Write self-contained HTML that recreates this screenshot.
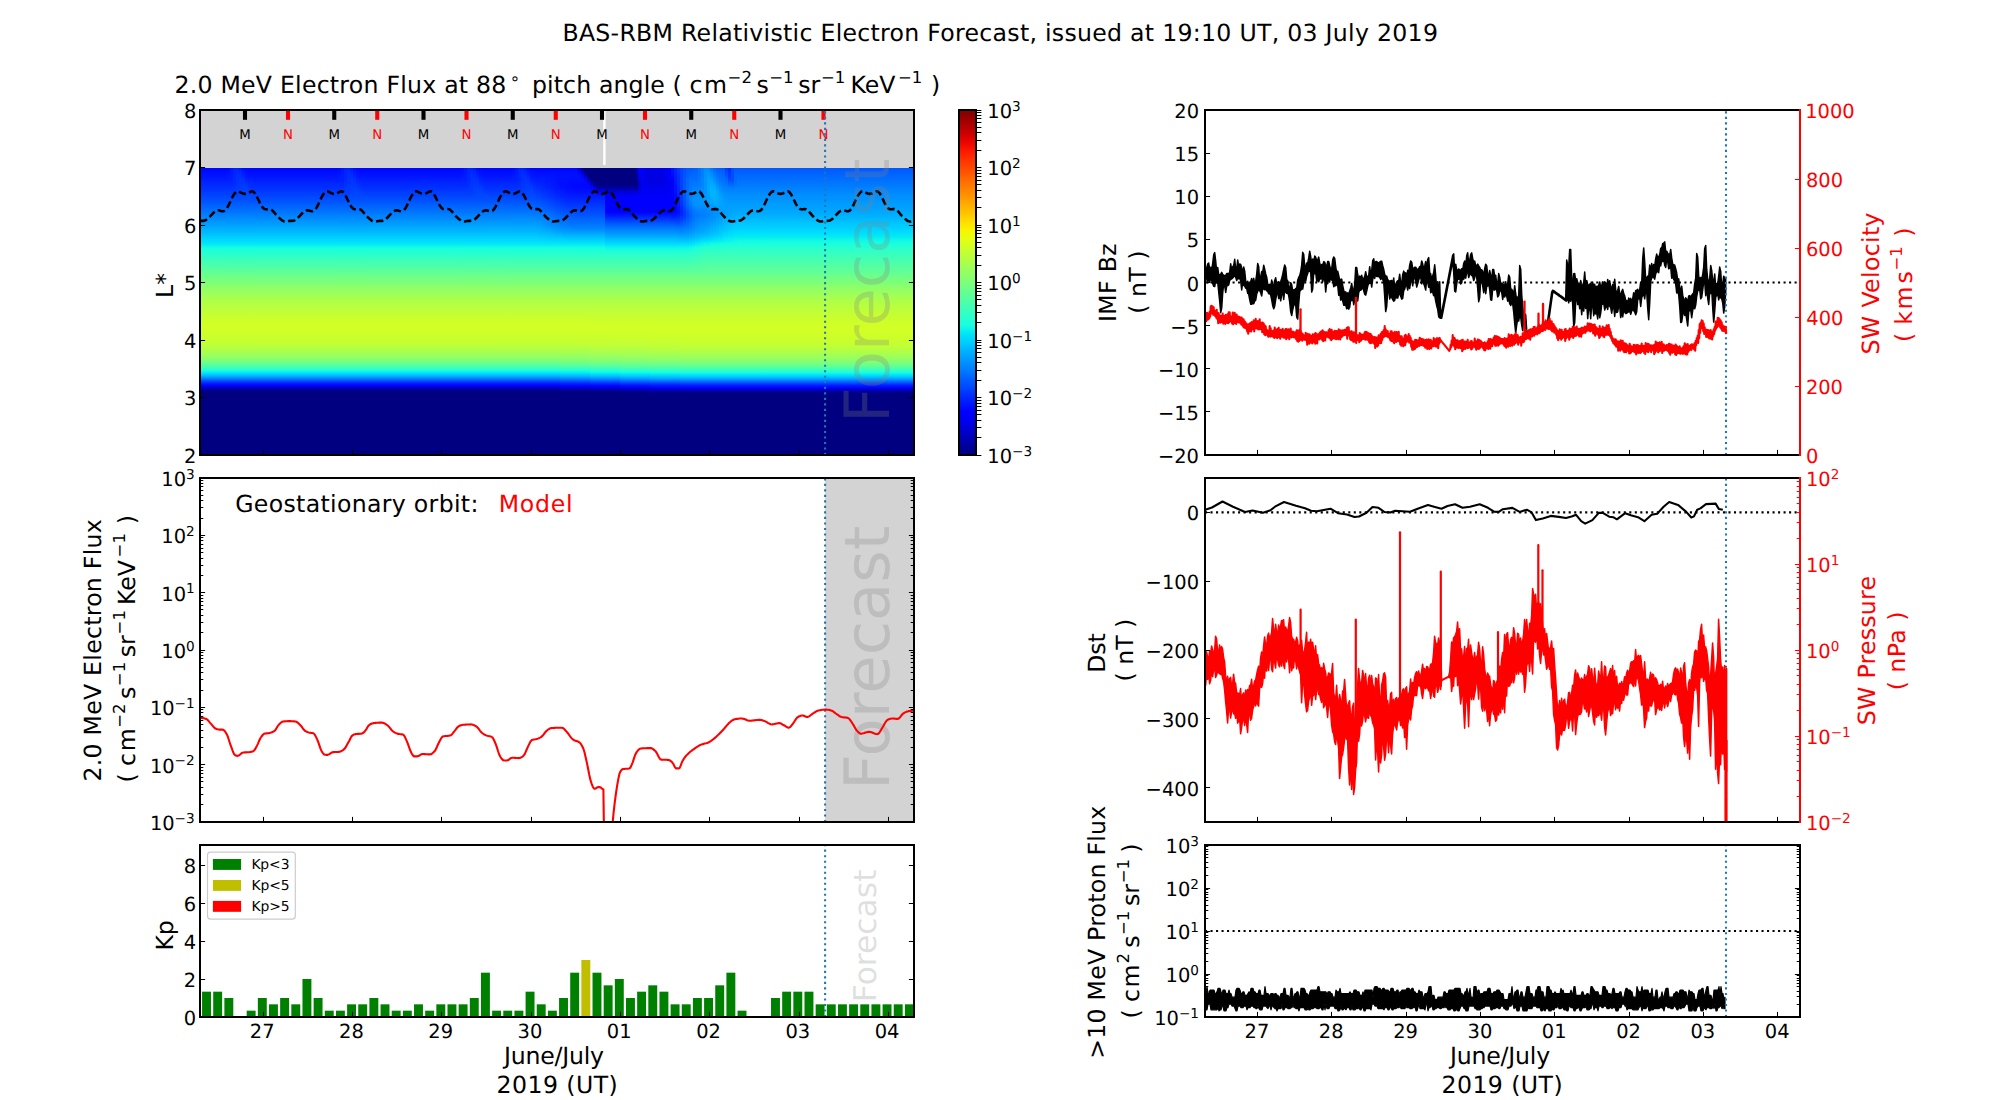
<!DOCTYPE html>
<html lang="en"><head><meta charset="utf-8"><title>BAS-RBM Relativistic Electron Forecast</title><style>html,body{margin:0;padding:0;background:#fff}svg{display:block}</style></head><body>
<svg width="2000" height="1100" viewBox="0 0 2000 1100" font-family="'DejaVu Sans','Liberation Sans',sans-serif" text-rendering="geometricPrecision">
<defs><clipPath id="c1"><rect x="200" y="110" width="714" height="345"/></clipPath><clipPath id="c2"><rect x="200" y="478" width="714" height="344"/></clipPath><clipPath id="c3"><rect x="200" y="845" width="714" height="172"/></clipPath><clipPath id="c4"><rect x="1205" y="110" width="595" height="345"/></clipPath><clipPath id="c5"><rect x="1205" y="478" width="595" height="344"/></clipPath><clipPath id="c6"><rect x="1205" y="845" width="595" height="172"/></clipPath><linearGradient id="hg0" x1="0" y1="0" x2="0" y2="1"><stop offset="0.0000" stop-color="#0004ff"/><stop offset="0.0070" stop-color="#0008ff"/><stop offset="0.0139" stop-color="#000cff"/><stop offset="0.0209" stop-color="#0010ff"/><stop offset="0.0279" stop-color="#0014ff"/><stop offset="0.0348" stop-color="#0018ff"/><stop offset="0.0418" stop-color="#001cff"/><stop offset="0.0488" stop-color="#0024ff"/><stop offset="0.0557" stop-color="#0028ff"/><stop offset="0.0627" stop-color="#002cff"/><stop offset="0.0697" stop-color="#0030ff"/><stop offset="0.0767" stop-color="#0034ff"/><stop offset="0.0836" stop-color="#003cff"/><stop offset="0.0906" stop-color="#0040ff"/><stop offset="0.0976" stop-color="#0044ff"/><stop offset="0.1045" stop-color="#004cff"/><stop offset="0.1115" stop-color="#0050ff"/><stop offset="0.1185" stop-color="#0054ff"/><stop offset="0.1254" stop-color="#005cff"/><stop offset="0.1324" stop-color="#0064ff"/><stop offset="0.1394" stop-color="#0068ff"/><stop offset="0.1463" stop-color="#0070ff"/><stop offset="0.1533" stop-color="#0074ff"/><stop offset="0.1603" stop-color="#007cff"/><stop offset="0.1672" stop-color="#0084ff"/><stop offset="0.1742" stop-color="#0088ff"/><stop offset="0.1812" stop-color="#0090ff"/><stop offset="0.1882" stop-color="#0098ff"/><stop offset="0.1951" stop-color="#009cff"/><stop offset="0.2021" stop-color="#00a4ff"/><stop offset="0.2091" stop-color="#00acff"/><stop offset="0.2160" stop-color="#00b4ff"/><stop offset="0.2230" stop-color="#00b8ff"/><stop offset="0.2300" stop-color="#00c0ff"/><stop offset="0.2369" stop-color="#00c8ff"/><stop offset="0.2439" stop-color="#00d0ff"/><stop offset="0.2509" stop-color="#00d8ff"/><stop offset="0.2578" stop-color="#00e0fb"/><stop offset="0.2648" stop-color="#02e8f4"/><stop offset="0.2718" stop-color="#0cf4eb"/><stop offset="0.2787" stop-color="#16ffe1"/><stop offset="0.2857" stop-color="#1cffdb"/><stop offset="0.2927" stop-color="#23ffd4"/><stop offset="0.2997" stop-color="#29ffce"/><stop offset="0.3066" stop-color="#30ffc7"/><stop offset="0.3136" stop-color="#36ffc1"/><stop offset="0.3206" stop-color="#3cffba"/><stop offset="0.3275" stop-color="#43ffb4"/><stop offset="0.3345" stop-color="#49ffad"/><stop offset="0.3415" stop-color="#50ffa7"/><stop offset="0.3484" stop-color="#53ffa4"/><stop offset="0.3554" stop-color="#5aff9d"/><stop offset="0.3624" stop-color="#60ff97"/><stop offset="0.3693" stop-color="#66ff90"/><stop offset="0.3763" stop-color="#6dff8a"/><stop offset="0.3833" stop-color="#73ff83"/><stop offset="0.3902" stop-color="#77ff80"/><stop offset="0.3972" stop-color="#7dff7a"/><stop offset="0.4042" stop-color="#83ff73"/><stop offset="0.4111" stop-color="#8aff6d"/><stop offset="0.4181" stop-color="#90ff66"/><stop offset="0.4251" stop-color="#94ff63"/><stop offset="0.4321" stop-color="#9aff5d"/><stop offset="0.4390" stop-color="#9dff5a"/><stop offset="0.4460" stop-color="#a4ff53"/><stop offset="0.4530" stop-color="#a7ff50"/><stop offset="0.4599" stop-color="#adff49"/><stop offset="0.4669" stop-color="#b1ff46"/><stop offset="0.4739" stop-color="#b4ff43"/><stop offset="0.4808" stop-color="#b7ff40"/><stop offset="0.4878" stop-color="#baff3c"/><stop offset="0.4948" stop-color="#beff39"/><stop offset="0.5017" stop-color="#c1ff36"/><stop offset="0.5087" stop-color="#c4ff33"/><stop offset="0.5157" stop-color="#c7ff30"/><stop offset="0.5226" stop-color="#caff2c"/><stop offset="0.5296" stop-color="#ceff29"/><stop offset="0.5366" stop-color="#ceff29"/><stop offset="0.5436" stop-color="#d1ff26"/><stop offset="0.5505" stop-color="#d1ff26"/><stop offset="0.5575" stop-color="#d1ff26"/><stop offset="0.5645" stop-color="#d1ff26"/><stop offset="0.5714" stop-color="#ceff29"/><stop offset="0.5784" stop-color="#ceff29"/><stop offset="0.5854" stop-color="#caff2c"/><stop offset="0.5923" stop-color="#caff2c"/><stop offset="0.5993" stop-color="#c7ff30"/><stop offset="0.6063" stop-color="#c4ff33"/><stop offset="0.6132" stop-color="#c1ff36"/><stop offset="0.6202" stop-color="#baff3c"/><stop offset="0.6272" stop-color="#b4ff43"/><stop offset="0.6341" stop-color="#adff49"/><stop offset="0.6411" stop-color="#a7ff50"/><stop offset="0.6481" stop-color="#a0ff56"/><stop offset="0.6551" stop-color="#97ff60"/><stop offset="0.6620" stop-color="#8dff6a"/><stop offset="0.6690" stop-color="#80ff77"/><stop offset="0.6760" stop-color="#73ff83"/><stop offset="0.6829" stop-color="#63ff94"/><stop offset="0.6899" stop-color="#4dffaa"/><stop offset="0.6969" stop-color="#36ffc1"/><stop offset="0.7038" stop-color="#1fffd7"/><stop offset="0.7108" stop-color="#09f0ee"/><stop offset="0.7178" stop-color="#00d4ff"/><stop offset="0.7247" stop-color="#00b4ff"/><stop offset="0.7317" stop-color="#008cff"/><stop offset="0.7387" stop-color="#0060ff"/><stop offset="0.7456" stop-color="#0038ff"/><stop offset="0.7526" stop-color="#0014ff"/><stop offset="0.7596" stop-color="#0000fa"/><stop offset="0.7666" stop-color="#0000bf"/><stop offset="0.7735" stop-color="#000092"/><stop offset="0.7805" stop-color="#000080"/><stop offset="0.7875" stop-color="#000080"/><stop offset="0.7944" stop-color="#000080"/><stop offset="1.0000" stop-color="#000080"/></linearGradient><linearGradient id="hg1" x1="0" y1="0" x2="0" y2="1"><stop offset="0.0000" stop-color="#0004ff"/><stop offset="0.0070" stop-color="#0008ff"/><stop offset="0.0139" stop-color="#000cff"/><stop offset="0.0209" stop-color="#0010ff"/><stop offset="0.0279" stop-color="#0014ff"/><stop offset="0.0348" stop-color="#0018ff"/><stop offset="0.0418" stop-color="#001cff"/><stop offset="0.0488" stop-color="#0024ff"/><stop offset="0.0557" stop-color="#0028ff"/><stop offset="0.0627" stop-color="#002cff"/><stop offset="0.0697" stop-color="#0030ff"/><stop offset="0.0767" stop-color="#0034ff"/><stop offset="0.0836" stop-color="#003cff"/><stop offset="0.0906" stop-color="#0040ff"/><stop offset="0.0976" stop-color="#0044ff"/><stop offset="0.1045" stop-color="#004cff"/><stop offset="0.1115" stop-color="#0050ff"/><stop offset="0.1185" stop-color="#0054ff"/><stop offset="0.1254" stop-color="#005cff"/><stop offset="0.1324" stop-color="#0064ff"/><stop offset="0.1394" stop-color="#0068ff"/><stop offset="0.1463" stop-color="#0070ff"/><stop offset="0.1533" stop-color="#0074ff"/><stop offset="0.1603" stop-color="#007cff"/><stop offset="0.1672" stop-color="#0084ff"/><stop offset="0.1742" stop-color="#0088ff"/><stop offset="0.1812" stop-color="#0090ff"/><stop offset="0.1882" stop-color="#0098ff"/><stop offset="0.1951" stop-color="#009cff"/><stop offset="0.2021" stop-color="#00a4ff"/><stop offset="0.2091" stop-color="#00acff"/><stop offset="0.2160" stop-color="#00b4ff"/><stop offset="0.2230" stop-color="#00b8ff"/><stop offset="0.2300" stop-color="#00c0ff"/><stop offset="0.2369" stop-color="#00c8ff"/><stop offset="0.2439" stop-color="#00d0ff"/><stop offset="0.2509" stop-color="#00d8ff"/><stop offset="0.2578" stop-color="#00e0fb"/><stop offset="0.2648" stop-color="#02e8f4"/><stop offset="0.2718" stop-color="#0cf4eb"/><stop offset="0.2787" stop-color="#16ffe1"/><stop offset="0.2857" stop-color="#1cffdb"/><stop offset="0.2927" stop-color="#23ffd4"/><stop offset="0.2997" stop-color="#29ffce"/><stop offset="0.3066" stop-color="#30ffc7"/><stop offset="0.3136" stop-color="#36ffc1"/><stop offset="0.3206" stop-color="#3cffba"/><stop offset="0.3275" stop-color="#43ffb4"/><stop offset="0.3345" stop-color="#49ffad"/><stop offset="0.3415" stop-color="#50ffa7"/><stop offset="0.3484" stop-color="#53ffa4"/><stop offset="0.3554" stop-color="#5aff9d"/><stop offset="0.3624" stop-color="#60ff97"/><stop offset="0.3693" stop-color="#66ff90"/><stop offset="0.3763" stop-color="#6dff8a"/><stop offset="0.3833" stop-color="#73ff83"/><stop offset="0.3902" stop-color="#77ff80"/><stop offset="0.3972" stop-color="#7dff7a"/><stop offset="0.4042" stop-color="#83ff73"/><stop offset="0.4111" stop-color="#8aff6d"/><stop offset="0.4181" stop-color="#90ff66"/><stop offset="0.4251" stop-color="#94ff63"/><stop offset="0.4321" stop-color="#9aff5d"/><stop offset="0.4390" stop-color="#9dff5a"/><stop offset="0.4460" stop-color="#a4ff53"/><stop offset="0.4530" stop-color="#a7ff50"/><stop offset="0.4599" stop-color="#adff49"/><stop offset="0.4669" stop-color="#b1ff46"/><stop offset="0.4739" stop-color="#b4ff43"/><stop offset="0.4808" stop-color="#b7ff40"/><stop offset="0.4878" stop-color="#baff3c"/><stop offset="0.4948" stop-color="#beff39"/><stop offset="0.5017" stop-color="#c1ff36"/><stop offset="0.5087" stop-color="#c4ff33"/><stop offset="0.5157" stop-color="#c7ff30"/><stop offset="0.5226" stop-color="#caff2c"/><stop offset="0.5296" stop-color="#ceff29"/><stop offset="0.5366" stop-color="#ceff29"/><stop offset="0.5436" stop-color="#d1ff26"/><stop offset="0.5505" stop-color="#d1ff26"/><stop offset="0.5575" stop-color="#d1ff26"/><stop offset="0.5645" stop-color="#d1ff26"/><stop offset="0.5714" stop-color="#ceff29"/><stop offset="0.5784" stop-color="#ceff29"/><stop offset="0.5854" stop-color="#caff2c"/><stop offset="0.5923" stop-color="#caff2c"/><stop offset="0.5993" stop-color="#c7ff30"/><stop offset="0.6063" stop-color="#c4ff33"/><stop offset="0.6132" stop-color="#c1ff36"/><stop offset="0.6202" stop-color="#baff3c"/><stop offset="0.6272" stop-color="#b4ff43"/><stop offset="0.6341" stop-color="#adff49"/><stop offset="0.6411" stop-color="#a7ff50"/><stop offset="0.6481" stop-color="#a0ff56"/><stop offset="0.6551" stop-color="#97ff60"/><stop offset="0.6620" stop-color="#8dff6a"/><stop offset="0.6690" stop-color="#83ff73"/><stop offset="0.6760" stop-color="#77ff80"/><stop offset="0.6829" stop-color="#66ff90"/><stop offset="0.6899" stop-color="#53ffa4"/><stop offset="0.6969" stop-color="#39ffbe"/><stop offset="0.7038" stop-color="#23ffd4"/><stop offset="0.7108" stop-color="#0cf4eb"/><stop offset="0.7178" stop-color="#00d8ff"/><stop offset="0.7247" stop-color="#00bcff"/><stop offset="0.7317" stop-color="#0094ff"/><stop offset="0.7387" stop-color="#0068ff"/><stop offset="0.7456" stop-color="#0040ff"/><stop offset="0.7526" stop-color="#001cff"/><stop offset="0.7596" stop-color="#0000ff"/><stop offset="0.7666" stop-color="#0000cd"/><stop offset="0.7735" stop-color="#00009b"/><stop offset="0.7805" stop-color="#000080"/><stop offset="0.7875" stop-color="#000080"/><stop offset="0.7944" stop-color="#000080"/><stop offset="1.0000" stop-color="#000080"/></linearGradient><linearGradient id="hg2" x1="0" y1="0" x2="0" y2="1"><stop offset="0.0000" stop-color="#0004ff"/><stop offset="0.0070" stop-color="#0008ff"/><stop offset="0.0139" stop-color="#000cff"/><stop offset="0.0209" stop-color="#0010ff"/><stop offset="0.0279" stop-color="#0014ff"/><stop offset="0.0348" stop-color="#0018ff"/><stop offset="0.0418" stop-color="#001cff"/><stop offset="0.0488" stop-color="#0024ff"/><stop offset="0.0557" stop-color="#0028ff"/><stop offset="0.0627" stop-color="#002cff"/><stop offset="0.0697" stop-color="#0030ff"/><stop offset="0.0767" stop-color="#0034ff"/><stop offset="0.0836" stop-color="#003cff"/><stop offset="0.0906" stop-color="#0040ff"/><stop offset="0.0976" stop-color="#0044ff"/><stop offset="0.1045" stop-color="#004cff"/><stop offset="0.1115" stop-color="#0050ff"/><stop offset="0.1185" stop-color="#0054ff"/><stop offset="0.1254" stop-color="#005cff"/><stop offset="0.1324" stop-color="#0064ff"/><stop offset="0.1394" stop-color="#0068ff"/><stop offset="0.1463" stop-color="#0070ff"/><stop offset="0.1533" stop-color="#0074ff"/><stop offset="0.1603" stop-color="#007cff"/><stop offset="0.1672" stop-color="#0084ff"/><stop offset="0.1742" stop-color="#0088ff"/><stop offset="0.1812" stop-color="#0090ff"/><stop offset="0.1882" stop-color="#0098ff"/><stop offset="0.1951" stop-color="#009cff"/><stop offset="0.2021" stop-color="#00a4ff"/><stop offset="0.2091" stop-color="#00acff"/><stop offset="0.2160" stop-color="#00b4ff"/><stop offset="0.2230" stop-color="#00b8ff"/><stop offset="0.2300" stop-color="#00c0ff"/><stop offset="0.2369" stop-color="#00c8ff"/><stop offset="0.2439" stop-color="#00d0ff"/><stop offset="0.2509" stop-color="#00d8ff"/><stop offset="0.2578" stop-color="#00e0fb"/><stop offset="0.2648" stop-color="#02e8f4"/><stop offset="0.2718" stop-color="#0cf4eb"/><stop offset="0.2787" stop-color="#16ffe1"/><stop offset="0.2857" stop-color="#1cffdb"/><stop offset="0.2927" stop-color="#23ffd4"/><stop offset="0.2997" stop-color="#29ffce"/><stop offset="0.3066" stop-color="#30ffc7"/><stop offset="0.3136" stop-color="#36ffc1"/><stop offset="0.3206" stop-color="#3cffba"/><stop offset="0.3275" stop-color="#43ffb4"/><stop offset="0.3345" stop-color="#49ffad"/><stop offset="0.3415" stop-color="#50ffa7"/><stop offset="0.3484" stop-color="#53ffa4"/><stop offset="0.3554" stop-color="#5aff9d"/><stop offset="0.3624" stop-color="#60ff97"/><stop offset="0.3693" stop-color="#66ff90"/><stop offset="0.3763" stop-color="#6dff8a"/><stop offset="0.3833" stop-color="#73ff83"/><stop offset="0.3902" stop-color="#77ff80"/><stop offset="0.3972" stop-color="#7dff7a"/><stop offset="0.4042" stop-color="#83ff73"/><stop offset="0.4111" stop-color="#8aff6d"/><stop offset="0.4181" stop-color="#90ff66"/><stop offset="0.4251" stop-color="#94ff63"/><stop offset="0.4321" stop-color="#9aff5d"/><stop offset="0.4390" stop-color="#9dff5a"/><stop offset="0.4460" stop-color="#a4ff53"/><stop offset="0.4530" stop-color="#a7ff50"/><stop offset="0.4599" stop-color="#adff49"/><stop offset="0.4669" stop-color="#b1ff46"/><stop offset="0.4739" stop-color="#b4ff43"/><stop offset="0.4808" stop-color="#b7ff40"/><stop offset="0.4878" stop-color="#baff3c"/><stop offset="0.4948" stop-color="#beff39"/><stop offset="0.5017" stop-color="#c1ff36"/><stop offset="0.5087" stop-color="#c4ff33"/><stop offset="0.5157" stop-color="#c7ff30"/><stop offset="0.5226" stop-color="#caff2c"/><stop offset="0.5296" stop-color="#caff2c"/><stop offset="0.5366" stop-color="#ceff29"/><stop offset="0.5436" stop-color="#d1ff26"/><stop offset="0.5505" stop-color="#d1ff26"/><stop offset="0.5575" stop-color="#d1ff26"/><stop offset="0.5645" stop-color="#d1ff26"/><stop offset="0.5714" stop-color="#ceff29"/><stop offset="0.5784" stop-color="#ceff29"/><stop offset="0.5854" stop-color="#caff2c"/><stop offset="0.5923" stop-color="#caff2c"/><stop offset="0.5993" stop-color="#c7ff30"/><stop offset="0.6063" stop-color="#c4ff33"/><stop offset="0.6132" stop-color="#c1ff36"/><stop offset="0.6202" stop-color="#beff39"/><stop offset="0.6272" stop-color="#b7ff40"/><stop offset="0.6341" stop-color="#b1ff46"/><stop offset="0.6411" stop-color="#aaff4d"/><stop offset="0.6481" stop-color="#a4ff53"/><stop offset="0.6551" stop-color="#9aff5d"/><stop offset="0.6620" stop-color="#90ff66"/><stop offset="0.6690" stop-color="#87ff70"/><stop offset="0.6760" stop-color="#7aff7d"/><stop offset="0.6829" stop-color="#6aff8d"/><stop offset="0.6899" stop-color="#56ffa0"/><stop offset="0.6969" stop-color="#40ffb7"/><stop offset="0.7038" stop-color="#29ffce"/><stop offset="0.7108" stop-color="#13fce4"/><stop offset="0.7178" stop-color="#00e0fb"/><stop offset="0.7247" stop-color="#00c4ff"/><stop offset="0.7317" stop-color="#009cff"/><stop offset="0.7387" stop-color="#0074ff"/><stop offset="0.7456" stop-color="#0048ff"/><stop offset="0.7526" stop-color="#0024ff"/><stop offset="0.7596" stop-color="#0000ff"/><stop offset="0.7666" stop-color="#0000da"/><stop offset="0.7735" stop-color="#0000a4"/><stop offset="0.7805" stop-color="#000080"/><stop offset="0.7875" stop-color="#000080"/><stop offset="0.7944" stop-color="#000080"/><stop offset="1.0000" stop-color="#000080"/></linearGradient><linearGradient id="hg3" x1="0" y1="0" x2="0" y2="1"><stop offset="0.0000" stop-color="#0004ff"/><stop offset="0.0070" stop-color="#0008ff"/><stop offset="0.0139" stop-color="#000cff"/><stop offset="0.0209" stop-color="#0010ff"/><stop offset="0.0279" stop-color="#0014ff"/><stop offset="0.0348" stop-color="#0018ff"/><stop offset="0.0418" stop-color="#001cff"/><stop offset="0.0488" stop-color="#0024ff"/><stop offset="0.0557" stop-color="#0028ff"/><stop offset="0.0627" stop-color="#002cff"/><stop offset="0.0697" stop-color="#0030ff"/><stop offset="0.0767" stop-color="#0034ff"/><stop offset="0.0836" stop-color="#003cff"/><stop offset="0.0906" stop-color="#0040ff"/><stop offset="0.0976" stop-color="#0044ff"/><stop offset="0.1045" stop-color="#004cff"/><stop offset="0.1115" stop-color="#0050ff"/><stop offset="0.1185" stop-color="#0054ff"/><stop offset="0.1254" stop-color="#005cff"/><stop offset="0.1324" stop-color="#0064ff"/><stop offset="0.1394" stop-color="#0068ff"/><stop offset="0.1463" stop-color="#0070ff"/><stop offset="0.1533" stop-color="#0074ff"/><stop offset="0.1603" stop-color="#007cff"/><stop offset="0.1672" stop-color="#0084ff"/><stop offset="0.1742" stop-color="#0088ff"/><stop offset="0.1812" stop-color="#0090ff"/><stop offset="0.1882" stop-color="#0098ff"/><stop offset="0.1951" stop-color="#009cff"/><stop offset="0.2021" stop-color="#00a4ff"/><stop offset="0.2091" stop-color="#00acff"/><stop offset="0.2160" stop-color="#00b4ff"/><stop offset="0.2230" stop-color="#00b8ff"/><stop offset="0.2300" stop-color="#00c0ff"/><stop offset="0.2369" stop-color="#00c8ff"/><stop offset="0.2439" stop-color="#00d0ff"/><stop offset="0.2509" stop-color="#00d8ff"/><stop offset="0.2578" stop-color="#00e0fb"/><stop offset="0.2648" stop-color="#02e8f4"/><stop offset="0.2718" stop-color="#0cf4eb"/><stop offset="0.2787" stop-color="#16ffe1"/><stop offset="0.2857" stop-color="#1cffdb"/><stop offset="0.2927" stop-color="#23ffd4"/><stop offset="0.2997" stop-color="#29ffce"/><stop offset="0.3066" stop-color="#30ffc7"/><stop offset="0.3136" stop-color="#36ffc1"/><stop offset="0.3206" stop-color="#3cffba"/><stop offset="0.3275" stop-color="#43ffb4"/><stop offset="0.3345" stop-color="#49ffad"/><stop offset="0.3415" stop-color="#50ffa7"/><stop offset="0.3484" stop-color="#53ffa4"/><stop offset="0.3554" stop-color="#5aff9d"/><stop offset="0.3624" stop-color="#60ff97"/><stop offset="0.3693" stop-color="#66ff90"/><stop offset="0.3763" stop-color="#6dff8a"/><stop offset="0.3833" stop-color="#73ff83"/><stop offset="0.3902" stop-color="#77ff80"/><stop offset="0.3972" stop-color="#7dff7a"/><stop offset="0.4042" stop-color="#83ff73"/><stop offset="0.4111" stop-color="#8aff6d"/><stop offset="0.4181" stop-color="#90ff66"/><stop offset="0.4251" stop-color="#94ff63"/><stop offset="0.4321" stop-color="#9aff5d"/><stop offset="0.4390" stop-color="#9dff5a"/><stop offset="0.4460" stop-color="#a4ff53"/><stop offset="0.4530" stop-color="#a7ff50"/><stop offset="0.4599" stop-color="#adff49"/><stop offset="0.4669" stop-color="#b1ff46"/><stop offset="0.4739" stop-color="#b4ff43"/><stop offset="0.4808" stop-color="#b7ff40"/><stop offset="0.4878" stop-color="#baff3c"/><stop offset="0.4948" stop-color="#beff39"/><stop offset="0.5017" stop-color="#c1ff36"/><stop offset="0.5087" stop-color="#c4ff33"/><stop offset="0.5157" stop-color="#c7ff30"/><stop offset="0.5226" stop-color="#caff2c"/><stop offset="0.5296" stop-color="#caff2c"/><stop offset="0.5366" stop-color="#ceff29"/><stop offset="0.5436" stop-color="#ceff29"/><stop offset="0.5505" stop-color="#d1ff26"/><stop offset="0.5575" stop-color="#d1ff26"/><stop offset="0.5645" stop-color="#d1ff26"/><stop offset="0.5714" stop-color="#ceff29"/><stop offset="0.5784" stop-color="#ceff29"/><stop offset="0.5854" stop-color="#ceff29"/><stop offset="0.5923" stop-color="#caff2c"/><stop offset="0.5993" stop-color="#c7ff30"/><stop offset="0.6063" stop-color="#c7ff30"/><stop offset="0.6132" stop-color="#c1ff36"/><stop offset="0.6202" stop-color="#beff39"/><stop offset="0.6272" stop-color="#b7ff40"/><stop offset="0.6341" stop-color="#b1ff46"/><stop offset="0.6411" stop-color="#aaff4d"/><stop offset="0.6481" stop-color="#a4ff53"/><stop offset="0.6551" stop-color="#9dff5a"/><stop offset="0.6620" stop-color="#94ff63"/><stop offset="0.6690" stop-color="#87ff70"/><stop offset="0.6760" stop-color="#7dff7a"/><stop offset="0.6829" stop-color="#6dff8a"/><stop offset="0.6899" stop-color="#5dff9a"/><stop offset="0.6969" stop-color="#46ffb1"/><stop offset="0.7038" stop-color="#30ffc7"/><stop offset="0.7108" stop-color="#19ffde"/><stop offset="0.7178" stop-color="#02e8f4"/><stop offset="0.7247" stop-color="#00ccff"/><stop offset="0.7317" stop-color="#00a8ff"/><stop offset="0.7387" stop-color="#0080ff"/><stop offset="0.7456" stop-color="#0054ff"/><stop offset="0.7526" stop-color="#0030ff"/><stop offset="0.7596" stop-color="#0008ff"/><stop offset="0.7666" stop-color="#0000e8"/><stop offset="0.7735" stop-color="#0000b2"/><stop offset="0.7805" stop-color="#000084"/><stop offset="0.7875" stop-color="#000080"/><stop offset="0.7944" stop-color="#000080"/><stop offset="1.0000" stop-color="#000080"/></linearGradient><linearGradient id="hg4" x1="0" y1="0" x2="0" y2="1"><stop offset="0.0000" stop-color="#0004ff"/><stop offset="0.0070" stop-color="#0008ff"/><stop offset="0.0139" stop-color="#000cff"/><stop offset="0.0209" stop-color="#0010ff"/><stop offset="0.0279" stop-color="#0014ff"/><stop offset="0.0348" stop-color="#0018ff"/><stop offset="0.0418" stop-color="#001cff"/><stop offset="0.0488" stop-color="#0024ff"/><stop offset="0.0557" stop-color="#0028ff"/><stop offset="0.0627" stop-color="#002cff"/><stop offset="0.0697" stop-color="#0030ff"/><stop offset="0.0767" stop-color="#0034ff"/><stop offset="0.0836" stop-color="#003cff"/><stop offset="0.0906" stop-color="#0040ff"/><stop offset="0.0976" stop-color="#0044ff"/><stop offset="0.1045" stop-color="#004cff"/><stop offset="0.1115" stop-color="#0050ff"/><stop offset="0.1185" stop-color="#0054ff"/><stop offset="0.1254" stop-color="#005cff"/><stop offset="0.1324" stop-color="#0064ff"/><stop offset="0.1394" stop-color="#0068ff"/><stop offset="0.1463" stop-color="#0070ff"/><stop offset="0.1533" stop-color="#0074ff"/><stop offset="0.1603" stop-color="#007cff"/><stop offset="0.1672" stop-color="#0084ff"/><stop offset="0.1742" stop-color="#0088ff"/><stop offset="0.1812" stop-color="#0090ff"/><stop offset="0.1882" stop-color="#0098ff"/><stop offset="0.1951" stop-color="#009cff"/><stop offset="0.2021" stop-color="#00a4ff"/><stop offset="0.2091" stop-color="#00acff"/><stop offset="0.2160" stop-color="#00b4ff"/><stop offset="0.2230" stop-color="#00b8ff"/><stop offset="0.2300" stop-color="#00c0ff"/><stop offset="0.2369" stop-color="#00c8ff"/><stop offset="0.2439" stop-color="#00d0ff"/><stop offset="0.2509" stop-color="#00d8ff"/><stop offset="0.2578" stop-color="#00e0fb"/><stop offset="0.2648" stop-color="#02e8f4"/><stop offset="0.2718" stop-color="#0cf4eb"/><stop offset="0.2787" stop-color="#16ffe1"/><stop offset="0.2857" stop-color="#1cffdb"/><stop offset="0.2927" stop-color="#23ffd4"/><stop offset="0.2997" stop-color="#29ffce"/><stop offset="0.3066" stop-color="#30ffc7"/><stop offset="0.3136" stop-color="#36ffc1"/><stop offset="0.3206" stop-color="#3cffba"/><stop offset="0.3275" stop-color="#43ffb4"/><stop offset="0.3345" stop-color="#49ffad"/><stop offset="0.3415" stop-color="#50ffa7"/><stop offset="0.3484" stop-color="#53ffa4"/><stop offset="0.3554" stop-color="#5aff9d"/><stop offset="0.3624" stop-color="#60ff97"/><stop offset="0.3693" stop-color="#66ff90"/><stop offset="0.3763" stop-color="#6dff8a"/><stop offset="0.3833" stop-color="#73ff83"/><stop offset="0.3902" stop-color="#77ff80"/><stop offset="0.3972" stop-color="#7dff7a"/><stop offset="0.4042" stop-color="#83ff73"/><stop offset="0.4111" stop-color="#8aff6d"/><stop offset="0.4181" stop-color="#90ff66"/><stop offset="0.4251" stop-color="#94ff63"/><stop offset="0.4321" stop-color="#9aff5d"/><stop offset="0.4390" stop-color="#9dff5a"/><stop offset="0.4460" stop-color="#a4ff53"/><stop offset="0.4530" stop-color="#a7ff50"/><stop offset="0.4599" stop-color="#adff49"/><stop offset="0.4669" stop-color="#b1ff46"/><stop offset="0.4739" stop-color="#b4ff43"/><stop offset="0.4808" stop-color="#b7ff40"/><stop offset="0.4878" stop-color="#baff3c"/><stop offset="0.4948" stop-color="#beff39"/><stop offset="0.5017" stop-color="#c1ff36"/><stop offset="0.5087" stop-color="#c4ff33"/><stop offset="0.5157" stop-color="#c7ff30"/><stop offset="0.5226" stop-color="#caff2c"/><stop offset="0.5296" stop-color="#caff2c"/><stop offset="0.5366" stop-color="#ceff29"/><stop offset="0.5436" stop-color="#ceff29"/><stop offset="0.5505" stop-color="#d1ff26"/><stop offset="0.5575" stop-color="#d1ff26"/><stop offset="0.5645" stop-color="#d1ff26"/><stop offset="0.5714" stop-color="#d1ff26"/><stop offset="0.5784" stop-color="#ceff29"/><stop offset="0.5854" stop-color="#ceff29"/><stop offset="0.5923" stop-color="#caff2c"/><stop offset="0.5993" stop-color="#c7ff30"/><stop offset="0.6063" stop-color="#c7ff30"/><stop offset="0.6132" stop-color="#c4ff33"/><stop offset="0.6202" stop-color="#beff39"/><stop offset="0.6272" stop-color="#baff3c"/><stop offset="0.6341" stop-color="#b4ff43"/><stop offset="0.6411" stop-color="#adff49"/><stop offset="0.6481" stop-color="#a7ff50"/><stop offset="0.6551" stop-color="#9dff5a"/><stop offset="0.6620" stop-color="#94ff63"/><stop offset="0.6690" stop-color="#8aff6d"/><stop offset="0.6760" stop-color="#7dff7a"/><stop offset="0.6829" stop-color="#70ff87"/><stop offset="0.6899" stop-color="#60ff97"/><stop offset="0.6969" stop-color="#49ffad"/><stop offset="0.7038" stop-color="#33ffc4"/><stop offset="0.7108" stop-color="#1cffdb"/><stop offset="0.7178" stop-color="#06ecf1"/><stop offset="0.7247" stop-color="#00d0ff"/><stop offset="0.7317" stop-color="#00b0ff"/><stop offset="0.7387" stop-color="#0088ff"/><stop offset="0.7456" stop-color="#005cff"/><stop offset="0.7526" stop-color="#0034ff"/><stop offset="0.7596" stop-color="#0010ff"/><stop offset="0.7666" stop-color="#0000f6"/><stop offset="0.7735" stop-color="#0000bb"/><stop offset="0.7805" stop-color="#00008d"/><stop offset="0.7875" stop-color="#000080"/><stop offset="0.7944" stop-color="#000080"/><stop offset="1.0000" stop-color="#000080"/></linearGradient><linearGradient id="hg5" x1="0" y1="0" x2="0" y2="1"><stop offset="0.0000" stop-color="#0004ff"/><stop offset="0.0070" stop-color="#0008ff"/><stop offset="0.0139" stop-color="#000cff"/><stop offset="0.0209" stop-color="#0010ff"/><stop offset="0.0279" stop-color="#0014ff"/><stop offset="0.0348" stop-color="#0018ff"/><stop offset="0.0418" stop-color="#001cff"/><stop offset="0.0488" stop-color="#0024ff"/><stop offset="0.0557" stop-color="#0028ff"/><stop offset="0.0627" stop-color="#002cff"/><stop offset="0.0697" stop-color="#0030ff"/><stop offset="0.0767" stop-color="#0034ff"/><stop offset="0.0836" stop-color="#003cff"/><stop offset="0.0906" stop-color="#0040ff"/><stop offset="0.0976" stop-color="#0044ff"/><stop offset="0.1045" stop-color="#004cff"/><stop offset="0.1115" stop-color="#0050ff"/><stop offset="0.1185" stop-color="#0054ff"/><stop offset="0.1254" stop-color="#005cff"/><stop offset="0.1324" stop-color="#0064ff"/><stop offset="0.1394" stop-color="#0068ff"/><stop offset="0.1463" stop-color="#0070ff"/><stop offset="0.1533" stop-color="#0074ff"/><stop offset="0.1603" stop-color="#007cff"/><stop offset="0.1672" stop-color="#0084ff"/><stop offset="0.1742" stop-color="#0088ff"/><stop offset="0.1812" stop-color="#0090ff"/><stop offset="0.1882" stop-color="#0098ff"/><stop offset="0.1951" stop-color="#009cff"/><stop offset="0.2021" stop-color="#00a4ff"/><stop offset="0.2091" stop-color="#00acff"/><stop offset="0.2160" stop-color="#00b4ff"/><stop offset="0.2230" stop-color="#00b8ff"/><stop offset="0.2300" stop-color="#00c0ff"/><stop offset="0.2369" stop-color="#00c8ff"/><stop offset="0.2439" stop-color="#00d0ff"/><stop offset="0.2509" stop-color="#00d8ff"/><stop offset="0.2578" stop-color="#00e0fb"/><stop offset="0.2648" stop-color="#02e8f4"/><stop offset="0.2718" stop-color="#0cf4eb"/><stop offset="0.2787" stop-color="#16ffe1"/><stop offset="0.2857" stop-color="#1cffdb"/><stop offset="0.2927" stop-color="#23ffd4"/><stop offset="0.2997" stop-color="#29ffce"/><stop offset="0.3066" stop-color="#30ffc7"/><stop offset="0.3136" stop-color="#36ffc1"/><stop offset="0.3206" stop-color="#3cffba"/><stop offset="0.3275" stop-color="#43ffb4"/><stop offset="0.3345" stop-color="#49ffad"/><stop offset="0.3415" stop-color="#50ffa7"/><stop offset="0.3484" stop-color="#53ffa4"/><stop offset="0.3554" stop-color="#5aff9d"/><stop offset="0.3624" stop-color="#60ff97"/><stop offset="0.3693" stop-color="#66ff90"/><stop offset="0.3763" stop-color="#6dff8a"/><stop offset="0.3833" stop-color="#73ff83"/><stop offset="0.3902" stop-color="#77ff80"/><stop offset="0.3972" stop-color="#7dff7a"/><stop offset="0.4042" stop-color="#83ff73"/><stop offset="0.4111" stop-color="#8aff6d"/><stop offset="0.4181" stop-color="#90ff66"/><stop offset="0.4251" stop-color="#94ff63"/><stop offset="0.4321" stop-color="#9aff5d"/><stop offset="0.4390" stop-color="#9dff5a"/><stop offset="0.4460" stop-color="#a4ff53"/><stop offset="0.4530" stop-color="#a7ff50"/><stop offset="0.4599" stop-color="#adff49"/><stop offset="0.4669" stop-color="#b1ff46"/><stop offset="0.4739" stop-color="#b4ff43"/><stop offset="0.4808" stop-color="#b7ff40"/><stop offset="0.4878" stop-color="#baff3c"/><stop offset="0.4948" stop-color="#beff39"/><stop offset="0.5017" stop-color="#c1ff36"/><stop offset="0.5087" stop-color="#c4ff33"/><stop offset="0.5157" stop-color="#c7ff30"/><stop offset="0.5226" stop-color="#caff2c"/><stop offset="0.5296" stop-color="#caff2c"/><stop offset="0.5366" stop-color="#ceff29"/><stop offset="0.5436" stop-color="#ceff29"/><stop offset="0.5505" stop-color="#d1ff26"/><stop offset="0.5575" stop-color="#d1ff26"/><stop offset="0.5645" stop-color="#d1ff26"/><stop offset="0.5714" stop-color="#d1ff26"/><stop offset="0.5784" stop-color="#ceff29"/><stop offset="0.5854" stop-color="#ceff29"/><stop offset="0.5923" stop-color="#caff2c"/><stop offset="0.5993" stop-color="#caff2c"/><stop offset="0.6063" stop-color="#c7ff30"/><stop offset="0.6132" stop-color="#c4ff33"/><stop offset="0.6202" stop-color="#c1ff36"/><stop offset="0.6272" stop-color="#baff3c"/><stop offset="0.6341" stop-color="#b4ff43"/><stop offset="0.6411" stop-color="#adff49"/><stop offset="0.6481" stop-color="#a7ff50"/><stop offset="0.6551" stop-color="#a0ff56"/><stop offset="0.6620" stop-color="#97ff60"/><stop offset="0.6690" stop-color="#8dff6a"/><stop offset="0.6760" stop-color="#80ff77"/><stop offset="0.6829" stop-color="#73ff83"/><stop offset="0.6899" stop-color="#63ff94"/><stop offset="0.6969" stop-color="#4dffaa"/><stop offset="0.7038" stop-color="#36ffc1"/><stop offset="0.7108" stop-color="#1fffd7"/><stop offset="0.7178" stop-color="#09f0ee"/><stop offset="0.7247" stop-color="#00d4ff"/><stop offset="0.7317" stop-color="#00b4ff"/><stop offset="0.7387" stop-color="#008cff"/><stop offset="0.7456" stop-color="#0060ff"/><stop offset="0.7526" stop-color="#0038ff"/><stop offset="0.7596" stop-color="#0014ff"/><stop offset="0.7666" stop-color="#0000fa"/><stop offset="0.7735" stop-color="#0000bf"/><stop offset="0.7805" stop-color="#000092"/><stop offset="0.7875" stop-color="#000080"/><stop offset="0.7944" stop-color="#000080"/><stop offset="1.0000" stop-color="#000080"/></linearGradient><linearGradient id="s1" x1="0" y1="0" x2="0" y2="1"><stop offset="0.000" stop-color="#0008ff"/><stop offset="0.037" stop-color="#0010ff"/><stop offset="0.074" stop-color="#0018ff"/><stop offset="0.111" stop-color="#0020ff"/><stop offset="0.148" stop-color="#0028ff"/><stop offset="0.185" stop-color="#0030ff"/><stop offset="0.222" stop-color="#003cff"/><stop offset="0.259" stop-color="#0044ff"/><stop offset="0.296" stop-color="#0050ff"/><stop offset="0.333" stop-color="#005cff"/><stop offset="0.370" stop-color="#0068ff"/><stop offset="0.407" stop-color="#0074ff"/><stop offset="0.444" stop-color="#0084ff"/><stop offset="0.481" stop-color="#0090ff"/><stop offset="0.519" stop-color="#009cff"/><stop offset="0.556" stop-color="#00acff"/><stop offset="0.593" stop-color="#00b8ff"/><stop offset="0.630" stop-color="#00c8ff"/><stop offset="0.667" stop-color="#00d8ff"/><stop offset="0.704" stop-color="#02e8f4"/><stop offset="0.741" stop-color="#16ffe1"/><stop offset="0.778" stop-color="#23ffd4"/><stop offset="0.815" stop-color="#30ffc7"/><stop offset="0.852" stop-color="#3cffba"/><stop offset="0.889" stop-color="#49ffad"/><stop offset="0.926" stop-color="#53ffa4"/><stop offset="0.963" stop-color="#60ff97"/><stop offset="1.000" stop-color="#6dff8a"/></linearGradient><linearGradient id="s2" x1="0" y1="0" x2="0" y2="1"><stop offset="0.000" stop-color="#0014ff"/><stop offset="0.037" stop-color="#0018ff"/><stop offset="0.074" stop-color="#001cff"/><stop offset="0.111" stop-color="#0020ff"/><stop offset="0.148" stop-color="#0028ff"/><stop offset="0.185" stop-color="#0030ff"/><stop offset="0.222" stop-color="#003cff"/><stop offset="0.259" stop-color="#0044ff"/><stop offset="0.296" stop-color="#0050ff"/><stop offset="0.333" stop-color="#005cff"/><stop offset="0.370" stop-color="#0068ff"/><stop offset="0.407" stop-color="#0074ff"/><stop offset="0.444" stop-color="#0084ff"/><stop offset="0.481" stop-color="#0090ff"/><stop offset="0.519" stop-color="#009cff"/><stop offset="0.556" stop-color="#00acff"/><stop offset="0.593" stop-color="#00b8ff"/><stop offset="0.630" stop-color="#00c8ff"/><stop offset="0.667" stop-color="#00d8ff"/><stop offset="0.704" stop-color="#02e8f4"/><stop offset="0.741" stop-color="#16ffe1"/><stop offset="0.778" stop-color="#23ffd4"/><stop offset="0.815" stop-color="#30ffc7"/><stop offset="0.852" stop-color="#3cffba"/><stop offset="0.889" stop-color="#49ffad"/><stop offset="0.926" stop-color="#53ffa4"/><stop offset="0.963" stop-color="#60ff97"/><stop offset="1.000" stop-color="#6dff8a"/></linearGradient><linearGradient id="s3" x1="0" y1="0" x2="0" y2="1"><stop offset="0.000" stop-color="#0020ff"/><stop offset="0.037" stop-color="#0024ff"/><stop offset="0.074" stop-color="#0024ff"/><stop offset="0.111" stop-color="#0028ff"/><stop offset="0.148" stop-color="#002cff"/><stop offset="0.185" stop-color="#0034ff"/><stop offset="0.222" stop-color="#003cff"/><stop offset="0.259" stop-color="#0044ff"/><stop offset="0.296" stop-color="#0050ff"/><stop offset="0.333" stop-color="#005cff"/><stop offset="0.370" stop-color="#0068ff"/><stop offset="0.407" stop-color="#0074ff"/><stop offset="0.444" stop-color="#0084ff"/><stop offset="0.481" stop-color="#0090ff"/><stop offset="0.519" stop-color="#009cff"/><stop offset="0.556" stop-color="#00acff"/><stop offset="0.593" stop-color="#00b8ff"/><stop offset="0.630" stop-color="#00c8ff"/><stop offset="0.667" stop-color="#00d8ff"/><stop offset="0.704" stop-color="#02e8f4"/><stop offset="0.741" stop-color="#16ffe1"/><stop offset="0.778" stop-color="#23ffd4"/><stop offset="0.815" stop-color="#30ffc7"/><stop offset="0.852" stop-color="#3cffba"/><stop offset="0.889" stop-color="#49ffad"/><stop offset="0.926" stop-color="#53ffa4"/><stop offset="0.963" stop-color="#60ff97"/><stop offset="1.000" stop-color="#6dff8a"/></linearGradient><linearGradient id="s4" x1="0" y1="0" x2="0" y2="1"><stop offset="0.000" stop-color="#0020ff"/><stop offset="0.037" stop-color="#0028ff"/><stop offset="0.074" stop-color="#0030ff"/><stop offset="0.111" stop-color="#0030ff"/><stop offset="0.148" stop-color="#0034ff"/><stop offset="0.185" stop-color="#0038ff"/><stop offset="0.222" stop-color="#003cff"/><stop offset="0.259" stop-color="#0044ff"/><stop offset="0.296" stop-color="#0050ff"/><stop offset="0.333" stop-color="#005cff"/><stop offset="0.370" stop-color="#0068ff"/><stop offset="0.407" stop-color="#0074ff"/><stop offset="0.444" stop-color="#0084ff"/><stop offset="0.481" stop-color="#0090ff"/><stop offset="0.519" stop-color="#009cff"/><stop offset="0.556" stop-color="#00acff"/><stop offset="0.593" stop-color="#00b8ff"/><stop offset="0.630" stop-color="#00c8ff"/><stop offset="0.667" stop-color="#00d8ff"/><stop offset="0.704" stop-color="#02e8f4"/><stop offset="0.741" stop-color="#16ffe1"/><stop offset="0.778" stop-color="#23ffd4"/><stop offset="0.815" stop-color="#30ffc7"/><stop offset="0.852" stop-color="#3cffba"/><stop offset="0.889" stop-color="#49ffad"/><stop offset="0.926" stop-color="#53ffa4"/><stop offset="0.963" stop-color="#60ff97"/><stop offset="1.000" stop-color="#6dff8a"/></linearGradient><linearGradient id="s5" x1="0" y1="0" x2="0" y2="1"><stop offset="0.000" stop-color="#0014ff"/><stop offset="0.037" stop-color="#0024ff"/><stop offset="0.074" stop-color="#002cff"/><stop offset="0.111" stop-color="#0034ff"/><stop offset="0.148" stop-color="#0038ff"/><stop offset="0.185" stop-color="#003cff"/><stop offset="0.222" stop-color="#0040ff"/><stop offset="0.259" stop-color="#0048ff"/><stop offset="0.296" stop-color="#0050ff"/><stop offset="0.333" stop-color="#005cff"/><stop offset="0.370" stop-color="#0068ff"/><stop offset="0.407" stop-color="#0074ff"/><stop offset="0.444" stop-color="#0084ff"/><stop offset="0.481" stop-color="#0090ff"/><stop offset="0.519" stop-color="#009cff"/><stop offset="0.556" stop-color="#00acff"/><stop offset="0.593" stop-color="#00b8ff"/><stop offset="0.630" stop-color="#00c8ff"/><stop offset="0.667" stop-color="#00d8ff"/><stop offset="0.704" stop-color="#02e8f4"/><stop offset="0.741" stop-color="#16ffe1"/><stop offset="0.778" stop-color="#23ffd4"/><stop offset="0.815" stop-color="#30ffc7"/><stop offset="0.852" stop-color="#3cffba"/><stop offset="0.889" stop-color="#49ffad"/><stop offset="0.926" stop-color="#53ffa4"/><stop offset="0.963" stop-color="#60ff97"/><stop offset="1.000" stop-color="#6dff8a"/></linearGradient><linearGradient id="s6" x1="0" y1="0" x2="0" y2="1"><stop offset="0.000" stop-color="#0008ff"/><stop offset="0.037" stop-color="#0018ff"/><stop offset="0.074" stop-color="#0024ff"/><stop offset="0.111" stop-color="#0030ff"/><stop offset="0.148" stop-color="#0038ff"/><stop offset="0.185" stop-color="#003cff"/><stop offset="0.222" stop-color="#0044ff"/><stop offset="0.259" stop-color="#0048ff"/><stop offset="0.296" stop-color="#0050ff"/><stop offset="0.333" stop-color="#005cff"/><stop offset="0.370" stop-color="#0068ff"/><stop offset="0.407" stop-color="#0074ff"/><stop offset="0.444" stop-color="#0084ff"/><stop offset="0.481" stop-color="#0090ff"/><stop offset="0.519" stop-color="#009cff"/><stop offset="0.556" stop-color="#00acff"/><stop offset="0.593" stop-color="#00b8ff"/><stop offset="0.630" stop-color="#00c8ff"/><stop offset="0.667" stop-color="#00d8ff"/><stop offset="0.704" stop-color="#02e8f4"/><stop offset="0.741" stop-color="#16ffe1"/><stop offset="0.778" stop-color="#23ffd4"/><stop offset="0.815" stop-color="#30ffc7"/><stop offset="0.852" stop-color="#3cffba"/><stop offset="0.889" stop-color="#49ffad"/><stop offset="0.926" stop-color="#53ffa4"/><stop offset="0.963" stop-color="#60ff97"/><stop offset="1.000" stop-color="#6dff8a"/></linearGradient><linearGradient id="s7" x1="0" y1="0" x2="0" y2="1"><stop offset="0.000" stop-color="#0004ff"/><stop offset="0.037" stop-color="#0010ff"/><stop offset="0.074" stop-color="#0018ff"/><stop offset="0.111" stop-color="#0024ff"/><stop offset="0.148" stop-color="#0030ff"/><stop offset="0.185" stop-color="#003cff"/><stop offset="0.222" stop-color="#0044ff"/><stop offset="0.259" stop-color="#0048ff"/><stop offset="0.296" stop-color="#0050ff"/><stop offset="0.333" stop-color="#005cff"/><stop offset="0.370" stop-color="#0068ff"/><stop offset="0.407" stop-color="#0074ff"/><stop offset="0.444" stop-color="#0084ff"/><stop offset="0.481" stop-color="#0090ff"/><stop offset="0.519" stop-color="#009cff"/><stop offset="0.556" stop-color="#00acff"/><stop offset="0.593" stop-color="#00b8ff"/><stop offset="0.630" stop-color="#00c8ff"/><stop offset="0.667" stop-color="#00d8ff"/><stop offset="0.704" stop-color="#02e8f4"/><stop offset="0.741" stop-color="#16ffe1"/><stop offset="0.778" stop-color="#23ffd4"/><stop offset="0.815" stop-color="#30ffc7"/><stop offset="0.852" stop-color="#3cffba"/><stop offset="0.889" stop-color="#49ffad"/><stop offset="0.926" stop-color="#53ffa4"/><stop offset="0.963" stop-color="#60ff97"/><stop offset="1.000" stop-color="#6dff8a"/></linearGradient><linearGradient id="s8" x1="0" y1="0" x2="0" y2="1"><stop offset="0.000" stop-color="#0004ff"/><stop offset="0.037" stop-color="#000cff"/><stop offset="0.074" stop-color="#0014ff"/><stop offset="0.111" stop-color="#0020ff"/><stop offset="0.148" stop-color="#002cff"/><stop offset="0.185" stop-color="#0034ff"/><stop offset="0.222" stop-color="#0040ff"/><stop offset="0.259" stop-color="#0048ff"/><stop offset="0.296" stop-color="#0050ff"/><stop offset="0.333" stop-color="#005cff"/><stop offset="0.370" stop-color="#0068ff"/><stop offset="0.407" stop-color="#0074ff"/><stop offset="0.444" stop-color="#0084ff"/><stop offset="0.481" stop-color="#0090ff"/><stop offset="0.519" stop-color="#009cff"/><stop offset="0.556" stop-color="#00acff"/><stop offset="0.593" stop-color="#00b8ff"/><stop offset="0.630" stop-color="#00c8ff"/><stop offset="0.667" stop-color="#00d8ff"/><stop offset="0.704" stop-color="#02e8f4"/><stop offset="0.741" stop-color="#16ffe1"/><stop offset="0.778" stop-color="#23ffd4"/><stop offset="0.815" stop-color="#30ffc7"/><stop offset="0.852" stop-color="#3cffba"/><stop offset="0.889" stop-color="#49ffad"/><stop offset="0.926" stop-color="#53ffa4"/><stop offset="0.963" stop-color="#60ff97"/><stop offset="1.000" stop-color="#6dff8a"/></linearGradient><linearGradient id="s9" x1="0" y1="0" x2="0" y2="1"><stop offset="0.000" stop-color="#0004ff"/><stop offset="0.037" stop-color="#000cff"/><stop offset="0.074" stop-color="#0014ff"/><stop offset="0.111" stop-color="#0020ff"/><stop offset="0.148" stop-color="#0028ff"/><stop offset="0.185" stop-color="#0030ff"/><stop offset="0.222" stop-color="#003cff"/><stop offset="0.259" stop-color="#0048ff"/><stop offset="0.296" stop-color="#0050ff"/><stop offset="0.333" stop-color="#005cff"/><stop offset="0.370" stop-color="#0068ff"/><stop offset="0.407" stop-color="#0074ff"/><stop offset="0.444" stop-color="#0084ff"/><stop offset="0.481" stop-color="#0090ff"/><stop offset="0.519" stop-color="#009cff"/><stop offset="0.556" stop-color="#00acff"/><stop offset="0.593" stop-color="#00b8ff"/><stop offset="0.630" stop-color="#00c8ff"/><stop offset="0.667" stop-color="#00d8ff"/><stop offset="0.704" stop-color="#02e8f4"/><stop offset="0.741" stop-color="#16ffe1"/><stop offset="0.778" stop-color="#23ffd4"/><stop offset="0.815" stop-color="#30ffc7"/><stop offset="0.852" stop-color="#3cffba"/><stop offset="0.889" stop-color="#49ffad"/><stop offset="0.926" stop-color="#53ffa4"/><stop offset="0.963" stop-color="#60ff97"/><stop offset="1.000" stop-color="#6dff8a"/></linearGradient><linearGradient id="s10" x1="0" y1="0" x2="0" y2="1"><stop offset="0.000" stop-color="#0008ff"/><stop offset="0.037" stop-color="#0010ff"/><stop offset="0.074" stop-color="#0018ff"/><stop offset="0.111" stop-color="#0020ff"/><stop offset="0.148" stop-color="#0028ff"/><stop offset="0.185" stop-color="#0030ff"/><stop offset="0.222" stop-color="#003cff"/><stop offset="0.259" stop-color="#0044ff"/><stop offset="0.296" stop-color="#0050ff"/><stop offset="0.333" stop-color="#005cff"/><stop offset="0.370" stop-color="#0068ff"/><stop offset="0.407" stop-color="#0074ff"/><stop offset="0.444" stop-color="#0084ff"/><stop offset="0.481" stop-color="#0090ff"/><stop offset="0.519" stop-color="#009cff"/><stop offset="0.556" stop-color="#00acff"/><stop offset="0.593" stop-color="#00b8ff"/><stop offset="0.630" stop-color="#00c8ff"/><stop offset="0.667" stop-color="#00d8ff"/><stop offset="0.704" stop-color="#02e8f4"/><stop offset="0.741" stop-color="#16ffe1"/><stop offset="0.778" stop-color="#23ffd4"/><stop offset="0.815" stop-color="#30ffc7"/><stop offset="0.852" stop-color="#3cffba"/><stop offset="0.889" stop-color="#49ffad"/><stop offset="0.926" stop-color="#53ffa4"/><stop offset="0.963" stop-color="#60ff97"/><stop offset="1.000" stop-color="#6dff8a"/></linearGradient><linearGradient id="s11" x1="0" y1="0" x2="0" y2="1"><stop offset="0.000" stop-color="#0014ff"/><stop offset="0.037" stop-color="#0018ff"/><stop offset="0.074" stop-color="#001cff"/><stop offset="0.111" stop-color="#0020ff"/><stop offset="0.148" stop-color="#0028ff"/><stop offset="0.185" stop-color="#0030ff"/><stop offset="0.222" stop-color="#003cff"/><stop offset="0.259" stop-color="#0044ff"/><stop offset="0.296" stop-color="#0050ff"/><stop offset="0.333" stop-color="#005cff"/><stop offset="0.370" stop-color="#0068ff"/><stop offset="0.407" stop-color="#0074ff"/><stop offset="0.444" stop-color="#0084ff"/><stop offset="0.481" stop-color="#0090ff"/><stop offset="0.519" stop-color="#009cff"/><stop offset="0.556" stop-color="#00acff"/><stop offset="0.593" stop-color="#00b8ff"/><stop offset="0.630" stop-color="#00c8ff"/><stop offset="0.667" stop-color="#00d8ff"/><stop offset="0.704" stop-color="#02e8f4"/><stop offset="0.741" stop-color="#16ffe1"/><stop offset="0.778" stop-color="#23ffd4"/><stop offset="0.815" stop-color="#30ffc7"/><stop offset="0.852" stop-color="#3cffba"/><stop offset="0.889" stop-color="#49ffad"/><stop offset="0.926" stop-color="#53ffa4"/><stop offset="0.963" stop-color="#60ff97"/><stop offset="1.000" stop-color="#6dff8a"/></linearGradient><linearGradient id="s12" x1="0" y1="0" x2="0" y2="1"><stop offset="0.000" stop-color="#0020ff"/><stop offset="0.037" stop-color="#0024ff"/><stop offset="0.074" stop-color="#0024ff"/><stop offset="0.111" stop-color="#0028ff"/><stop offset="0.148" stop-color="#002cff"/><stop offset="0.185" stop-color="#0034ff"/><stop offset="0.222" stop-color="#003cff"/><stop offset="0.259" stop-color="#0044ff"/><stop offset="0.296" stop-color="#0050ff"/><stop offset="0.333" stop-color="#005cff"/><stop offset="0.370" stop-color="#0068ff"/><stop offset="0.407" stop-color="#0074ff"/><stop offset="0.444" stop-color="#0084ff"/><stop offset="0.481" stop-color="#0090ff"/><stop offset="0.519" stop-color="#009cff"/><stop offset="0.556" stop-color="#00acff"/><stop offset="0.593" stop-color="#00b8ff"/><stop offset="0.630" stop-color="#00c8ff"/><stop offset="0.667" stop-color="#00d8ff"/><stop offset="0.704" stop-color="#02e8f4"/><stop offset="0.741" stop-color="#16ffe1"/><stop offset="0.778" stop-color="#23ffd4"/><stop offset="0.815" stop-color="#30ffc7"/><stop offset="0.852" stop-color="#3cffba"/><stop offset="0.889" stop-color="#49ffad"/><stop offset="0.926" stop-color="#53ffa4"/><stop offset="0.963" stop-color="#60ff97"/><stop offset="1.000" stop-color="#6dff8a"/></linearGradient><linearGradient id="s13" x1="0" y1="0" x2="0" y2="1"><stop offset="0.000" stop-color="#0020ff"/><stop offset="0.037" stop-color="#0028ff"/><stop offset="0.074" stop-color="#0030ff"/><stop offset="0.111" stop-color="#0030ff"/><stop offset="0.148" stop-color="#0034ff"/><stop offset="0.185" stop-color="#0038ff"/><stop offset="0.222" stop-color="#003cff"/><stop offset="0.259" stop-color="#0044ff"/><stop offset="0.296" stop-color="#0050ff"/><stop offset="0.333" stop-color="#005cff"/><stop offset="0.370" stop-color="#0068ff"/><stop offset="0.407" stop-color="#0074ff"/><stop offset="0.444" stop-color="#0084ff"/><stop offset="0.481" stop-color="#0090ff"/><stop offset="0.519" stop-color="#009cff"/><stop offset="0.556" stop-color="#00acff"/><stop offset="0.593" stop-color="#00b8ff"/><stop offset="0.630" stop-color="#00c8ff"/><stop offset="0.667" stop-color="#00d8ff"/><stop offset="0.704" stop-color="#02e8f4"/><stop offset="0.741" stop-color="#16ffe1"/><stop offset="0.778" stop-color="#23ffd4"/><stop offset="0.815" stop-color="#30ffc7"/><stop offset="0.852" stop-color="#3cffba"/><stop offset="0.889" stop-color="#49ffad"/><stop offset="0.926" stop-color="#53ffa4"/><stop offset="0.963" stop-color="#60ff97"/><stop offset="1.000" stop-color="#6dff8a"/></linearGradient><linearGradient id="s14" x1="0" y1="0" x2="0" y2="1"><stop offset="0.000" stop-color="#0014ff"/><stop offset="0.037" stop-color="#0024ff"/><stop offset="0.074" stop-color="#002cff"/><stop offset="0.111" stop-color="#0034ff"/><stop offset="0.148" stop-color="#0038ff"/><stop offset="0.185" stop-color="#003cff"/><stop offset="0.222" stop-color="#0040ff"/><stop offset="0.259" stop-color="#0048ff"/><stop offset="0.296" stop-color="#0050ff"/><stop offset="0.333" stop-color="#005cff"/><stop offset="0.370" stop-color="#0068ff"/><stop offset="0.407" stop-color="#0074ff"/><stop offset="0.444" stop-color="#0084ff"/><stop offset="0.481" stop-color="#0090ff"/><stop offset="0.519" stop-color="#009cff"/><stop offset="0.556" stop-color="#00acff"/><stop offset="0.593" stop-color="#00b8ff"/><stop offset="0.630" stop-color="#00c8ff"/><stop offset="0.667" stop-color="#00d8ff"/><stop offset="0.704" stop-color="#02e8f4"/><stop offset="0.741" stop-color="#16ffe1"/><stop offset="0.778" stop-color="#23ffd4"/><stop offset="0.815" stop-color="#30ffc7"/><stop offset="0.852" stop-color="#3cffba"/><stop offset="0.889" stop-color="#49ffad"/><stop offset="0.926" stop-color="#53ffa4"/><stop offset="0.963" stop-color="#60ff97"/><stop offset="1.000" stop-color="#6dff8a"/></linearGradient><linearGradient id="s15" x1="0" y1="0" x2="0" y2="1"><stop offset="0.000" stop-color="#0008ff"/><stop offset="0.037" stop-color="#0018ff"/><stop offset="0.074" stop-color="#0024ff"/><stop offset="0.111" stop-color="#0030ff"/><stop offset="0.148" stop-color="#0038ff"/><stop offset="0.185" stop-color="#003cff"/><stop offset="0.222" stop-color="#0044ff"/><stop offset="0.259" stop-color="#0048ff"/><stop offset="0.296" stop-color="#0050ff"/><stop offset="0.333" stop-color="#005cff"/><stop offset="0.370" stop-color="#0068ff"/><stop offset="0.407" stop-color="#0074ff"/><stop offset="0.444" stop-color="#0084ff"/><stop offset="0.481" stop-color="#0090ff"/><stop offset="0.519" stop-color="#009cff"/><stop offset="0.556" stop-color="#00acff"/><stop offset="0.593" stop-color="#00b8ff"/><stop offset="0.630" stop-color="#00c8ff"/><stop offset="0.667" stop-color="#00d8ff"/><stop offset="0.704" stop-color="#02e8f4"/><stop offset="0.741" stop-color="#16ffe1"/><stop offset="0.778" stop-color="#23ffd4"/><stop offset="0.815" stop-color="#30ffc7"/><stop offset="0.852" stop-color="#3cffba"/><stop offset="0.889" stop-color="#49ffad"/><stop offset="0.926" stop-color="#53ffa4"/><stop offset="0.963" stop-color="#60ff97"/><stop offset="1.000" stop-color="#6dff8a"/></linearGradient><linearGradient id="s16" x1="0" y1="0" x2="0" y2="1"><stop offset="0.000" stop-color="#0004ff"/><stop offset="0.037" stop-color="#0010ff"/><stop offset="0.074" stop-color="#0018ff"/><stop offset="0.111" stop-color="#0024ff"/><stop offset="0.148" stop-color="#0030ff"/><stop offset="0.185" stop-color="#003cff"/><stop offset="0.222" stop-color="#0044ff"/><stop offset="0.259" stop-color="#0048ff"/><stop offset="0.296" stop-color="#0050ff"/><stop offset="0.333" stop-color="#005cff"/><stop offset="0.370" stop-color="#0068ff"/><stop offset="0.407" stop-color="#0074ff"/><stop offset="0.444" stop-color="#0084ff"/><stop offset="0.481" stop-color="#0090ff"/><stop offset="0.519" stop-color="#009cff"/><stop offset="0.556" stop-color="#00acff"/><stop offset="0.593" stop-color="#00b8ff"/><stop offset="0.630" stop-color="#00c8ff"/><stop offset="0.667" stop-color="#00d8ff"/><stop offset="0.704" stop-color="#02e8f4"/><stop offset="0.741" stop-color="#16ffe1"/><stop offset="0.778" stop-color="#23ffd4"/><stop offset="0.815" stop-color="#30ffc7"/><stop offset="0.852" stop-color="#3cffba"/><stop offset="0.889" stop-color="#49ffad"/><stop offset="0.926" stop-color="#53ffa4"/><stop offset="0.963" stop-color="#60ff97"/><stop offset="1.000" stop-color="#6dff8a"/></linearGradient><linearGradient id="s17" x1="0" y1="0" x2="0" y2="1"><stop offset="0.000" stop-color="#0004ff"/><stop offset="0.037" stop-color="#000cff"/><stop offset="0.074" stop-color="#0014ff"/><stop offset="0.111" stop-color="#0020ff"/><stop offset="0.148" stop-color="#002cff"/><stop offset="0.185" stop-color="#0034ff"/><stop offset="0.222" stop-color="#0040ff"/><stop offset="0.259" stop-color="#0048ff"/><stop offset="0.296" stop-color="#0050ff"/><stop offset="0.333" stop-color="#005cff"/><stop offset="0.370" stop-color="#0068ff"/><stop offset="0.407" stop-color="#0074ff"/><stop offset="0.444" stop-color="#0084ff"/><stop offset="0.481" stop-color="#0090ff"/><stop offset="0.519" stop-color="#009cff"/><stop offset="0.556" stop-color="#00acff"/><stop offset="0.593" stop-color="#00b8ff"/><stop offset="0.630" stop-color="#00c8ff"/><stop offset="0.667" stop-color="#00d8ff"/><stop offset="0.704" stop-color="#02e8f4"/><stop offset="0.741" stop-color="#16ffe1"/><stop offset="0.778" stop-color="#23ffd4"/><stop offset="0.815" stop-color="#30ffc7"/><stop offset="0.852" stop-color="#3cffba"/><stop offset="0.889" stop-color="#49ffad"/><stop offset="0.926" stop-color="#53ffa4"/><stop offset="0.963" stop-color="#60ff97"/><stop offset="1.000" stop-color="#6dff8a"/></linearGradient><linearGradient id="s18" x1="0" y1="0" x2="0" y2="1"><stop offset="0.000" stop-color="#0004ff"/><stop offset="0.037" stop-color="#000cff"/><stop offset="0.074" stop-color="#0014ff"/><stop offset="0.111" stop-color="#0020ff"/><stop offset="0.148" stop-color="#0028ff"/><stop offset="0.185" stop-color="#0030ff"/><stop offset="0.222" stop-color="#003cff"/><stop offset="0.259" stop-color="#0048ff"/><stop offset="0.296" stop-color="#0050ff"/><stop offset="0.333" stop-color="#005cff"/><stop offset="0.370" stop-color="#0068ff"/><stop offset="0.407" stop-color="#0074ff"/><stop offset="0.444" stop-color="#0084ff"/><stop offset="0.481" stop-color="#0090ff"/><stop offset="0.519" stop-color="#009cff"/><stop offset="0.556" stop-color="#00acff"/><stop offset="0.593" stop-color="#00b8ff"/><stop offset="0.630" stop-color="#00c8ff"/><stop offset="0.667" stop-color="#00d8ff"/><stop offset="0.704" stop-color="#02e8f4"/><stop offset="0.741" stop-color="#16ffe1"/><stop offset="0.778" stop-color="#23ffd4"/><stop offset="0.815" stop-color="#30ffc7"/><stop offset="0.852" stop-color="#3cffba"/><stop offset="0.889" stop-color="#49ffad"/><stop offset="0.926" stop-color="#53ffa4"/><stop offset="0.963" stop-color="#60ff97"/><stop offset="1.000" stop-color="#6dff8a"/></linearGradient><linearGradient id="s19" x1="0" y1="0" x2="0" y2="1"><stop offset="0.000" stop-color="#0008ff"/><stop offset="0.037" stop-color="#0010ff"/><stop offset="0.074" stop-color="#0018ff"/><stop offset="0.111" stop-color="#0020ff"/><stop offset="0.148" stop-color="#0028ff"/><stop offset="0.185" stop-color="#0030ff"/><stop offset="0.222" stop-color="#003cff"/><stop offset="0.259" stop-color="#0044ff"/><stop offset="0.296" stop-color="#0050ff"/><stop offset="0.333" stop-color="#005cff"/><stop offset="0.370" stop-color="#0068ff"/><stop offset="0.407" stop-color="#0074ff"/><stop offset="0.444" stop-color="#0084ff"/><stop offset="0.481" stop-color="#0090ff"/><stop offset="0.519" stop-color="#009cff"/><stop offset="0.556" stop-color="#00acff"/><stop offset="0.593" stop-color="#00b8ff"/><stop offset="0.630" stop-color="#00c8ff"/><stop offset="0.667" stop-color="#00d8ff"/><stop offset="0.704" stop-color="#02e8f4"/><stop offset="0.741" stop-color="#16ffe1"/><stop offset="0.778" stop-color="#23ffd4"/><stop offset="0.815" stop-color="#30ffc7"/><stop offset="0.852" stop-color="#3cffba"/><stop offset="0.889" stop-color="#49ffad"/><stop offset="0.926" stop-color="#53ffa4"/><stop offset="0.963" stop-color="#60ff97"/><stop offset="1.000" stop-color="#6dff8a"/></linearGradient><linearGradient id="s20" x1="0" y1="0" x2="0" y2="1"><stop offset="0.000" stop-color="#0014ff"/><stop offset="0.037" stop-color="#0018ff"/><stop offset="0.074" stop-color="#001cff"/><stop offset="0.111" stop-color="#0020ff"/><stop offset="0.148" stop-color="#0028ff"/><stop offset="0.185" stop-color="#0030ff"/><stop offset="0.222" stop-color="#003cff"/><stop offset="0.259" stop-color="#0044ff"/><stop offset="0.296" stop-color="#0050ff"/><stop offset="0.333" stop-color="#005cff"/><stop offset="0.370" stop-color="#0068ff"/><stop offset="0.407" stop-color="#0074ff"/><stop offset="0.444" stop-color="#0084ff"/><stop offset="0.481" stop-color="#0090ff"/><stop offset="0.519" stop-color="#009cff"/><stop offset="0.556" stop-color="#00acff"/><stop offset="0.593" stop-color="#00b8ff"/><stop offset="0.630" stop-color="#00c8ff"/><stop offset="0.667" stop-color="#00d8ff"/><stop offset="0.704" stop-color="#02e8f4"/><stop offset="0.741" stop-color="#16ffe1"/><stop offset="0.778" stop-color="#23ffd4"/><stop offset="0.815" stop-color="#30ffc7"/><stop offset="0.852" stop-color="#3cffba"/><stop offset="0.889" stop-color="#49ffad"/><stop offset="0.926" stop-color="#53ffa4"/><stop offset="0.963" stop-color="#60ff97"/><stop offset="1.000" stop-color="#6dff8a"/></linearGradient><linearGradient id="s21" x1="0" y1="0" x2="0" y2="1"><stop offset="0.000" stop-color="#0020ff"/><stop offset="0.037" stop-color="#0024ff"/><stop offset="0.074" stop-color="#0024ff"/><stop offset="0.111" stop-color="#0028ff"/><stop offset="0.148" stop-color="#002cff"/><stop offset="0.185" stop-color="#0034ff"/><stop offset="0.222" stop-color="#003cff"/><stop offset="0.259" stop-color="#0044ff"/><stop offset="0.296" stop-color="#0050ff"/><stop offset="0.333" stop-color="#005cff"/><stop offset="0.370" stop-color="#0068ff"/><stop offset="0.407" stop-color="#0074ff"/><stop offset="0.444" stop-color="#0084ff"/><stop offset="0.481" stop-color="#0090ff"/><stop offset="0.519" stop-color="#009cff"/><stop offset="0.556" stop-color="#00acff"/><stop offset="0.593" stop-color="#00b8ff"/><stop offset="0.630" stop-color="#00c8ff"/><stop offset="0.667" stop-color="#00d8ff"/><stop offset="0.704" stop-color="#02e8f4"/><stop offset="0.741" stop-color="#16ffe1"/><stop offset="0.778" stop-color="#23ffd4"/><stop offset="0.815" stop-color="#30ffc7"/><stop offset="0.852" stop-color="#3cffba"/><stop offset="0.889" stop-color="#49ffad"/><stop offset="0.926" stop-color="#53ffa4"/><stop offset="0.963" stop-color="#60ff97"/><stop offset="1.000" stop-color="#6dff8a"/></linearGradient><linearGradient id="s22" x1="0" y1="0" x2="0" y2="1"><stop offset="0.000" stop-color="#0020ff"/><stop offset="0.037" stop-color="#0028ff"/><stop offset="0.074" stop-color="#0030ff"/><stop offset="0.111" stop-color="#0030ff"/><stop offset="0.148" stop-color="#0034ff"/><stop offset="0.185" stop-color="#0038ff"/><stop offset="0.222" stop-color="#003cff"/><stop offset="0.259" stop-color="#0044ff"/><stop offset="0.296" stop-color="#0050ff"/><stop offset="0.333" stop-color="#005cff"/><stop offset="0.370" stop-color="#0068ff"/><stop offset="0.407" stop-color="#0074ff"/><stop offset="0.444" stop-color="#0084ff"/><stop offset="0.481" stop-color="#0090ff"/><stop offset="0.519" stop-color="#009cff"/><stop offset="0.556" stop-color="#00acff"/><stop offset="0.593" stop-color="#00b8ff"/><stop offset="0.630" stop-color="#00c8ff"/><stop offset="0.667" stop-color="#00d8ff"/><stop offset="0.704" stop-color="#02e8f4"/><stop offset="0.741" stop-color="#16ffe1"/><stop offset="0.778" stop-color="#23ffd4"/><stop offset="0.815" stop-color="#30ffc7"/><stop offset="0.852" stop-color="#3cffba"/><stop offset="0.889" stop-color="#49ffad"/><stop offset="0.926" stop-color="#53ffa4"/><stop offset="0.963" stop-color="#60ff97"/><stop offset="1.000" stop-color="#6dff8a"/></linearGradient><linearGradient id="s23" x1="0" y1="0" x2="0" y2="1"><stop offset="0.000" stop-color="#0014ff"/><stop offset="0.037" stop-color="#0024ff"/><stop offset="0.074" stop-color="#002cff"/><stop offset="0.111" stop-color="#0034ff"/><stop offset="0.148" stop-color="#0038ff"/><stop offset="0.185" stop-color="#003cff"/><stop offset="0.222" stop-color="#0040ff"/><stop offset="0.259" stop-color="#0048ff"/><stop offset="0.296" stop-color="#0050ff"/><stop offset="0.333" stop-color="#005cff"/><stop offset="0.370" stop-color="#0068ff"/><stop offset="0.407" stop-color="#0074ff"/><stop offset="0.444" stop-color="#0084ff"/><stop offset="0.481" stop-color="#0090ff"/><stop offset="0.519" stop-color="#009cff"/><stop offset="0.556" stop-color="#00acff"/><stop offset="0.593" stop-color="#00b8ff"/><stop offset="0.630" stop-color="#00c8ff"/><stop offset="0.667" stop-color="#00d8ff"/><stop offset="0.704" stop-color="#02e8f4"/><stop offset="0.741" stop-color="#16ffe1"/><stop offset="0.778" stop-color="#23ffd4"/><stop offset="0.815" stop-color="#30ffc7"/><stop offset="0.852" stop-color="#3cffba"/><stop offset="0.889" stop-color="#49ffad"/><stop offset="0.926" stop-color="#53ffa4"/><stop offset="0.963" stop-color="#60ff97"/><stop offset="1.000" stop-color="#6dff8a"/></linearGradient><linearGradient id="s24" x1="0" y1="0" x2="0" y2="1"><stop offset="0.000" stop-color="#0008ff"/><stop offset="0.037" stop-color="#0018ff"/><stop offset="0.074" stop-color="#0024ff"/><stop offset="0.111" stop-color="#0030ff"/><stop offset="0.148" stop-color="#0038ff"/><stop offset="0.185" stop-color="#003cff"/><stop offset="0.222" stop-color="#0044ff"/><stop offset="0.259" stop-color="#0048ff"/><stop offset="0.296" stop-color="#0050ff"/><stop offset="0.333" stop-color="#005cff"/><stop offset="0.370" stop-color="#0068ff"/><stop offset="0.407" stop-color="#0074ff"/><stop offset="0.444" stop-color="#0084ff"/><stop offset="0.481" stop-color="#0090ff"/><stop offset="0.519" stop-color="#009cff"/><stop offset="0.556" stop-color="#00acff"/><stop offset="0.593" stop-color="#00b8ff"/><stop offset="0.630" stop-color="#00c8ff"/><stop offset="0.667" stop-color="#00d8ff"/><stop offset="0.704" stop-color="#02e8f4"/><stop offset="0.741" stop-color="#16ffe1"/><stop offset="0.778" stop-color="#23ffd4"/><stop offset="0.815" stop-color="#30ffc7"/><stop offset="0.852" stop-color="#3cffba"/><stop offset="0.889" stop-color="#49ffad"/><stop offset="0.926" stop-color="#53ffa4"/><stop offset="0.963" stop-color="#60ff97"/><stop offset="1.000" stop-color="#6dff8a"/></linearGradient><linearGradient id="s25" x1="0" y1="0" x2="0" y2="1"><stop offset="0.000" stop-color="#0004ff"/><stop offset="0.037" stop-color="#0010ff"/><stop offset="0.074" stop-color="#0018ff"/><stop offset="0.111" stop-color="#0024ff"/><stop offset="0.148" stop-color="#0030ff"/><stop offset="0.185" stop-color="#003cff"/><stop offset="0.222" stop-color="#0044ff"/><stop offset="0.259" stop-color="#0048ff"/><stop offset="0.296" stop-color="#0050ff"/><stop offset="0.333" stop-color="#005cff"/><stop offset="0.370" stop-color="#0068ff"/><stop offset="0.407" stop-color="#0074ff"/><stop offset="0.444" stop-color="#0084ff"/><stop offset="0.481" stop-color="#0090ff"/><stop offset="0.519" stop-color="#009cff"/><stop offset="0.556" stop-color="#00acff"/><stop offset="0.593" stop-color="#00b8ff"/><stop offset="0.630" stop-color="#00c8ff"/><stop offset="0.667" stop-color="#00d8ff"/><stop offset="0.704" stop-color="#02e8f4"/><stop offset="0.741" stop-color="#16ffe1"/><stop offset="0.778" stop-color="#23ffd4"/><stop offset="0.815" stop-color="#30ffc7"/><stop offset="0.852" stop-color="#3cffba"/><stop offset="0.889" stop-color="#49ffad"/><stop offset="0.926" stop-color="#53ffa4"/><stop offset="0.963" stop-color="#60ff97"/><stop offset="1.000" stop-color="#6dff8a"/></linearGradient><linearGradient id="s26" x1="0" y1="0" x2="0" y2="1"><stop offset="0.000" stop-color="#0004ff"/><stop offset="0.037" stop-color="#000cff"/><stop offset="0.074" stop-color="#0014ff"/><stop offset="0.111" stop-color="#0020ff"/><stop offset="0.148" stop-color="#002cff"/><stop offset="0.185" stop-color="#0034ff"/><stop offset="0.222" stop-color="#0040ff"/><stop offset="0.259" stop-color="#0048ff"/><stop offset="0.296" stop-color="#0050ff"/><stop offset="0.333" stop-color="#005cff"/><stop offset="0.370" stop-color="#0068ff"/><stop offset="0.407" stop-color="#0074ff"/><stop offset="0.444" stop-color="#0084ff"/><stop offset="0.481" stop-color="#0090ff"/><stop offset="0.519" stop-color="#009cff"/><stop offset="0.556" stop-color="#00acff"/><stop offset="0.593" stop-color="#00b8ff"/><stop offset="0.630" stop-color="#00c8ff"/><stop offset="0.667" stop-color="#00d8ff"/><stop offset="0.704" stop-color="#02e8f4"/><stop offset="0.741" stop-color="#16ffe1"/><stop offset="0.778" stop-color="#23ffd4"/><stop offset="0.815" stop-color="#30ffc7"/><stop offset="0.852" stop-color="#3cffba"/><stop offset="0.889" stop-color="#49ffad"/><stop offset="0.926" stop-color="#53ffa4"/><stop offset="0.963" stop-color="#60ff97"/><stop offset="1.000" stop-color="#6dff8a"/></linearGradient><linearGradient id="s27" x1="0" y1="0" x2="0" y2="1"><stop offset="0.000" stop-color="#0004ff"/><stop offset="0.037" stop-color="#000cff"/><stop offset="0.074" stop-color="#0014ff"/><stop offset="0.111" stop-color="#0020ff"/><stop offset="0.148" stop-color="#0028ff"/><stop offset="0.185" stop-color="#0030ff"/><stop offset="0.222" stop-color="#003cff"/><stop offset="0.259" stop-color="#0048ff"/><stop offset="0.296" stop-color="#0050ff"/><stop offset="0.333" stop-color="#005cff"/><stop offset="0.370" stop-color="#0068ff"/><stop offset="0.407" stop-color="#0074ff"/><stop offset="0.444" stop-color="#0084ff"/><stop offset="0.481" stop-color="#0090ff"/><stop offset="0.519" stop-color="#009cff"/><stop offset="0.556" stop-color="#00acff"/><stop offset="0.593" stop-color="#00b8ff"/><stop offset="0.630" stop-color="#00c8ff"/><stop offset="0.667" stop-color="#00d8ff"/><stop offset="0.704" stop-color="#02e8f4"/><stop offset="0.741" stop-color="#16ffe1"/><stop offset="0.778" stop-color="#23ffd4"/><stop offset="0.815" stop-color="#30ffc7"/><stop offset="0.852" stop-color="#3cffba"/><stop offset="0.889" stop-color="#49ffad"/><stop offset="0.926" stop-color="#53ffa4"/><stop offset="0.963" stop-color="#60ff97"/><stop offset="1.000" stop-color="#6dff8a"/></linearGradient><linearGradient id="s28" x1="0" y1="0" x2="0" y2="1"><stop offset="0.000" stop-color="#0008ff"/><stop offset="0.037" stop-color="#0010ff"/><stop offset="0.074" stop-color="#0018ff"/><stop offset="0.111" stop-color="#0020ff"/><stop offset="0.148" stop-color="#0028ff"/><stop offset="0.185" stop-color="#0030ff"/><stop offset="0.222" stop-color="#003cff"/><stop offset="0.259" stop-color="#0044ff"/><stop offset="0.296" stop-color="#0050ff"/><stop offset="0.333" stop-color="#005cff"/><stop offset="0.370" stop-color="#0068ff"/><stop offset="0.407" stop-color="#0074ff"/><stop offset="0.444" stop-color="#0084ff"/><stop offset="0.481" stop-color="#0090ff"/><stop offset="0.519" stop-color="#009cff"/><stop offset="0.556" stop-color="#00acff"/><stop offset="0.593" stop-color="#00b8ff"/><stop offset="0.630" stop-color="#00c8ff"/><stop offset="0.667" stop-color="#00d8ff"/><stop offset="0.704" stop-color="#02e8f4"/><stop offset="0.741" stop-color="#16ffe1"/><stop offset="0.778" stop-color="#23ffd4"/><stop offset="0.815" stop-color="#30ffc7"/><stop offset="0.852" stop-color="#3cffba"/><stop offset="0.889" stop-color="#49ffad"/><stop offset="0.926" stop-color="#53ffa4"/><stop offset="0.963" stop-color="#60ff97"/><stop offset="1.000" stop-color="#6dff8a"/></linearGradient><linearGradient id="s29" x1="0" y1="0" x2="0" y2="1"><stop offset="0.000" stop-color="#0014ff"/><stop offset="0.037" stop-color="#0018ff"/><stop offset="0.074" stop-color="#001cff"/><stop offset="0.111" stop-color="#0020ff"/><stop offset="0.148" stop-color="#0028ff"/><stop offset="0.185" stop-color="#0030ff"/><stop offset="0.222" stop-color="#003cff"/><stop offset="0.259" stop-color="#0044ff"/><stop offset="0.296" stop-color="#0050ff"/><stop offset="0.333" stop-color="#005cff"/><stop offset="0.370" stop-color="#0068ff"/><stop offset="0.407" stop-color="#0074ff"/><stop offset="0.444" stop-color="#0084ff"/><stop offset="0.481" stop-color="#0090ff"/><stop offset="0.519" stop-color="#009cff"/><stop offset="0.556" stop-color="#00acff"/><stop offset="0.593" stop-color="#00b8ff"/><stop offset="0.630" stop-color="#00c8ff"/><stop offset="0.667" stop-color="#00d8ff"/><stop offset="0.704" stop-color="#02e8f4"/><stop offset="0.741" stop-color="#16ffe1"/><stop offset="0.778" stop-color="#23ffd4"/><stop offset="0.815" stop-color="#30ffc7"/><stop offset="0.852" stop-color="#3cffba"/><stop offset="0.889" stop-color="#49ffad"/><stop offset="0.926" stop-color="#53ffa4"/><stop offset="0.963" stop-color="#60ff97"/><stop offset="1.000" stop-color="#6dff8a"/></linearGradient><linearGradient id="s30" x1="0" y1="0" x2="0" y2="1"><stop offset="0.000" stop-color="#0020ff"/><stop offset="0.037" stop-color="#0024ff"/><stop offset="0.074" stop-color="#0024ff"/><stop offset="0.111" stop-color="#0028ff"/><stop offset="0.148" stop-color="#002cff"/><stop offset="0.185" stop-color="#0034ff"/><stop offset="0.222" stop-color="#003cff"/><stop offset="0.259" stop-color="#0044ff"/><stop offset="0.296" stop-color="#0050ff"/><stop offset="0.333" stop-color="#005cff"/><stop offset="0.370" stop-color="#0068ff"/><stop offset="0.407" stop-color="#0074ff"/><stop offset="0.444" stop-color="#0084ff"/><stop offset="0.481" stop-color="#0090ff"/><stop offset="0.519" stop-color="#009cff"/><stop offset="0.556" stop-color="#00acff"/><stop offset="0.593" stop-color="#00b8ff"/><stop offset="0.630" stop-color="#00c8ff"/><stop offset="0.667" stop-color="#00d8ff"/><stop offset="0.704" stop-color="#02e8f4"/><stop offset="0.741" stop-color="#16ffe1"/><stop offset="0.778" stop-color="#23ffd4"/><stop offset="0.815" stop-color="#30ffc7"/><stop offset="0.852" stop-color="#3cffba"/><stop offset="0.889" stop-color="#49ffad"/><stop offset="0.926" stop-color="#53ffa4"/><stop offset="0.963" stop-color="#60ff97"/><stop offset="1.000" stop-color="#6dff8a"/></linearGradient><linearGradient id="s31" x1="0" y1="0" x2="0" y2="1"><stop offset="0.000" stop-color="#0020ff"/><stop offset="0.037" stop-color="#0028ff"/><stop offset="0.074" stop-color="#0030ff"/><stop offset="0.111" stop-color="#0030ff"/><stop offset="0.148" stop-color="#0034ff"/><stop offset="0.185" stop-color="#0038ff"/><stop offset="0.222" stop-color="#003cff"/><stop offset="0.259" stop-color="#0044ff"/><stop offset="0.296" stop-color="#0050ff"/><stop offset="0.333" stop-color="#005cff"/><stop offset="0.370" stop-color="#0068ff"/><stop offset="0.407" stop-color="#0074ff"/><stop offset="0.444" stop-color="#0084ff"/><stop offset="0.481" stop-color="#0090ff"/><stop offset="0.519" stop-color="#009cff"/><stop offset="0.556" stop-color="#00acff"/><stop offset="0.593" stop-color="#00b8ff"/><stop offset="0.630" stop-color="#00c8ff"/><stop offset="0.667" stop-color="#00d8ff"/><stop offset="0.704" stop-color="#02e8f4"/><stop offset="0.741" stop-color="#16ffe1"/><stop offset="0.778" stop-color="#23ffd4"/><stop offset="0.815" stop-color="#30ffc7"/><stop offset="0.852" stop-color="#3cffba"/><stop offset="0.889" stop-color="#49ffad"/><stop offset="0.926" stop-color="#53ffa4"/><stop offset="0.963" stop-color="#60ff97"/><stop offset="1.000" stop-color="#6dff8a"/></linearGradient><linearGradient id="s32" x1="0" y1="0" x2="0" y2="1"><stop offset="0.000" stop-color="#0014ff"/><stop offset="0.037" stop-color="#0024ff"/><stop offset="0.074" stop-color="#002cff"/><stop offset="0.111" stop-color="#0034ff"/><stop offset="0.148" stop-color="#0038ff"/><stop offset="0.185" stop-color="#003cff"/><stop offset="0.222" stop-color="#0040ff"/><stop offset="0.259" stop-color="#0048ff"/><stop offset="0.296" stop-color="#0050ff"/><stop offset="0.333" stop-color="#005cff"/><stop offset="0.370" stop-color="#0068ff"/><stop offset="0.407" stop-color="#0074ff"/><stop offset="0.444" stop-color="#0084ff"/><stop offset="0.481" stop-color="#0090ff"/><stop offset="0.519" stop-color="#009cff"/><stop offset="0.556" stop-color="#00acff"/><stop offset="0.593" stop-color="#00b8ff"/><stop offset="0.630" stop-color="#00c8ff"/><stop offset="0.667" stop-color="#00d8ff"/><stop offset="0.704" stop-color="#02e8f4"/><stop offset="0.741" stop-color="#16ffe1"/><stop offset="0.778" stop-color="#23ffd4"/><stop offset="0.815" stop-color="#30ffc7"/><stop offset="0.852" stop-color="#3cffba"/><stop offset="0.889" stop-color="#49ffad"/><stop offset="0.926" stop-color="#53ffa4"/><stop offset="0.963" stop-color="#60ff97"/><stop offset="1.000" stop-color="#6dff8a"/></linearGradient><linearGradient id="s33" x1="0" y1="0" x2="0" y2="1"><stop offset="0.000" stop-color="#0008ff"/><stop offset="0.037" stop-color="#0018ff"/><stop offset="0.074" stop-color="#0024ff"/><stop offset="0.111" stop-color="#0030ff"/><stop offset="0.148" stop-color="#0038ff"/><stop offset="0.185" stop-color="#003cff"/><stop offset="0.222" stop-color="#0044ff"/><stop offset="0.259" stop-color="#0048ff"/><stop offset="0.296" stop-color="#0050ff"/><stop offset="0.333" stop-color="#005cff"/><stop offset="0.370" stop-color="#0068ff"/><stop offset="0.407" stop-color="#0074ff"/><stop offset="0.444" stop-color="#0084ff"/><stop offset="0.481" stop-color="#0090ff"/><stop offset="0.519" stop-color="#009cff"/><stop offset="0.556" stop-color="#00acff"/><stop offset="0.593" stop-color="#00b8ff"/><stop offset="0.630" stop-color="#00c8ff"/><stop offset="0.667" stop-color="#00d8ff"/><stop offset="0.704" stop-color="#02e8f4"/><stop offset="0.741" stop-color="#16ffe1"/><stop offset="0.778" stop-color="#23ffd4"/><stop offset="0.815" stop-color="#30ffc7"/><stop offset="0.852" stop-color="#3cffba"/><stop offset="0.889" stop-color="#49ffad"/><stop offset="0.926" stop-color="#53ffa4"/><stop offset="0.963" stop-color="#60ff97"/><stop offset="1.000" stop-color="#6dff8a"/></linearGradient><linearGradient id="s34" x1="0" y1="0" x2="0" y2="1"><stop offset="0.000" stop-color="#0004ff"/><stop offset="0.037" stop-color="#0010ff"/><stop offset="0.074" stop-color="#0018ff"/><stop offset="0.111" stop-color="#0024ff"/><stop offset="0.148" stop-color="#0030ff"/><stop offset="0.185" stop-color="#003cff"/><stop offset="0.222" stop-color="#0044ff"/><stop offset="0.259" stop-color="#0048ff"/><stop offset="0.296" stop-color="#0050ff"/><stop offset="0.333" stop-color="#005cff"/><stop offset="0.370" stop-color="#0068ff"/><stop offset="0.407" stop-color="#0074ff"/><stop offset="0.444" stop-color="#0084ff"/><stop offset="0.481" stop-color="#0090ff"/><stop offset="0.519" stop-color="#009cff"/><stop offset="0.556" stop-color="#00acff"/><stop offset="0.593" stop-color="#00b8ff"/><stop offset="0.630" stop-color="#00c8ff"/><stop offset="0.667" stop-color="#00d8ff"/><stop offset="0.704" stop-color="#02e8f4"/><stop offset="0.741" stop-color="#16ffe1"/><stop offset="0.778" stop-color="#23ffd4"/><stop offset="0.815" stop-color="#30ffc7"/><stop offset="0.852" stop-color="#3cffba"/><stop offset="0.889" stop-color="#49ffad"/><stop offset="0.926" stop-color="#53ffa4"/><stop offset="0.963" stop-color="#60ff97"/><stop offset="1.000" stop-color="#6dff8a"/></linearGradient><linearGradient id="s35" x1="0" y1="0" x2="0" y2="1"><stop offset="0.000" stop-color="#0004ff"/><stop offset="0.037" stop-color="#000cff"/><stop offset="0.074" stop-color="#0014ff"/><stop offset="0.111" stop-color="#0020ff"/><stop offset="0.148" stop-color="#0028ff"/><stop offset="0.185" stop-color="#0034ff"/><stop offset="0.222" stop-color="#003cff"/><stop offset="0.259" stop-color="#0048ff"/><stop offset="0.296" stop-color="#0050ff"/><stop offset="0.333" stop-color="#005cff"/><stop offset="0.370" stop-color="#0068ff"/><stop offset="0.407" stop-color="#0074ff"/><stop offset="0.444" stop-color="#0080ff"/><stop offset="0.481" stop-color="#0090ff"/><stop offset="0.519" stop-color="#009cff"/><stop offset="0.556" stop-color="#00acff"/><stop offset="0.593" stop-color="#00b8ff"/><stop offset="0.630" stop-color="#00c8ff"/><stop offset="0.667" stop-color="#00d8ff"/><stop offset="0.704" stop-color="#02e8f4"/><stop offset="0.741" stop-color="#16ffe1"/><stop offset="0.778" stop-color="#23ffd4"/><stop offset="0.815" stop-color="#30ffc7"/><stop offset="0.852" stop-color="#3cffba"/><stop offset="0.889" stop-color="#49ffad"/><stop offset="0.926" stop-color="#53ffa4"/><stop offset="0.963" stop-color="#60ff97"/><stop offset="1.000" stop-color="#6dff8a"/></linearGradient><linearGradient id="s36" x1="0" y1="0" x2="0" y2="1"><stop offset="0.000" stop-color="#0004ff"/><stop offset="0.037" stop-color="#000cff"/><stop offset="0.074" stop-color="#0014ff"/><stop offset="0.111" stop-color="#001cff"/><stop offset="0.148" stop-color="#0024ff"/><stop offset="0.185" stop-color="#0030ff"/><stop offset="0.222" stop-color="#0038ff"/><stop offset="0.259" stop-color="#0044ff"/><stop offset="0.296" stop-color="#004cff"/><stop offset="0.333" stop-color="#0058ff"/><stop offset="0.370" stop-color="#0064ff"/><stop offset="0.407" stop-color="#0074ff"/><stop offset="0.444" stop-color="#0080ff"/><stop offset="0.481" stop-color="#008cff"/><stop offset="0.519" stop-color="#009cff"/><stop offset="0.556" stop-color="#00a8ff"/><stop offset="0.593" stop-color="#00b8ff"/><stop offset="0.630" stop-color="#00c8ff"/><stop offset="0.667" stop-color="#00d8ff"/><stop offset="0.704" stop-color="#02e8f4"/><stop offset="0.741" stop-color="#16ffe1"/><stop offset="0.778" stop-color="#23ffd4"/><stop offset="0.815" stop-color="#30ffc7"/><stop offset="0.852" stop-color="#3cffba"/><stop offset="0.889" stop-color="#49ffad"/><stop offset="0.926" stop-color="#53ffa4"/><stop offset="0.963" stop-color="#60ff97"/><stop offset="1.000" stop-color="#6dff8a"/></linearGradient><linearGradient id="s37" x1="0" y1="0" x2="0" y2="1"><stop offset="0.000" stop-color="#0004ff"/><stop offset="0.037" stop-color="#000cff"/><stop offset="0.074" stop-color="#0014ff"/><stop offset="0.111" stop-color="#001cff"/><stop offset="0.148" stop-color="#0024ff"/><stop offset="0.185" stop-color="#002cff"/><stop offset="0.222" stop-color="#0034ff"/><stop offset="0.259" stop-color="#0040ff"/><stop offset="0.296" stop-color="#004cff"/><stop offset="0.333" stop-color="#0058ff"/><stop offset="0.370" stop-color="#0064ff"/><stop offset="0.407" stop-color="#0070ff"/><stop offset="0.444" stop-color="#007cff"/><stop offset="0.481" stop-color="#008cff"/><stop offset="0.519" stop-color="#0098ff"/><stop offset="0.556" stop-color="#00a8ff"/><stop offset="0.593" stop-color="#00b4ff"/><stop offset="0.630" stop-color="#00c4ff"/><stop offset="0.667" stop-color="#00d8ff"/><stop offset="0.704" stop-color="#02e8f4"/><stop offset="0.741" stop-color="#16ffe1"/><stop offset="0.778" stop-color="#23ffd4"/><stop offset="0.815" stop-color="#30ffc7"/><stop offset="0.852" stop-color="#3cffba"/><stop offset="0.889" stop-color="#49ffad"/><stop offset="0.926" stop-color="#53ffa4"/><stop offset="0.963" stop-color="#60ff97"/><stop offset="1.000" stop-color="#6dff8a"/></linearGradient><linearGradient id="s38" x1="0" y1="0" x2="0" y2="1"><stop offset="0.000" stop-color="#0004ff"/><stop offset="0.037" stop-color="#000cff"/><stop offset="0.074" stop-color="#0014ff"/><stop offset="0.111" stop-color="#001cff"/><stop offset="0.148" stop-color="#0020ff"/><stop offset="0.185" stop-color="#0028ff"/><stop offset="0.222" stop-color="#0030ff"/><stop offset="0.259" stop-color="#003cff"/><stop offset="0.296" stop-color="#0048ff"/><stop offset="0.333" stop-color="#0054ff"/><stop offset="0.370" stop-color="#0060ff"/><stop offset="0.407" stop-color="#006cff"/><stop offset="0.444" stop-color="#007cff"/><stop offset="0.481" stop-color="#0088ff"/><stop offset="0.519" stop-color="#0094ff"/><stop offset="0.556" stop-color="#00a4ff"/><stop offset="0.593" stop-color="#00b4ff"/><stop offset="0.630" stop-color="#00c4ff"/><stop offset="0.667" stop-color="#00d8ff"/><stop offset="0.704" stop-color="#02e8f4"/><stop offset="0.741" stop-color="#16ffe1"/><stop offset="0.778" stop-color="#23ffd4"/><stop offset="0.815" stop-color="#30ffc7"/><stop offset="0.852" stop-color="#3cffba"/><stop offset="0.889" stop-color="#49ffad"/><stop offset="0.926" stop-color="#53ffa4"/><stop offset="0.963" stop-color="#60ff97"/><stop offset="1.000" stop-color="#6dff8a"/></linearGradient><linearGradient id="s39" x1="0" y1="0" x2="0" y2="1"><stop offset="0.000" stop-color="#0004ff"/><stop offset="0.037" stop-color="#000cff"/><stop offset="0.074" stop-color="#0014ff"/><stop offset="0.111" stop-color="#0018ff"/><stop offset="0.148" stop-color="#001cff"/><stop offset="0.185" stop-color="#0024ff"/><stop offset="0.222" stop-color="#0030ff"/><stop offset="0.259" stop-color="#0038ff"/><stop offset="0.296" stop-color="#0044ff"/><stop offset="0.333" stop-color="#0050ff"/><stop offset="0.370" stop-color="#005cff"/><stop offset="0.407" stop-color="#0068ff"/><stop offset="0.444" stop-color="#0078ff"/><stop offset="0.481" stop-color="#0084ff"/><stop offset="0.519" stop-color="#0090ff"/><stop offset="0.556" stop-color="#00a0ff"/><stop offset="0.593" stop-color="#00b0ff"/><stop offset="0.630" stop-color="#00c4ff"/><stop offset="0.667" stop-color="#00d4ff"/><stop offset="0.704" stop-color="#02e8f4"/><stop offset="0.741" stop-color="#16ffe1"/><stop offset="0.778" stop-color="#23ffd4"/><stop offset="0.815" stop-color="#30ffc7"/><stop offset="0.852" stop-color="#3cffba"/><stop offset="0.889" stop-color="#49ffad"/><stop offset="0.926" stop-color="#53ffa4"/><stop offset="0.963" stop-color="#60ff97"/><stop offset="1.000" stop-color="#6dff8a"/></linearGradient><linearGradient id="s40" x1="0" y1="0" x2="0" y2="1"><stop offset="0.000" stop-color="#0004ff"/><stop offset="0.037" stop-color="#000cff"/><stop offset="0.074" stop-color="#0014ff"/><stop offset="0.111" stop-color="#0018ff"/><stop offset="0.148" stop-color="#001cff"/><stop offset="0.185" stop-color="#0020ff"/><stop offset="0.222" stop-color="#002cff"/><stop offset="0.259" stop-color="#0034ff"/><stop offset="0.296" stop-color="#0040ff"/><stop offset="0.333" stop-color="#004cff"/><stop offset="0.370" stop-color="#0058ff"/><stop offset="0.407" stop-color="#0064ff"/><stop offset="0.444" stop-color="#0074ff"/><stop offset="0.481" stop-color="#0080ff"/><stop offset="0.519" stop-color="#008cff"/><stop offset="0.556" stop-color="#009cff"/><stop offset="0.593" stop-color="#00b0ff"/><stop offset="0.630" stop-color="#00c0ff"/><stop offset="0.667" stop-color="#00d4ff"/><stop offset="0.704" stop-color="#02e8f4"/><stop offset="0.741" stop-color="#16ffe1"/><stop offset="0.778" stop-color="#23ffd4"/><stop offset="0.815" stop-color="#30ffc7"/><stop offset="0.852" stop-color="#3cffba"/><stop offset="0.889" stop-color="#49ffad"/><stop offset="0.926" stop-color="#53ffa4"/><stop offset="0.963" stop-color="#60ff97"/><stop offset="1.000" stop-color="#6dff8a"/></linearGradient><linearGradient id="s41" x1="0" y1="0" x2="0" y2="1"><stop offset="0.000" stop-color="#0004ff"/><stop offset="0.037" stop-color="#000cff"/><stop offset="0.074" stop-color="#0014ff"/><stop offset="0.111" stop-color="#0014ff"/><stop offset="0.148" stop-color="#0018ff"/><stop offset="0.185" stop-color="#001cff"/><stop offset="0.222" stop-color="#0028ff"/><stop offset="0.259" stop-color="#0030ff"/><stop offset="0.296" stop-color="#003cff"/><stop offset="0.333" stop-color="#0048ff"/><stop offset="0.370" stop-color="#0054ff"/><stop offset="0.407" stop-color="#0060ff"/><stop offset="0.444" stop-color="#0070ff"/><stop offset="0.481" stop-color="#007cff"/><stop offset="0.519" stop-color="#0088ff"/><stop offset="0.556" stop-color="#0098ff"/><stop offset="0.593" stop-color="#00acff"/><stop offset="0.630" stop-color="#00c0ff"/><stop offset="0.667" stop-color="#00d4ff"/><stop offset="0.704" stop-color="#02e8f4"/><stop offset="0.741" stop-color="#16ffe1"/><stop offset="0.778" stop-color="#23ffd4"/><stop offset="0.815" stop-color="#30ffc7"/><stop offset="0.852" stop-color="#3cffba"/><stop offset="0.889" stop-color="#49ffad"/><stop offset="0.926" stop-color="#53ffa4"/><stop offset="0.963" stop-color="#60ff97"/><stop offset="1.000" stop-color="#6dff8a"/></linearGradient><linearGradient id="s42" x1="0" y1="0" x2="0" y2="1"><stop offset="0.000" stop-color="#0004ff"/><stop offset="0.037" stop-color="#000cff"/><stop offset="0.074" stop-color="#0010ff"/><stop offset="0.111" stop-color="#0014ff"/><stop offset="0.148" stop-color="#0014ff"/><stop offset="0.185" stop-color="#0018ff"/><stop offset="0.222" stop-color="#0020ff"/><stop offset="0.259" stop-color="#002cff"/><stop offset="0.296" stop-color="#0038ff"/><stop offset="0.333" stop-color="#0044ff"/><stop offset="0.370" stop-color="#0050ff"/><stop offset="0.407" stop-color="#005cff"/><stop offset="0.444" stop-color="#006cff"/><stop offset="0.481" stop-color="#0078ff"/><stop offset="0.519" stop-color="#0084ff"/><stop offset="0.556" stop-color="#0094ff"/><stop offset="0.593" stop-color="#00a8ff"/><stop offset="0.630" stop-color="#00bcff"/><stop offset="0.667" stop-color="#00d4ff"/><stop offset="0.704" stop-color="#02e8f4"/><stop offset="0.741" stop-color="#16ffe1"/><stop offset="0.778" stop-color="#23ffd4"/><stop offset="0.815" stop-color="#30ffc7"/><stop offset="0.852" stop-color="#3cffba"/><stop offset="0.889" stop-color="#49ffad"/><stop offset="0.926" stop-color="#53ffa4"/><stop offset="0.963" stop-color="#60ff97"/><stop offset="1.000" stop-color="#6dff8a"/></linearGradient><linearGradient id="s43" x1="0" y1="0" x2="0" y2="1"><stop offset="0.000" stop-color="#0004ff"/><stop offset="0.037" stop-color="#000cff"/><stop offset="0.074" stop-color="#0010ff"/><stop offset="0.111" stop-color="#0010ff"/><stop offset="0.148" stop-color="#0010ff"/><stop offset="0.185" stop-color="#0014ff"/><stop offset="0.222" stop-color="#0020ff"/><stop offset="0.259" stop-color="#0028ff"/><stop offset="0.296" stop-color="#0034ff"/><stop offset="0.333" stop-color="#0040ff"/><stop offset="0.370" stop-color="#004cff"/><stop offset="0.407" stop-color="#0058ff"/><stop offset="0.444" stop-color="#0068ff"/><stop offset="0.481" stop-color="#0074ff"/><stop offset="0.519" stop-color="#0080ff"/><stop offset="0.556" stop-color="#0090ff"/><stop offset="0.593" stop-color="#00a4ff"/><stop offset="0.630" stop-color="#00bcff"/><stop offset="0.667" stop-color="#00d4ff"/><stop offset="0.704" stop-color="#02e8f4"/><stop offset="0.741" stop-color="#16ffe1"/><stop offset="0.778" stop-color="#23ffd4"/><stop offset="0.815" stop-color="#30ffc7"/><stop offset="0.852" stop-color="#3cffba"/><stop offset="0.889" stop-color="#49ffad"/><stop offset="0.926" stop-color="#53ffa4"/><stop offset="0.963" stop-color="#60ff97"/><stop offset="1.000" stop-color="#6dff8a"/></linearGradient><linearGradient id="s44" x1="0" y1="0" x2="0" y2="1"><stop offset="0.000" stop-color="#0004ff"/><stop offset="0.037" stop-color="#000cff"/><stop offset="0.074" stop-color="#0010ff"/><stop offset="0.111" stop-color="#0010ff"/><stop offset="0.148" stop-color="#0010ff"/><stop offset="0.185" stop-color="#0010ff"/><stop offset="0.222" stop-color="#001cff"/><stop offset="0.259" stop-color="#0024ff"/><stop offset="0.296" stop-color="#0030ff"/><stop offset="0.333" stop-color="#003cff"/><stop offset="0.370" stop-color="#0048ff"/><stop offset="0.407" stop-color="#0054ff"/><stop offset="0.444" stop-color="#0064ff"/><stop offset="0.481" stop-color="#0070ff"/><stop offset="0.519" stop-color="#007cff"/><stop offset="0.556" stop-color="#008cff"/><stop offset="0.593" stop-color="#00a4ff"/><stop offset="0.630" stop-color="#00bcff"/><stop offset="0.667" stop-color="#00d4ff"/><stop offset="0.704" stop-color="#02e8f4"/><stop offset="0.741" stop-color="#16ffe1"/><stop offset="0.778" stop-color="#23ffd4"/><stop offset="0.815" stop-color="#30ffc7"/><stop offset="0.852" stop-color="#3cffba"/><stop offset="0.889" stop-color="#49ffad"/><stop offset="0.926" stop-color="#53ffa4"/><stop offset="0.963" stop-color="#60ff97"/><stop offset="1.000" stop-color="#6dff8a"/></linearGradient><linearGradient id="s45" x1="0" y1="0" x2="0" y2="1"><stop offset="0.000" stop-color="#0004ff"/><stop offset="0.037" stop-color="#000cff"/><stop offset="0.074" stop-color="#0010ff"/><stop offset="0.111" stop-color="#0010ff"/><stop offset="0.148" stop-color="#000cff"/><stop offset="0.185" stop-color="#0010ff"/><stop offset="0.222" stop-color="#0018ff"/><stop offset="0.259" stop-color="#0020ff"/><stop offset="0.296" stop-color="#002cff"/><stop offset="0.333" stop-color="#0038ff"/><stop offset="0.370" stop-color="#0044ff"/><stop offset="0.407" stop-color="#0054ff"/><stop offset="0.444" stop-color="#0060ff"/><stop offset="0.481" stop-color="#006cff"/><stop offset="0.519" stop-color="#007cff"/><stop offset="0.556" stop-color="#008cff"/><stop offset="0.593" stop-color="#00a0ff"/><stop offset="0.630" stop-color="#00b8ff"/><stop offset="0.667" stop-color="#00d4ff"/><stop offset="0.704" stop-color="#02e8f4"/><stop offset="0.741" stop-color="#16ffe1"/><stop offset="0.778" stop-color="#23ffd4"/><stop offset="0.815" stop-color="#30ffc7"/><stop offset="0.852" stop-color="#3cffba"/><stop offset="0.889" stop-color="#49ffad"/><stop offset="0.926" stop-color="#53ffa4"/><stop offset="0.963" stop-color="#60ff97"/><stop offset="1.000" stop-color="#6dff8a"/></linearGradient><linearGradient id="s46" x1="0" y1="0" x2="0" y2="1"><stop offset="0.000" stop-color="#0004ff"/><stop offset="0.037" stop-color="#000cff"/><stop offset="0.074" stop-color="#0010ff"/><stop offset="0.111" stop-color="#0010ff"/><stop offset="0.148" stop-color="#000cff"/><stop offset="0.185" stop-color="#000cff"/><stop offset="0.222" stop-color="#0014ff"/><stop offset="0.259" stop-color="#0020ff"/><stop offset="0.296" stop-color="#0028ff"/><stop offset="0.333" stop-color="#0034ff"/><stop offset="0.370" stop-color="#0044ff"/><stop offset="0.407" stop-color="#0050ff"/><stop offset="0.444" stop-color="#005cff"/><stop offset="0.481" stop-color="#006cff"/><stop offset="0.519" stop-color="#0078ff"/><stop offset="0.556" stop-color="#0088ff"/><stop offset="0.593" stop-color="#00a0ff"/><stop offset="0.630" stop-color="#00b8ff"/><stop offset="0.667" stop-color="#00d0ff"/><stop offset="0.704" stop-color="#02e8f4"/><stop offset="0.741" stop-color="#16ffe1"/><stop offset="0.778" stop-color="#23ffd4"/><stop offset="0.815" stop-color="#30ffc7"/><stop offset="0.852" stop-color="#3cffba"/><stop offset="0.889" stop-color="#49ffad"/><stop offset="0.926" stop-color="#53ffa4"/><stop offset="0.963" stop-color="#60ff97"/><stop offset="1.000" stop-color="#6dff8a"/></linearGradient><linearGradient id="s47" x1="0" y1="0" x2="0" y2="1"><stop offset="0.000" stop-color="#0004ff"/><stop offset="0.037" stop-color="#000cff"/><stop offset="0.074" stop-color="#0010ff"/><stop offset="0.111" stop-color="#000cff"/><stop offset="0.148" stop-color="#0008ff"/><stop offset="0.185" stop-color="#000cff"/><stop offset="0.222" stop-color="#0014ff"/><stop offset="0.259" stop-color="#001cff"/><stop offset="0.296" stop-color="#0028ff"/><stop offset="0.333" stop-color="#0034ff"/><stop offset="0.370" stop-color="#0040ff"/><stop offset="0.407" stop-color="#004cff"/><stop offset="0.444" stop-color="#005cff"/><stop offset="0.481" stop-color="#0068ff"/><stop offset="0.519" stop-color="#0074ff"/><stop offset="0.556" stop-color="#0088ff"/><stop offset="0.593" stop-color="#009cff"/><stop offset="0.630" stop-color="#00b8ff"/><stop offset="0.667" stop-color="#00d0ff"/><stop offset="0.704" stop-color="#02e8f4"/><stop offset="0.741" stop-color="#16ffe1"/><stop offset="0.778" stop-color="#23ffd4"/><stop offset="0.815" stop-color="#30ffc7"/><stop offset="0.852" stop-color="#3cffba"/><stop offset="0.889" stop-color="#49ffad"/><stop offset="0.926" stop-color="#53ffa4"/><stop offset="0.963" stop-color="#60ff97"/><stop offset="1.000" stop-color="#6dff8a"/></linearGradient><linearGradient id="s48" x1="0" y1="0" x2="0" y2="1"><stop offset="0.000" stop-color="#0004ff"/><stop offset="0.037" stop-color="#000cff"/><stop offset="0.074" stop-color="#0010ff"/><stop offset="0.111" stop-color="#000cff"/><stop offset="0.148" stop-color="#0008ff"/><stop offset="0.185" stop-color="#0008ff"/><stop offset="0.222" stop-color="#0010ff"/><stop offset="0.259" stop-color="#001cff"/><stop offset="0.296" stop-color="#0028ff"/><stop offset="0.333" stop-color="#0034ff"/><stop offset="0.370" stop-color="#0040ff"/><stop offset="0.407" stop-color="#004cff"/><stop offset="0.444" stop-color="#005cff"/><stop offset="0.481" stop-color="#0068ff"/><stop offset="0.519" stop-color="#0074ff"/><stop offset="0.556" stop-color="#0084ff"/><stop offset="0.593" stop-color="#009cff"/><stop offset="0.630" stop-color="#00b8ff"/><stop offset="0.667" stop-color="#00d0ff"/><stop offset="0.704" stop-color="#02e8f4"/><stop offset="0.741" stop-color="#16ffe1"/><stop offset="0.778" stop-color="#23ffd4"/><stop offset="0.815" stop-color="#30ffc7"/><stop offset="0.852" stop-color="#3cffba"/><stop offset="0.889" stop-color="#49ffad"/><stop offset="0.926" stop-color="#53ffa4"/><stop offset="0.963" stop-color="#60ff97"/><stop offset="1.000" stop-color="#6dff8a"/></linearGradient><linearGradient id="s49" x1="0" y1="0" x2="0" y2="1"><stop offset="0.000" stop-color="#0000ff"/><stop offset="0.037" stop-color="#000cff"/><stop offset="0.074" stop-color="#0010ff"/><stop offset="0.111" stop-color="#000cff"/><stop offset="0.148" stop-color="#0008ff"/><stop offset="0.185" stop-color="#0008ff"/><stop offset="0.222" stop-color="#0010ff"/><stop offset="0.259" stop-color="#001cff"/><stop offset="0.296" stop-color="#0028ff"/><stop offset="0.333" stop-color="#0034ff"/><stop offset="0.370" stop-color="#0040ff"/><stop offset="0.407" stop-color="#004cff"/><stop offset="0.444" stop-color="#0058ff"/><stop offset="0.481" stop-color="#0068ff"/><stop offset="0.519" stop-color="#0074ff"/><stop offset="0.556" stop-color="#0084ff"/><stop offset="0.593" stop-color="#009cff"/><stop offset="0.630" stop-color="#00b8ff"/><stop offset="0.667" stop-color="#00d0ff"/><stop offset="0.704" stop-color="#02e8f4"/><stop offset="0.741" stop-color="#16ffe1"/><stop offset="0.778" stop-color="#23ffd4"/><stop offset="0.815" stop-color="#30ffc7"/><stop offset="0.852" stop-color="#3cffba"/><stop offset="0.889" stop-color="#49ffad"/><stop offset="0.926" stop-color="#53ffa4"/><stop offset="0.963" stop-color="#60ff97"/><stop offset="1.000" stop-color="#6dff8a"/></linearGradient><linearGradient id="s50" x1="0" y1="0" x2="0" y2="1"><stop offset="0.000" stop-color="#0000bb"/><stop offset="0.037" stop-color="#0000ff"/><stop offset="0.074" stop-color="#0010ff"/><stop offset="0.111" stop-color="#000cff"/><stop offset="0.148" stop-color="#0008ff"/><stop offset="0.185" stop-color="#0008ff"/><stop offset="0.222" stop-color="#0010ff"/><stop offset="0.259" stop-color="#001cff"/><stop offset="0.296" stop-color="#0028ff"/><stop offset="0.333" stop-color="#0034ff"/><stop offset="0.370" stop-color="#0040ff"/><stop offset="0.407" stop-color="#004cff"/><stop offset="0.444" stop-color="#0058ff"/><stop offset="0.481" stop-color="#0068ff"/><stop offset="0.519" stop-color="#0074ff"/><stop offset="0.556" stop-color="#0084ff"/><stop offset="0.593" stop-color="#009cff"/><stop offset="0.630" stop-color="#00b8ff"/><stop offset="0.667" stop-color="#00d0ff"/><stop offset="0.704" stop-color="#02e8f4"/><stop offset="0.741" stop-color="#16ffe1"/><stop offset="0.778" stop-color="#23ffd4"/><stop offset="0.815" stop-color="#30ffc7"/><stop offset="0.852" stop-color="#3cffba"/><stop offset="0.889" stop-color="#49ffad"/><stop offset="0.926" stop-color="#53ffa4"/><stop offset="0.963" stop-color="#60ff97"/><stop offset="1.000" stop-color="#6dff8a"/></linearGradient><linearGradient id="s51" x1="0" y1="0" x2="0" y2="1"><stop offset="0.000" stop-color="#000080"/><stop offset="0.037" stop-color="#0000c4"/><stop offset="0.074" stop-color="#0004ff"/><stop offset="0.111" stop-color="#000cff"/><stop offset="0.148" stop-color="#0008ff"/><stop offset="0.185" stop-color="#0008ff"/><stop offset="0.222" stop-color="#0010ff"/><stop offset="0.259" stop-color="#001cff"/><stop offset="0.296" stop-color="#0028ff"/><stop offset="0.333" stop-color="#0034ff"/><stop offset="0.370" stop-color="#0040ff"/><stop offset="0.407" stop-color="#004cff"/><stop offset="0.444" stop-color="#0058ff"/><stop offset="0.481" stop-color="#0068ff"/><stop offset="0.519" stop-color="#0074ff"/><stop offset="0.556" stop-color="#0084ff"/><stop offset="0.593" stop-color="#009cff"/><stop offset="0.630" stop-color="#00b8ff"/><stop offset="0.667" stop-color="#00d0ff"/><stop offset="0.704" stop-color="#02e8f4"/><stop offset="0.741" stop-color="#16ffe1"/><stop offset="0.778" stop-color="#23ffd4"/><stop offset="0.815" stop-color="#30ffc7"/><stop offset="0.852" stop-color="#3cffba"/><stop offset="0.889" stop-color="#49ffad"/><stop offset="0.926" stop-color="#53ffa4"/><stop offset="0.963" stop-color="#60ff97"/><stop offset="1.000" stop-color="#6dff8a"/></linearGradient><linearGradient id="s52" x1="0" y1="0" x2="0" y2="1"><stop offset="0.000" stop-color="#000080"/><stop offset="0.037" stop-color="#000080"/><stop offset="0.074" stop-color="#0000c8"/><stop offset="0.111" stop-color="#0004ff"/><stop offset="0.148" stop-color="#0008ff"/><stop offset="0.185" stop-color="#0008ff"/><stop offset="0.222" stop-color="#0010ff"/><stop offset="0.259" stop-color="#001cff"/><stop offset="0.296" stop-color="#0028ff"/><stop offset="0.333" stop-color="#0034ff"/><stop offset="0.370" stop-color="#0040ff"/><stop offset="0.407" stop-color="#004cff"/><stop offset="0.444" stop-color="#0058ff"/><stop offset="0.481" stop-color="#0068ff"/><stop offset="0.519" stop-color="#0074ff"/><stop offset="0.556" stop-color="#0084ff"/><stop offset="0.593" stop-color="#009cff"/><stop offset="0.630" stop-color="#00b8ff"/><stop offset="0.667" stop-color="#00d0ff"/><stop offset="0.704" stop-color="#02e8f4"/><stop offset="0.741" stop-color="#16ffe1"/><stop offset="0.778" stop-color="#23ffd4"/><stop offset="0.815" stop-color="#30ffc7"/><stop offset="0.852" stop-color="#3cffba"/><stop offset="0.889" stop-color="#49ffad"/><stop offset="0.926" stop-color="#53ffa4"/><stop offset="0.963" stop-color="#60ff97"/><stop offset="1.000" stop-color="#6dff8a"/></linearGradient><linearGradient id="s53" x1="0" y1="0" x2="0" y2="1"><stop offset="0.000" stop-color="#000080"/><stop offset="0.037" stop-color="#000080"/><stop offset="0.074" stop-color="#000080"/><stop offset="0.111" stop-color="#0000c8"/><stop offset="0.148" stop-color="#0004ff"/><stop offset="0.185" stop-color="#0008ff"/><stop offset="0.222" stop-color="#0010ff"/><stop offset="0.259" stop-color="#001cff"/><stop offset="0.296" stop-color="#0028ff"/><stop offset="0.333" stop-color="#0034ff"/><stop offset="0.370" stop-color="#0040ff"/><stop offset="0.407" stop-color="#004cff"/><stop offset="0.444" stop-color="#0058ff"/><stop offset="0.481" stop-color="#0068ff"/><stop offset="0.519" stop-color="#0074ff"/><stop offset="0.556" stop-color="#0084ff"/><stop offset="0.593" stop-color="#009cff"/><stop offset="0.630" stop-color="#00b8ff"/><stop offset="0.667" stop-color="#00d0ff"/><stop offset="0.704" stop-color="#02e8f4"/><stop offset="0.741" stop-color="#16ffe1"/><stop offset="0.778" stop-color="#23ffd4"/><stop offset="0.815" stop-color="#30ffc7"/><stop offset="0.852" stop-color="#3cffba"/><stop offset="0.889" stop-color="#49ffad"/><stop offset="0.926" stop-color="#53ffa4"/><stop offset="0.963" stop-color="#60ff97"/><stop offset="1.000" stop-color="#6dff8a"/></linearGradient><linearGradient id="s54" x1="0" y1="0" x2="0" y2="1"><stop offset="0.000" stop-color="#000080"/><stop offset="0.037" stop-color="#000080"/><stop offset="0.074" stop-color="#000080"/><stop offset="0.111" stop-color="#000084"/><stop offset="0.148" stop-color="#0000cd"/><stop offset="0.185" stop-color="#0004ff"/><stop offset="0.222" stop-color="#0010ff"/><stop offset="0.259" stop-color="#001cff"/><stop offset="0.296" stop-color="#0028ff"/><stop offset="0.333" stop-color="#0034ff"/><stop offset="0.370" stop-color="#0040ff"/><stop offset="0.407" stop-color="#004cff"/><stop offset="0.444" stop-color="#0058ff"/><stop offset="0.481" stop-color="#0068ff"/><stop offset="0.519" stop-color="#0074ff"/><stop offset="0.556" stop-color="#0084ff"/><stop offset="0.593" stop-color="#009cff"/><stop offset="0.630" stop-color="#00b8ff"/><stop offset="0.667" stop-color="#00d0ff"/><stop offset="0.704" stop-color="#02e8f4"/><stop offset="0.741" stop-color="#16ffe1"/><stop offset="0.778" stop-color="#23ffd4"/><stop offset="0.815" stop-color="#30ffc7"/><stop offset="0.852" stop-color="#3cffba"/><stop offset="0.889" stop-color="#49ffad"/><stop offset="0.926" stop-color="#53ffa4"/><stop offset="0.963" stop-color="#60ff97"/><stop offset="1.000" stop-color="#6dff8a"/></linearGradient><linearGradient id="s55" x1="0" y1="0" x2="0" y2="1"><stop offset="0.000" stop-color="#000080"/><stop offset="0.037" stop-color="#000080"/><stop offset="0.074" stop-color="#000080"/><stop offset="0.111" stop-color="#000080"/><stop offset="0.148" stop-color="#000084"/><stop offset="0.185" stop-color="#0000e3"/><stop offset="0.222" stop-color="#0010ff"/><stop offset="0.259" stop-color="#001cff"/><stop offset="0.296" stop-color="#0028ff"/><stop offset="0.333" stop-color="#0034ff"/><stop offset="0.370" stop-color="#0040ff"/><stop offset="0.407" stop-color="#004cff"/><stop offset="0.444" stop-color="#0058ff"/><stop offset="0.481" stop-color="#0068ff"/><stop offset="0.519" stop-color="#0074ff"/><stop offset="0.556" stop-color="#0084ff"/><stop offset="0.593" stop-color="#009cff"/><stop offset="0.630" stop-color="#00b8ff"/><stop offset="0.667" stop-color="#00d0ff"/><stop offset="0.704" stop-color="#02e8f4"/><stop offset="0.741" stop-color="#16ffe1"/><stop offset="0.778" stop-color="#23ffd4"/><stop offset="0.815" stop-color="#30ffc7"/><stop offset="0.852" stop-color="#3cffba"/><stop offset="0.889" stop-color="#49ffad"/><stop offset="0.926" stop-color="#53ffa4"/><stop offset="0.963" stop-color="#60ff97"/><stop offset="1.000" stop-color="#6dff8a"/></linearGradient><linearGradient id="s56" x1="0" y1="0" x2="0" y2="1"><stop offset="0.000" stop-color="#000080"/><stop offset="0.037" stop-color="#000080"/><stop offset="0.074" stop-color="#000080"/><stop offset="0.111" stop-color="#000080"/><stop offset="0.148" stop-color="#000080"/><stop offset="0.185" stop-color="#0000ad"/><stop offset="0.222" stop-color="#0000ff"/><stop offset="0.259" stop-color="#001cff"/><stop offset="0.296" stop-color="#0028ff"/><stop offset="0.333" stop-color="#0034ff"/><stop offset="0.370" stop-color="#0040ff"/><stop offset="0.407" stop-color="#004cff"/><stop offset="0.444" stop-color="#0058ff"/><stop offset="0.481" stop-color="#0068ff"/><stop offset="0.519" stop-color="#0074ff"/><stop offset="0.556" stop-color="#0084ff"/><stop offset="0.593" stop-color="#009cff"/><stop offset="0.630" stop-color="#00b8ff"/><stop offset="0.667" stop-color="#00d0ff"/><stop offset="0.704" stop-color="#02e8f4"/><stop offset="0.741" stop-color="#16ffe1"/><stop offset="0.778" stop-color="#23ffd4"/><stop offset="0.815" stop-color="#30ffc7"/><stop offset="0.852" stop-color="#3cffba"/><stop offset="0.889" stop-color="#49ffad"/><stop offset="0.926" stop-color="#53ffa4"/><stop offset="0.963" stop-color="#60ff97"/><stop offset="1.000" stop-color="#6dff8a"/></linearGradient><linearGradient id="s57" x1="0" y1="0" x2="0" y2="1"><stop offset="0.000" stop-color="#000080"/><stop offset="0.037" stop-color="#000080"/><stop offset="0.074" stop-color="#000080"/><stop offset="0.111" stop-color="#000080"/><stop offset="0.148" stop-color="#000080"/><stop offset="0.185" stop-color="#0000a8"/><stop offset="0.222" stop-color="#0000fa"/><stop offset="0.259" stop-color="#001cff"/><stop offset="0.296" stop-color="#0028ff"/><stop offset="0.333" stop-color="#0034ff"/><stop offset="0.370" stop-color="#0040ff"/><stop offset="0.407" stop-color="#004cff"/><stop offset="0.444" stop-color="#0058ff"/><stop offset="0.481" stop-color="#0068ff"/><stop offset="0.519" stop-color="#0074ff"/><stop offset="0.556" stop-color="#0084ff"/><stop offset="0.593" stop-color="#009cff"/><stop offset="0.630" stop-color="#00b8ff"/><stop offset="0.667" stop-color="#00d0ff"/><stop offset="0.704" stop-color="#02e8f4"/><stop offset="0.741" stop-color="#16ffe1"/><stop offset="0.778" stop-color="#23ffd4"/><stop offset="0.815" stop-color="#30ffc7"/><stop offset="0.852" stop-color="#3cffba"/><stop offset="0.889" stop-color="#49ffad"/><stop offset="0.926" stop-color="#53ffa4"/><stop offset="0.963" stop-color="#60ff97"/><stop offset="1.000" stop-color="#6dff8a"/></linearGradient><linearGradient id="s58" x1="0" y1="0" x2="0" y2="1"><stop offset="0.000" stop-color="#000080"/><stop offset="0.037" stop-color="#000080"/><stop offset="0.074" stop-color="#000080"/><stop offset="0.111" stop-color="#000080"/><stop offset="0.148" stop-color="#000080"/><stop offset="0.185" stop-color="#00009f"/><stop offset="0.222" stop-color="#0000da"/><stop offset="0.259" stop-color="#0000fa"/><stop offset="0.296" stop-color="#0000ff"/><stop offset="0.333" stop-color="#0000ff"/><stop offset="0.370" stop-color="#0000ff"/><stop offset="0.407" stop-color="#0000ff"/><stop offset="0.444" stop-color="#001cff"/><stop offset="0.481" stop-color="#003cff"/><stop offset="0.519" stop-color="#005cff"/><stop offset="0.556" stop-color="#0078ff"/><stop offset="0.593" stop-color="#0090ff"/><stop offset="0.630" stop-color="#00a8ff"/><stop offset="0.667" stop-color="#00c4ff"/><stop offset="0.704" stop-color="#00dcfe"/><stop offset="0.741" stop-color="#0ff8e7"/><stop offset="0.778" stop-color="#23ffd4"/><stop offset="0.815" stop-color="#30ffc7"/><stop offset="0.852" stop-color="#3cffba"/><stop offset="0.889" stop-color="#49ffad"/><stop offset="0.926" stop-color="#53ffa4"/><stop offset="0.963" stop-color="#60ff97"/><stop offset="1.000" stop-color="#6dff8a"/></linearGradient><linearGradient id="s59" x1="0" y1="0" x2="0" y2="1"><stop offset="0.000" stop-color="#0000b2"/><stop offset="0.037" stop-color="#00009f"/><stop offset="0.074" stop-color="#000092"/><stop offset="0.111" stop-color="#000089"/><stop offset="0.148" stop-color="#000080"/><stop offset="0.185" stop-color="#00009f"/><stop offset="0.222" stop-color="#0000da"/><stop offset="0.259" stop-color="#0000fa"/><stop offset="0.296" stop-color="#0000ff"/><stop offset="0.333" stop-color="#0000ff"/><stop offset="0.370" stop-color="#0000ff"/><stop offset="0.407" stop-color="#0000ff"/><stop offset="0.444" stop-color="#001cff"/><stop offset="0.481" stop-color="#003cff"/><stop offset="0.519" stop-color="#005cff"/><stop offset="0.556" stop-color="#0078ff"/><stop offset="0.593" stop-color="#0090ff"/><stop offset="0.630" stop-color="#00a8ff"/><stop offset="0.667" stop-color="#00c4ff"/><stop offset="0.704" stop-color="#00dcfe"/><stop offset="0.741" stop-color="#0ff8e7"/><stop offset="0.778" stop-color="#23ffd4"/><stop offset="0.815" stop-color="#30ffc7"/><stop offset="0.852" stop-color="#3cffba"/><stop offset="0.889" stop-color="#49ffad"/><stop offset="0.926" stop-color="#53ffa4"/><stop offset="0.963" stop-color="#60ff97"/><stop offset="1.000" stop-color="#6dff8a"/></linearGradient><linearGradient id="s60" x1="0" y1="0" x2="0" y2="1"><stop offset="0.000" stop-color="#0000ff"/><stop offset="0.037" stop-color="#0000fa"/><stop offset="0.074" stop-color="#0000ed"/><stop offset="0.111" stop-color="#0000da"/><stop offset="0.148" stop-color="#0000cd"/><stop offset="0.185" stop-color="#0000cd"/><stop offset="0.222" stop-color="#0000e8"/><stop offset="0.259" stop-color="#0000fa"/><stop offset="0.296" stop-color="#0000ff"/><stop offset="0.333" stop-color="#0000ff"/><stop offset="0.370" stop-color="#0000ff"/><stop offset="0.407" stop-color="#0000ff"/><stop offset="0.444" stop-color="#001cff"/><stop offset="0.481" stop-color="#003cff"/><stop offset="0.519" stop-color="#005cff"/><stop offset="0.556" stop-color="#0078ff"/><stop offset="0.593" stop-color="#0090ff"/><stop offset="0.630" stop-color="#00a8ff"/><stop offset="0.667" stop-color="#00c4ff"/><stop offset="0.704" stop-color="#00dcfe"/><stop offset="0.741" stop-color="#0ff8e7"/><stop offset="0.778" stop-color="#23ffd4"/><stop offset="0.815" stop-color="#30ffc7"/><stop offset="0.852" stop-color="#3cffba"/><stop offset="0.889" stop-color="#49ffad"/><stop offset="0.926" stop-color="#53ffa4"/><stop offset="0.963" stop-color="#60ff97"/><stop offset="1.000" stop-color="#6dff8a"/></linearGradient><linearGradient id="s61" x1="0" y1="0" x2="0" y2="1"><stop offset="0.000" stop-color="#0000f1"/><stop offset="0.037" stop-color="#0000f6"/><stop offset="0.074" stop-color="#0000f6"/><stop offset="0.111" stop-color="#0000f6"/><stop offset="0.148" stop-color="#0000fa"/><stop offset="0.185" stop-color="#0000fa"/><stop offset="0.222" stop-color="#0000fa"/><stop offset="0.259" stop-color="#0000fa"/><stop offset="0.296" stop-color="#0000ff"/><stop offset="0.333" stop-color="#0000ff"/><stop offset="0.370" stop-color="#0000ff"/><stop offset="0.407" stop-color="#0000ff"/><stop offset="0.444" stop-color="#001cff"/><stop offset="0.481" stop-color="#003cff"/><stop offset="0.519" stop-color="#005cff"/><stop offset="0.556" stop-color="#0078ff"/><stop offset="0.593" stop-color="#0090ff"/><stop offset="0.630" stop-color="#00a8ff"/><stop offset="0.667" stop-color="#00c4ff"/><stop offset="0.704" stop-color="#00dcfe"/><stop offset="0.741" stop-color="#0ff8e7"/><stop offset="0.778" stop-color="#23ffd4"/><stop offset="0.815" stop-color="#30ffc7"/><stop offset="0.852" stop-color="#3cffba"/><stop offset="0.889" stop-color="#49ffad"/><stop offset="0.926" stop-color="#53ffa4"/><stop offset="0.963" stop-color="#60ff97"/><stop offset="1.000" stop-color="#6dff8a"/></linearGradient><linearGradient id="s62" x1="0" y1="0" x2="0" y2="1"><stop offset="0.000" stop-color="#0000e8"/><stop offset="0.037" stop-color="#0000e8"/><stop offset="0.074" stop-color="#0000e3"/><stop offset="0.111" stop-color="#0000e3"/><stop offset="0.148" stop-color="#0000ed"/><stop offset="0.185" stop-color="#0000f1"/><stop offset="0.222" stop-color="#0000f6"/><stop offset="0.259" stop-color="#0000fa"/><stop offset="0.296" stop-color="#0000ff"/><stop offset="0.333" stop-color="#0000ff"/><stop offset="0.370" stop-color="#0000ff"/><stop offset="0.407" stop-color="#0000ff"/><stop offset="0.444" stop-color="#001cff"/><stop offset="0.481" stop-color="#003cff"/><stop offset="0.519" stop-color="#005cff"/><stop offset="0.556" stop-color="#0078ff"/><stop offset="0.593" stop-color="#0090ff"/><stop offset="0.630" stop-color="#00a8ff"/><stop offset="0.667" stop-color="#00c4ff"/><stop offset="0.704" stop-color="#00dcfe"/><stop offset="0.741" stop-color="#0ff8e7"/><stop offset="0.778" stop-color="#23ffd4"/><stop offset="0.815" stop-color="#30ffc7"/><stop offset="0.852" stop-color="#3cffba"/><stop offset="0.889" stop-color="#49ffad"/><stop offset="0.926" stop-color="#53ffa4"/><stop offset="0.963" stop-color="#60ff97"/><stop offset="1.000" stop-color="#6dff8a"/></linearGradient><linearGradient id="s63" x1="0" y1="0" x2="0" y2="1"><stop offset="0.000" stop-color="#0000e8"/><stop offset="0.037" stop-color="#0000e8"/><stop offset="0.074" stop-color="#0000e3"/><stop offset="0.111" stop-color="#0000e3"/><stop offset="0.148" stop-color="#0000e8"/><stop offset="0.185" stop-color="#0000ed"/><stop offset="0.222" stop-color="#0000f6"/><stop offset="0.259" stop-color="#0000fa"/><stop offset="0.296" stop-color="#0000ff"/><stop offset="0.333" stop-color="#0000ff"/><stop offset="0.370" stop-color="#0000ff"/><stop offset="0.407" stop-color="#0000ff"/><stop offset="0.444" stop-color="#001cff"/><stop offset="0.481" stop-color="#003cff"/><stop offset="0.519" stop-color="#005cff"/><stop offset="0.556" stop-color="#0078ff"/><stop offset="0.593" stop-color="#0090ff"/><stop offset="0.630" stop-color="#00a8ff"/><stop offset="0.667" stop-color="#00c4ff"/><stop offset="0.704" stop-color="#00dcfe"/><stop offset="0.741" stop-color="#0ff8e7"/><stop offset="0.778" stop-color="#23ffd4"/><stop offset="0.815" stop-color="#30ffc7"/><stop offset="0.852" stop-color="#3cffba"/><stop offset="0.889" stop-color="#49ffad"/><stop offset="0.926" stop-color="#53ffa4"/><stop offset="0.963" stop-color="#60ff97"/><stop offset="1.000" stop-color="#6dff8a"/></linearGradient><linearGradient id="s64" x1="0" y1="0" x2="0" y2="1"><stop offset="0.000" stop-color="#0000ed"/><stop offset="0.037" stop-color="#0000e8"/><stop offset="0.074" stop-color="#0000e8"/><stop offset="0.111" stop-color="#0000e3"/><stop offset="0.148" stop-color="#0000e8"/><stop offset="0.185" stop-color="#0000ed"/><stop offset="0.222" stop-color="#0000f6"/><stop offset="0.259" stop-color="#0000fa"/><stop offset="0.296" stop-color="#0000ff"/><stop offset="0.333" stop-color="#0000ff"/><stop offset="0.370" stop-color="#0000ff"/><stop offset="0.407" stop-color="#0000ff"/><stop offset="0.444" stop-color="#001cff"/><stop offset="0.481" stop-color="#003cff"/><stop offset="0.519" stop-color="#005cff"/><stop offset="0.556" stop-color="#0078ff"/><stop offset="0.593" stop-color="#0090ff"/><stop offset="0.630" stop-color="#00a8ff"/><stop offset="0.667" stop-color="#00c4ff"/><stop offset="0.704" stop-color="#00dcfe"/><stop offset="0.741" stop-color="#0ff8e7"/><stop offset="0.778" stop-color="#23ffd4"/><stop offset="0.815" stop-color="#30ffc7"/><stop offset="0.852" stop-color="#3cffba"/><stop offset="0.889" stop-color="#49ffad"/><stop offset="0.926" stop-color="#53ffa4"/><stop offset="0.963" stop-color="#60ff97"/><stop offset="1.000" stop-color="#6dff8a"/></linearGradient><linearGradient id="s65" x1="0" y1="0" x2="0" y2="1"><stop offset="0.000" stop-color="#0000fa"/><stop offset="0.037" stop-color="#0000f6"/><stop offset="0.074" stop-color="#0000f1"/><stop offset="0.111" stop-color="#0000ed"/><stop offset="0.148" stop-color="#0000ed"/><stop offset="0.185" stop-color="#0000f1"/><stop offset="0.222" stop-color="#0000f6"/><stop offset="0.259" stop-color="#0000fa"/><stop offset="0.296" stop-color="#0000ff"/><stop offset="0.333" stop-color="#0000ff"/><stop offset="0.370" stop-color="#0000ff"/><stop offset="0.407" stop-color="#0000ff"/><stop offset="0.444" stop-color="#001cff"/><stop offset="0.481" stop-color="#003cff"/><stop offset="0.519" stop-color="#005cff"/><stop offset="0.556" stop-color="#0078ff"/><stop offset="0.593" stop-color="#0090ff"/><stop offset="0.630" stop-color="#00a8ff"/><stop offset="0.667" stop-color="#00c4ff"/><stop offset="0.704" stop-color="#00dcfe"/><stop offset="0.741" stop-color="#0ff8e7"/><stop offset="0.778" stop-color="#23ffd4"/><stop offset="0.815" stop-color="#30ffc7"/><stop offset="0.852" stop-color="#3cffba"/><stop offset="0.889" stop-color="#49ffad"/><stop offset="0.926" stop-color="#53ffa4"/><stop offset="0.963" stop-color="#60ff97"/><stop offset="1.000" stop-color="#6dff8a"/></linearGradient><linearGradient id="s66" x1="0" y1="0" x2="0" y2="1"><stop offset="0.000" stop-color="#0000ff"/><stop offset="0.037" stop-color="#0000ff"/><stop offset="0.074" stop-color="#0000ff"/><stop offset="0.111" stop-color="#0000fa"/><stop offset="0.148" stop-color="#0000f6"/><stop offset="0.185" stop-color="#0000f6"/><stop offset="0.222" stop-color="#0000fa"/><stop offset="0.259" stop-color="#0000ff"/><stop offset="0.296" stop-color="#0000ff"/><stop offset="0.333" stop-color="#0000ff"/><stop offset="0.370" stop-color="#0000ff"/><stop offset="0.407" stop-color="#0000ff"/><stop offset="0.444" stop-color="#001cff"/><stop offset="0.481" stop-color="#003cff"/><stop offset="0.519" stop-color="#005cff"/><stop offset="0.556" stop-color="#0078ff"/><stop offset="0.593" stop-color="#0090ff"/><stop offset="0.630" stop-color="#00a8ff"/><stop offset="0.667" stop-color="#00c4ff"/><stop offset="0.704" stop-color="#00dcfe"/><stop offset="0.741" stop-color="#0ff8e7"/><stop offset="0.778" stop-color="#23ffd4"/><stop offset="0.815" stop-color="#30ffc7"/><stop offset="0.852" stop-color="#3cffba"/><stop offset="0.889" stop-color="#49ffad"/><stop offset="0.926" stop-color="#53ffa4"/><stop offset="0.963" stop-color="#60ff97"/><stop offset="1.000" stop-color="#6dff8a"/></linearGradient><linearGradient id="s67" x1="0" y1="0" x2="0" y2="1"><stop offset="0.000" stop-color="#0010ff"/><stop offset="0.037" stop-color="#0010ff"/><stop offset="0.074" stop-color="#0008ff"/><stop offset="0.111" stop-color="#0000ff"/><stop offset="0.148" stop-color="#0000ff"/><stop offset="0.185" stop-color="#0000ff"/><stop offset="0.222" stop-color="#0000ff"/><stop offset="0.259" stop-color="#0000ff"/><stop offset="0.296" stop-color="#0000ff"/><stop offset="0.333" stop-color="#0000ff"/><stop offset="0.370" stop-color="#0000ff"/><stop offset="0.407" stop-color="#0000ff"/><stop offset="0.444" stop-color="#0018ff"/><stop offset="0.481" stop-color="#0038ff"/><stop offset="0.519" stop-color="#005cff"/><stop offset="0.556" stop-color="#0078ff"/><stop offset="0.593" stop-color="#0090ff"/><stop offset="0.630" stop-color="#00a8ff"/><stop offset="0.667" stop-color="#00c4ff"/><stop offset="0.704" stop-color="#00dcfe"/><stop offset="0.741" stop-color="#0ff8e7"/><stop offset="0.778" stop-color="#23ffd4"/><stop offset="0.815" stop-color="#30ffc7"/><stop offset="0.852" stop-color="#3cffba"/><stop offset="0.889" stop-color="#49ffad"/><stop offset="0.926" stop-color="#53ffa4"/><stop offset="0.963" stop-color="#60ff97"/><stop offset="1.000" stop-color="#6dff8a"/></linearGradient><linearGradient id="s68" x1="0" y1="0" x2="0" y2="1"><stop offset="0.000" stop-color="#0024ff"/><stop offset="0.037" stop-color="#0020ff"/><stop offset="0.074" stop-color="#001cff"/><stop offset="0.111" stop-color="#0018ff"/><stop offset="0.148" stop-color="#0014ff"/><stop offset="0.185" stop-color="#0010ff"/><stop offset="0.222" stop-color="#000cff"/><stop offset="0.259" stop-color="#0008ff"/><stop offset="0.296" stop-color="#0008ff"/><stop offset="0.333" stop-color="#0004ff"/><stop offset="0.370" stop-color="#0004ff"/><stop offset="0.407" stop-color="#0004ff"/><stop offset="0.444" stop-color="#0018ff"/><stop offset="0.481" stop-color="#0038ff"/><stop offset="0.519" stop-color="#0058ff"/><stop offset="0.556" stop-color="#0074ff"/><stop offset="0.593" stop-color="#0090ff"/><stop offset="0.630" stop-color="#00a8ff"/><stop offset="0.667" stop-color="#00c4ff"/><stop offset="0.704" stop-color="#00dcfe"/><stop offset="0.741" stop-color="#0ff8e7"/><stop offset="0.778" stop-color="#23ffd4"/><stop offset="0.815" stop-color="#30ffc7"/><stop offset="0.852" stop-color="#3cffba"/><stop offset="0.889" stop-color="#49ffad"/><stop offset="0.926" stop-color="#53ffa4"/><stop offset="0.963" stop-color="#60ff97"/><stop offset="1.000" stop-color="#6dff8a"/></linearGradient><linearGradient id="s69" x1="0" y1="0" x2="0" y2="1"><stop offset="0.000" stop-color="#0034ff"/><stop offset="0.037" stop-color="#0034ff"/><stop offset="0.074" stop-color="#0030ff"/><stop offset="0.111" stop-color="#002cff"/><stop offset="0.148" stop-color="#002cff"/><stop offset="0.185" stop-color="#0028ff"/><stop offset="0.222" stop-color="#0024ff"/><stop offset="0.259" stop-color="#0020ff"/><stop offset="0.296" stop-color="#0020ff"/><stop offset="0.333" stop-color="#0018ff"/><stop offset="0.370" stop-color="#0014ff"/><stop offset="0.407" stop-color="#0010ff"/><stop offset="0.444" stop-color="#0020ff"/><stop offset="0.481" stop-color="#0038ff"/><stop offset="0.519" stop-color="#0058ff"/><stop offset="0.556" stop-color="#0074ff"/><stop offset="0.593" stop-color="#008cff"/><stop offset="0.630" stop-color="#00a4ff"/><stop offset="0.667" stop-color="#00c0ff"/><stop offset="0.704" stop-color="#00dcfe"/><stop offset="0.741" stop-color="#0ff8e7"/><stop offset="0.778" stop-color="#23ffd4"/><stop offset="0.815" stop-color="#30ffc7"/><stop offset="0.852" stop-color="#3cffba"/><stop offset="0.889" stop-color="#49ffad"/><stop offset="0.926" stop-color="#53ffa4"/><stop offset="0.963" stop-color="#60ff97"/><stop offset="1.000" stop-color="#6dff8a"/></linearGradient><linearGradient id="s70" x1="0" y1="0" x2="0" y2="1"><stop offset="0.000" stop-color="#0044ff"/><stop offset="0.037" stop-color="#0044ff"/><stop offset="0.074" stop-color="#0044ff"/><stop offset="0.111" stop-color="#0044ff"/><stop offset="0.148" stop-color="#0044ff"/><stop offset="0.185" stop-color="#0040ff"/><stop offset="0.222" stop-color="#0040ff"/><stop offset="0.259" stop-color="#003cff"/><stop offset="0.296" stop-color="#0038ff"/><stop offset="0.333" stop-color="#0034ff"/><stop offset="0.370" stop-color="#0028ff"/><stop offset="0.407" stop-color="#0020ff"/><stop offset="0.444" stop-color="#002cff"/><stop offset="0.481" stop-color="#0040ff"/><stop offset="0.519" stop-color="#005cff"/><stop offset="0.556" stop-color="#0074ff"/><stop offset="0.593" stop-color="#0088ff"/><stop offset="0.630" stop-color="#00a4ff"/><stop offset="0.667" stop-color="#00c0ff"/><stop offset="0.704" stop-color="#00dcfe"/><stop offset="0.741" stop-color="#0ff8e7"/><stop offset="0.778" stop-color="#23ffd4"/><stop offset="0.815" stop-color="#30ffc7"/><stop offset="0.852" stop-color="#3cffba"/><stop offset="0.889" stop-color="#49ffad"/><stop offset="0.926" stop-color="#53ffa4"/><stop offset="0.963" stop-color="#60ff97"/><stop offset="1.000" stop-color="#6dff8a"/></linearGradient><linearGradient id="s71" x1="0" y1="0" x2="0" y2="1"><stop offset="0.000" stop-color="#0050ff"/><stop offset="0.037" stop-color="#0054ff"/><stop offset="0.074" stop-color="#0054ff"/><stop offset="0.111" stop-color="#0058ff"/><stop offset="0.148" stop-color="#0058ff"/><stop offset="0.185" stop-color="#0058ff"/><stop offset="0.222" stop-color="#0058ff"/><stop offset="0.259" stop-color="#0058ff"/><stop offset="0.296" stop-color="#0054ff"/><stop offset="0.333" stop-color="#004cff"/><stop offset="0.370" stop-color="#0044ff"/><stop offset="0.407" stop-color="#0038ff"/><stop offset="0.444" stop-color="#003cff"/><stop offset="0.481" stop-color="#004cff"/><stop offset="0.519" stop-color="#0064ff"/><stop offset="0.556" stop-color="#0078ff"/><stop offset="0.593" stop-color="#008cff"/><stop offset="0.630" stop-color="#00a4ff"/><stop offset="0.667" stop-color="#00c0ff"/><stop offset="0.704" stop-color="#00dcfe"/><stop offset="0.741" stop-color="#0ff8e7"/><stop offset="0.778" stop-color="#23ffd4"/><stop offset="0.815" stop-color="#30ffc7"/><stop offset="0.852" stop-color="#3cffba"/><stop offset="0.889" stop-color="#49ffad"/><stop offset="0.926" stop-color="#53ffa4"/><stop offset="0.963" stop-color="#60ff97"/><stop offset="1.000" stop-color="#6dff8a"/></linearGradient><linearGradient id="s72" x1="0" y1="0" x2="0" y2="1"><stop offset="0.000" stop-color="#0058ff"/><stop offset="0.037" stop-color="#005cff"/><stop offset="0.074" stop-color="#0060ff"/><stop offset="0.111" stop-color="#0068ff"/><stop offset="0.148" stop-color="#0068ff"/><stop offset="0.185" stop-color="#006cff"/><stop offset="0.222" stop-color="#0070ff"/><stop offset="0.259" stop-color="#0070ff"/><stop offset="0.296" stop-color="#006cff"/><stop offset="0.333" stop-color="#0068ff"/><stop offset="0.370" stop-color="#005cff"/><stop offset="0.407" stop-color="#0050ff"/><stop offset="0.444" stop-color="#0050ff"/><stop offset="0.481" stop-color="#005cff"/><stop offset="0.519" stop-color="#006cff"/><stop offset="0.556" stop-color="#007cff"/><stop offset="0.593" stop-color="#0090ff"/><stop offset="0.630" stop-color="#00a4ff"/><stop offset="0.667" stop-color="#00c0ff"/><stop offset="0.704" stop-color="#00dcfe"/><stop offset="0.741" stop-color="#0ff8e7"/><stop offset="0.778" stop-color="#23ffd4"/><stop offset="0.815" stop-color="#30ffc7"/><stop offset="0.852" stop-color="#3cffba"/><stop offset="0.889" stop-color="#49ffad"/><stop offset="0.926" stop-color="#53ffa4"/><stop offset="0.963" stop-color="#60ff97"/><stop offset="1.000" stop-color="#6dff8a"/></linearGradient><linearGradient id="s73" x1="0" y1="0" x2="0" y2="1"><stop offset="0.000" stop-color="#0058ff"/><stop offset="0.037" stop-color="#0060ff"/><stop offset="0.074" stop-color="#0068ff"/><stop offset="0.111" stop-color="#0070ff"/><stop offset="0.148" stop-color="#0074ff"/><stop offset="0.185" stop-color="#0078ff"/><stop offset="0.222" stop-color="#0080ff"/><stop offset="0.259" stop-color="#0084ff"/><stop offset="0.296" stop-color="#0084ff"/><stop offset="0.333" stop-color="#007cff"/><stop offset="0.370" stop-color="#0070ff"/><stop offset="0.407" stop-color="#0064ff"/><stop offset="0.444" stop-color="#0060ff"/><stop offset="0.481" stop-color="#0068ff"/><stop offset="0.519" stop-color="#0078ff"/><stop offset="0.556" stop-color="#0084ff"/><stop offset="0.593" stop-color="#0094ff"/><stop offset="0.630" stop-color="#00a8ff"/><stop offset="0.667" stop-color="#00c4ff"/><stop offset="0.704" stop-color="#00e0fb"/><stop offset="0.741" stop-color="#13fce4"/><stop offset="0.778" stop-color="#26ffd1"/><stop offset="0.815" stop-color="#33ffc4"/><stop offset="0.852" stop-color="#3cffba"/><stop offset="0.889" stop-color="#49ffad"/><stop offset="0.926" stop-color="#53ffa4"/><stop offset="0.963" stop-color="#60ff97"/><stop offset="1.000" stop-color="#6dff8a"/></linearGradient><linearGradient id="s74" x1="0" y1="0" x2="0" y2="1"><stop offset="0.000" stop-color="#005cff"/><stop offset="0.037" stop-color="#0064ff"/><stop offset="0.074" stop-color="#0068ff"/><stop offset="0.111" stop-color="#0070ff"/><stop offset="0.148" stop-color="#0078ff"/><stop offset="0.185" stop-color="#0080ff"/><stop offset="0.222" stop-color="#0088ff"/><stop offset="0.259" stop-color="#008cff"/><stop offset="0.296" stop-color="#0090ff"/><stop offset="0.333" stop-color="#008cff"/><stop offset="0.370" stop-color="#0080ff"/><stop offset="0.407" stop-color="#0074ff"/><stop offset="0.444" stop-color="#0070ff"/><stop offset="0.481" stop-color="#0078ff"/><stop offset="0.519" stop-color="#0080ff"/><stop offset="0.556" stop-color="#008cff"/><stop offset="0.593" stop-color="#009cff"/><stop offset="0.630" stop-color="#00acff"/><stop offset="0.667" stop-color="#00c8ff"/><stop offset="0.704" stop-color="#00e4f8"/><stop offset="0.741" stop-color="#16ffe1"/><stop offset="0.778" stop-color="#29ffce"/><stop offset="0.815" stop-color="#33ffc4"/><stop offset="0.852" stop-color="#40ffb7"/><stop offset="0.889" stop-color="#49ffad"/><stop offset="0.926" stop-color="#56ffa0"/><stop offset="0.963" stop-color="#60ff97"/><stop offset="1.000" stop-color="#6dff8a"/></linearGradient><linearGradient id="s75" x1="0" y1="0" x2="0" y2="1"><stop offset="0.000" stop-color="#0060ff"/><stop offset="0.037" stop-color="#0064ff"/><stop offset="0.074" stop-color="#006cff"/><stop offset="0.111" stop-color="#0070ff"/><stop offset="0.148" stop-color="#0078ff"/><stop offset="0.185" stop-color="#0080ff"/><stop offset="0.222" stop-color="#0088ff"/><stop offset="0.259" stop-color="#0090ff"/><stop offset="0.296" stop-color="#0094ff"/><stop offset="0.333" stop-color="#0094ff"/><stop offset="0.370" stop-color="#0088ff"/><stop offset="0.407" stop-color="#007cff"/><stop offset="0.444" stop-color="#0078ff"/><stop offset="0.481" stop-color="#0080ff"/><stop offset="0.519" stop-color="#0088ff"/><stop offset="0.556" stop-color="#0094ff"/><stop offset="0.593" stop-color="#00a0ff"/><stop offset="0.630" stop-color="#00b4ff"/><stop offset="0.667" stop-color="#00ccff"/><stop offset="0.704" stop-color="#06ecf1"/><stop offset="0.741" stop-color="#1cffdb"/><stop offset="0.778" stop-color="#29ffce"/><stop offset="0.815" stop-color="#36ffc1"/><stop offset="0.852" stop-color="#40ffb7"/><stop offset="0.889" stop-color="#49ffad"/><stop offset="0.926" stop-color="#56ffa0"/><stop offset="0.963" stop-color="#60ff97"/><stop offset="1.000" stop-color="#6dff8a"/></linearGradient><linearGradient id="s76" x1="0" y1="0" x2="0" y2="1"><stop offset="0.000" stop-color="#0070ff"/><stop offset="0.037" stop-color="#0070ff"/><stop offset="0.074" stop-color="#0074ff"/><stop offset="0.111" stop-color="#0078ff"/><stop offset="0.148" stop-color="#007cff"/><stop offset="0.185" stop-color="#0084ff"/><stop offset="0.222" stop-color="#0088ff"/><stop offset="0.259" stop-color="#0090ff"/><stop offset="0.296" stop-color="#0094ff"/><stop offset="0.333" stop-color="#0094ff"/><stop offset="0.370" stop-color="#008cff"/><stop offset="0.407" stop-color="#0080ff"/><stop offset="0.444" stop-color="#007cff"/><stop offset="0.481" stop-color="#0084ff"/><stop offset="0.519" stop-color="#0090ff"/><stop offset="0.556" stop-color="#0098ff"/><stop offset="0.593" stop-color="#00a4ff"/><stop offset="0.630" stop-color="#00b8ff"/><stop offset="0.667" stop-color="#00d0ff"/><stop offset="0.704" stop-color="#09f0ee"/><stop offset="0.741" stop-color="#1fffd7"/><stop offset="0.778" stop-color="#2cffca"/><stop offset="0.815" stop-color="#36ffc1"/><stop offset="0.852" stop-color="#43ffb4"/><stop offset="0.889" stop-color="#4dffaa"/><stop offset="0.926" stop-color="#56ffa0"/><stop offset="0.963" stop-color="#60ff97"/><stop offset="1.000" stop-color="#6dff8a"/></linearGradient><linearGradient id="s77" x1="0" y1="0" x2="0" y2="1"><stop offset="0.000" stop-color="#0080ff"/><stop offset="0.037" stop-color="#0080ff"/><stop offset="0.074" stop-color="#0080ff"/><stop offset="0.111" stop-color="#0084ff"/><stop offset="0.148" stop-color="#0084ff"/><stop offset="0.185" stop-color="#0088ff"/><stop offset="0.222" stop-color="#008cff"/><stop offset="0.259" stop-color="#0094ff"/><stop offset="0.296" stop-color="#0094ff"/><stop offset="0.333" stop-color="#0094ff"/><stop offset="0.370" stop-color="#008cff"/><stop offset="0.407" stop-color="#0080ff"/><stop offset="0.444" stop-color="#0080ff"/><stop offset="0.481" stop-color="#0088ff"/><stop offset="0.519" stop-color="#0094ff"/><stop offset="0.556" stop-color="#009cff"/><stop offset="0.593" stop-color="#00a8ff"/><stop offset="0.630" stop-color="#00bcff"/><stop offset="0.667" stop-color="#00d8ff"/><stop offset="0.704" stop-color="#0cf4eb"/><stop offset="0.741" stop-color="#23ffd4"/><stop offset="0.778" stop-color="#30ffc7"/><stop offset="0.815" stop-color="#39ffbe"/><stop offset="0.852" stop-color="#43ffb4"/><stop offset="0.889" stop-color="#4dffaa"/><stop offset="0.926" stop-color="#56ffa0"/><stop offset="0.963" stop-color="#60ff97"/><stop offset="1.000" stop-color="#6dff8a"/></linearGradient><linearGradient id="s78" x1="0" y1="0" x2="0" y2="1"><stop offset="0.000" stop-color="#008cff"/><stop offset="0.037" stop-color="#0090ff"/><stop offset="0.074" stop-color="#0094ff"/><stop offset="0.111" stop-color="#0094ff"/><stop offset="0.148" stop-color="#0094ff"/><stop offset="0.185" stop-color="#0094ff"/><stop offset="0.222" stop-color="#0094ff"/><stop offset="0.259" stop-color="#0098ff"/><stop offset="0.296" stop-color="#0098ff"/><stop offset="0.333" stop-color="#0094ff"/><stop offset="0.370" stop-color="#008cff"/><stop offset="0.407" stop-color="#0084ff"/><stop offset="0.444" stop-color="#0080ff"/><stop offset="0.481" stop-color="#008cff"/><stop offset="0.519" stop-color="#0094ff"/><stop offset="0.556" stop-color="#00a0ff"/><stop offset="0.593" stop-color="#00acff"/><stop offset="0.630" stop-color="#00c0ff"/><stop offset="0.667" stop-color="#00d8ff"/><stop offset="0.704" stop-color="#0ff8e7"/><stop offset="0.741" stop-color="#26ffd1"/><stop offset="0.778" stop-color="#33ffc4"/><stop offset="0.815" stop-color="#3cffba"/><stop offset="0.852" stop-color="#46ffb1"/><stop offset="0.889" stop-color="#4dffaa"/><stop offset="0.926" stop-color="#56ffa0"/><stop offset="0.963" stop-color="#60ff97"/><stop offset="1.000" stop-color="#6dff8a"/></linearGradient><linearGradient id="s79" x1="0" y1="0" x2="0" y2="1"><stop offset="0.000" stop-color="#0088ff"/><stop offset="0.037" stop-color="#0094ff"/><stop offset="0.074" stop-color="#009cff"/><stop offset="0.111" stop-color="#00a4ff"/><stop offset="0.148" stop-color="#00a4ff"/><stop offset="0.185" stop-color="#00a8ff"/><stop offset="0.222" stop-color="#00a4ff"/><stop offset="0.259" stop-color="#00a0ff"/><stop offset="0.296" stop-color="#00a0ff"/><stop offset="0.333" stop-color="#0098ff"/><stop offset="0.370" stop-color="#0090ff"/><stop offset="0.407" stop-color="#0088ff"/><stop offset="0.444" stop-color="#0084ff"/><stop offset="0.481" stop-color="#0090ff"/><stop offset="0.519" stop-color="#009cff"/><stop offset="0.556" stop-color="#00a4ff"/><stop offset="0.593" stop-color="#00b0ff"/><stop offset="0.630" stop-color="#00c4ff"/><stop offset="0.667" stop-color="#00dcfe"/><stop offset="0.704" stop-color="#0ff8e7"/><stop offset="0.741" stop-color="#26ffd1"/><stop offset="0.778" stop-color="#33ffc4"/><stop offset="0.815" stop-color="#3cffba"/><stop offset="0.852" stop-color="#46ffb1"/><stop offset="0.889" stop-color="#50ffa7"/><stop offset="0.926" stop-color="#5aff9d"/><stop offset="0.963" stop-color="#60ff97"/><stop offset="1.000" stop-color="#6dff8a"/></linearGradient><linearGradient id="s80" x1="0" y1="0" x2="0" y2="1"><stop offset="0.000" stop-color="#0074ff"/><stop offset="0.037" stop-color="#0084ff"/><stop offset="0.074" stop-color="#0094ff"/><stop offset="0.111" stop-color="#00a0ff"/><stop offset="0.148" stop-color="#00acff"/><stop offset="0.185" stop-color="#00b0ff"/><stop offset="0.222" stop-color="#00b4ff"/><stop offset="0.259" stop-color="#00b0ff"/><stop offset="0.296" stop-color="#00a8ff"/><stop offset="0.333" stop-color="#00a0ff"/><stop offset="0.370" stop-color="#0094ff"/><stop offset="0.407" stop-color="#008cff"/><stop offset="0.444" stop-color="#008cff"/><stop offset="0.481" stop-color="#0094ff"/><stop offset="0.519" stop-color="#00a0ff"/><stop offset="0.556" stop-color="#00acff"/><stop offset="0.593" stop-color="#00b8ff"/><stop offset="0.630" stop-color="#00c8ff"/><stop offset="0.667" stop-color="#00e0fb"/><stop offset="0.704" stop-color="#13fce4"/><stop offset="0.741" stop-color="#26ffd1"/><stop offset="0.778" stop-color="#33ffc4"/><stop offset="0.815" stop-color="#3cffba"/><stop offset="0.852" stop-color="#46ffb1"/><stop offset="0.889" stop-color="#50ffa7"/><stop offset="0.926" stop-color="#5aff9d"/><stop offset="0.963" stop-color="#60ff97"/><stop offset="1.000" stop-color="#6dff8a"/></linearGradient><linearGradient id="s81" x1="0" y1="0" x2="0" y2="1"><stop offset="0.000" stop-color="#0064ff"/><stop offset="0.037" stop-color="#0074ff"/><stop offset="0.074" stop-color="#0080ff"/><stop offset="0.111" stop-color="#0090ff"/><stop offset="0.148" stop-color="#00a0ff"/><stop offset="0.185" stop-color="#00acff"/><stop offset="0.222" stop-color="#00b4ff"/><stop offset="0.259" stop-color="#00b4ff"/><stop offset="0.296" stop-color="#00b0ff"/><stop offset="0.333" stop-color="#00a4ff"/><stop offset="0.370" stop-color="#0098ff"/><stop offset="0.407" stop-color="#0090ff"/><stop offset="0.444" stop-color="#0090ff"/><stop offset="0.481" stop-color="#0098ff"/><stop offset="0.519" stop-color="#00a4ff"/><stop offset="0.556" stop-color="#00b0ff"/><stop offset="0.593" stop-color="#00bcff"/><stop offset="0.630" stop-color="#00ccff"/><stop offset="0.667" stop-color="#00e4f8"/><stop offset="0.704" stop-color="#13fce4"/><stop offset="0.741" stop-color="#26ffd1"/><stop offset="0.778" stop-color="#33ffc4"/><stop offset="0.815" stop-color="#3cffba"/><stop offset="0.852" stop-color="#46ffb1"/><stop offset="0.889" stop-color="#50ffa7"/><stop offset="0.926" stop-color="#5aff9d"/><stop offset="0.963" stop-color="#60ff97"/><stop offset="1.000" stop-color="#6dff8a"/></linearGradient><linearGradient id="s82" x1="0" y1="0" x2="0" y2="1"><stop offset="0.000" stop-color="#005cff"/><stop offset="0.037" stop-color="#0068ff"/><stop offset="0.074" stop-color="#0074ff"/><stop offset="0.111" stop-color="#0080ff"/><stop offset="0.148" stop-color="#008cff"/><stop offset="0.185" stop-color="#009cff"/><stop offset="0.222" stop-color="#00a8ff"/><stop offset="0.259" stop-color="#00acff"/><stop offset="0.296" stop-color="#00acff"/><stop offset="0.333" stop-color="#00a8ff"/><stop offset="0.370" stop-color="#009cff"/><stop offset="0.407" stop-color="#0094ff"/><stop offset="0.444" stop-color="#0094ff"/><stop offset="0.481" stop-color="#00a0ff"/><stop offset="0.519" stop-color="#00acff"/><stop offset="0.556" stop-color="#00b4ff"/><stop offset="0.593" stop-color="#00c0ff"/><stop offset="0.630" stop-color="#00d0ff"/><stop offset="0.667" stop-color="#02e8f4"/><stop offset="0.704" stop-color="#13fce4"/><stop offset="0.741" stop-color="#26ffd1"/><stop offset="0.778" stop-color="#33ffc4"/><stop offset="0.815" stop-color="#3cffba"/><stop offset="0.852" stop-color="#46ffb1"/><stop offset="0.889" stop-color="#50ffa7"/><stop offset="0.926" stop-color="#5aff9d"/><stop offset="0.963" stop-color="#60ff97"/><stop offset="1.000" stop-color="#6dff8a"/></linearGradient><linearGradient id="s83" x1="0" y1="0" x2="0" y2="1"><stop offset="0.000" stop-color="#0058ff"/><stop offset="0.037" stop-color="#0064ff"/><stop offset="0.074" stop-color="#006cff"/><stop offset="0.111" stop-color="#0074ff"/><stop offset="0.148" stop-color="#0080ff"/><stop offset="0.185" stop-color="#008cff"/><stop offset="0.222" stop-color="#0098ff"/><stop offset="0.259" stop-color="#00a0ff"/><stop offset="0.296" stop-color="#00a4ff"/><stop offset="0.333" stop-color="#00a4ff"/><stop offset="0.370" stop-color="#00a0ff"/><stop offset="0.407" stop-color="#0098ff"/><stop offset="0.444" stop-color="#009cff"/><stop offset="0.481" stop-color="#00a4ff"/><stop offset="0.519" stop-color="#00b0ff"/><stop offset="0.556" stop-color="#00bcff"/><stop offset="0.593" stop-color="#00c8ff"/><stop offset="0.630" stop-color="#00d4ff"/><stop offset="0.667" stop-color="#02e8f4"/><stop offset="0.704" stop-color="#16ffe1"/><stop offset="0.741" stop-color="#26ffd1"/><stop offset="0.778" stop-color="#33ffc4"/><stop offset="0.815" stop-color="#3cffba"/><stop offset="0.852" stop-color="#46ffb1"/><stop offset="0.889" stop-color="#50ffa7"/><stop offset="0.926" stop-color="#5aff9d"/><stop offset="0.963" stop-color="#60ff97"/><stop offset="1.000" stop-color="#6dff8a"/></linearGradient><linearGradient id="s84" x1="0" y1="0" x2="0" y2="1"><stop offset="0.000" stop-color="#0054ff"/><stop offset="0.037" stop-color="#0060ff"/><stop offset="0.074" stop-color="#0068ff"/><stop offset="0.111" stop-color="#0070ff"/><stop offset="0.148" stop-color="#0078ff"/><stop offset="0.185" stop-color="#0084ff"/><stop offset="0.222" stop-color="#008cff"/><stop offset="0.259" stop-color="#0098ff"/><stop offset="0.296" stop-color="#009cff"/><stop offset="0.333" stop-color="#00a0ff"/><stop offset="0.370" stop-color="#00a0ff"/><stop offset="0.407" stop-color="#009cff"/><stop offset="0.444" stop-color="#00a0ff"/><stop offset="0.481" stop-color="#00acff"/><stop offset="0.519" stop-color="#00b4ff"/><stop offset="0.556" stop-color="#00c0ff"/><stop offset="0.593" stop-color="#00ccff"/><stop offset="0.630" stop-color="#00dcfe"/><stop offset="0.667" stop-color="#06ecf1"/><stop offset="0.704" stop-color="#16ffe1"/><stop offset="0.741" stop-color="#26ffd1"/><stop offset="0.778" stop-color="#33ffc4"/><stop offset="0.815" stop-color="#3cffba"/><stop offset="0.852" stop-color="#46ffb1"/><stop offset="0.889" stop-color="#50ffa7"/><stop offset="0.926" stop-color="#5aff9d"/><stop offset="0.963" stop-color="#60ff97"/><stop offset="1.000" stop-color="#6dff8a"/></linearGradient><linearGradient id="s85" x1="0" y1="0" x2="0" y2="1"><stop offset="0.000" stop-color="#0038ff"/><stop offset="0.037" stop-color="#0048ff"/><stop offset="0.074" stop-color="#0058ff"/><stop offset="0.111" stop-color="#0068ff"/><stop offset="0.148" stop-color="#0074ff"/><stop offset="0.185" stop-color="#0080ff"/><stop offset="0.222" stop-color="#0088ff"/><stop offset="0.259" stop-color="#0090ff"/><stop offset="0.296" stop-color="#0098ff"/><stop offset="0.333" stop-color="#009cff"/><stop offset="0.370" stop-color="#009cff"/><stop offset="0.407" stop-color="#00a0ff"/><stop offset="0.444" stop-color="#00a4ff"/><stop offset="0.481" stop-color="#00b0ff"/><stop offset="0.519" stop-color="#00bcff"/><stop offset="0.556" stop-color="#00c4ff"/><stop offset="0.593" stop-color="#00d0ff"/><stop offset="0.630" stop-color="#00e0fb"/><stop offset="0.667" stop-color="#09f0ee"/><stop offset="0.704" stop-color="#16ffe1"/><stop offset="0.741" stop-color="#29ffce"/><stop offset="0.778" stop-color="#33ffc4"/><stop offset="0.815" stop-color="#3cffba"/><stop offset="0.852" stop-color="#46ffb1"/><stop offset="0.889" stop-color="#50ffa7"/><stop offset="0.926" stop-color="#5aff9d"/><stop offset="0.963" stop-color="#60ff97"/><stop offset="1.000" stop-color="#6dff8a"/></linearGradient><linearGradient id="s86" x1="0" y1="0" x2="0" y2="1"><stop offset="0.000" stop-color="#002cff"/><stop offset="0.037" stop-color="#0034ff"/><stop offset="0.074" stop-color="#003cff"/><stop offset="0.111" stop-color="#004cff"/><stop offset="0.148" stop-color="#0068ff"/><stop offset="0.185" stop-color="#0080ff"/><stop offset="0.222" stop-color="#0088ff"/><stop offset="0.259" stop-color="#0090ff"/><stop offset="0.296" stop-color="#0094ff"/><stop offset="0.333" stop-color="#009cff"/><stop offset="0.370" stop-color="#00a0ff"/><stop offset="0.407" stop-color="#00a4ff"/><stop offset="0.444" stop-color="#00a8ff"/><stop offset="0.481" stop-color="#00b4ff"/><stop offset="0.519" stop-color="#00c0ff"/><stop offset="0.556" stop-color="#00c8ff"/><stop offset="0.593" stop-color="#00d4ff"/><stop offset="0.630" stop-color="#00e4f8"/><stop offset="0.667" stop-color="#09f0ee"/><stop offset="0.704" stop-color="#19ffde"/><stop offset="0.741" stop-color="#29ffce"/><stop offset="0.778" stop-color="#33ffc4"/><stop offset="0.815" stop-color="#3cffba"/><stop offset="0.852" stop-color="#46ffb1"/><stop offset="0.889" stop-color="#50ffa7"/><stop offset="0.926" stop-color="#5aff9d"/><stop offset="0.963" stop-color="#60ff97"/><stop offset="1.000" stop-color="#6dff8a"/></linearGradient><linearGradient id="s87" x1="0" y1="0" x2="0" y2="1"><stop offset="0.000" stop-color="#004cff"/><stop offset="0.037" stop-color="#004cff"/><stop offset="0.074" stop-color="#004cff"/><stop offset="0.111" stop-color="#0050ff"/><stop offset="0.148" stop-color="#0064ff"/><stop offset="0.185" stop-color="#007cff"/><stop offset="0.222" stop-color="#0088ff"/><stop offset="0.259" stop-color="#0090ff"/><stop offset="0.296" stop-color="#0094ff"/><stop offset="0.333" stop-color="#009cff"/><stop offset="0.370" stop-color="#00a0ff"/><stop offset="0.407" stop-color="#00a4ff"/><stop offset="0.444" stop-color="#00acff"/><stop offset="0.481" stop-color="#00b8ff"/><stop offset="0.519" stop-color="#00c4ff"/><stop offset="0.556" stop-color="#00ccff"/><stop offset="0.593" stop-color="#00d8ff"/><stop offset="0.630" stop-color="#00e4f8"/><stop offset="0.667" stop-color="#0cf4eb"/><stop offset="0.704" stop-color="#19ffde"/><stop offset="0.741" stop-color="#29ffce"/><stop offset="0.778" stop-color="#33ffc4"/><stop offset="0.815" stop-color="#3cffba"/><stop offset="0.852" stop-color="#46ffb1"/><stop offset="0.889" stop-color="#50ffa7"/><stop offset="0.926" stop-color="#5aff9d"/><stop offset="0.963" stop-color="#60ff97"/><stop offset="1.000" stop-color="#6dff8a"/></linearGradient><linearGradient id="s88" x1="0" y1="0" x2="0" y2="1"><stop offset="0.000" stop-color="#0058ff"/><stop offset="0.037" stop-color="#0060ff"/><stop offset="0.074" stop-color="#0064ff"/><stop offset="0.111" stop-color="#0068ff"/><stop offset="0.148" stop-color="#0070ff"/><stop offset="0.185" stop-color="#0080ff"/><stop offset="0.222" stop-color="#0088ff"/><stop offset="0.259" stop-color="#0090ff"/><stop offset="0.296" stop-color="#0094ff"/><stop offset="0.333" stop-color="#009cff"/><stop offset="0.370" stop-color="#00a0ff"/><stop offset="0.407" stop-color="#00a8ff"/><stop offset="0.444" stop-color="#00b0ff"/><stop offset="0.481" stop-color="#00b8ff"/><stop offset="0.519" stop-color="#00c4ff"/><stop offset="0.556" stop-color="#00d0ff"/><stop offset="0.593" stop-color="#00dcfe"/><stop offset="0.630" stop-color="#02e8f4"/><stop offset="0.667" stop-color="#0cf4eb"/><stop offset="0.704" stop-color="#19ffde"/><stop offset="0.741" stop-color="#29ffce"/><stop offset="0.778" stop-color="#33ffc4"/><stop offset="0.815" stop-color="#3cffba"/><stop offset="0.852" stop-color="#46ffb1"/><stop offset="0.889" stop-color="#50ffa7"/><stop offset="0.926" stop-color="#5aff9d"/><stop offset="0.963" stop-color="#60ff97"/><stop offset="1.000" stop-color="#6dff8a"/></linearGradient><linearGradient id="s89" x1="0" y1="0" x2="0" y2="1"><stop offset="0.000" stop-color="#0058ff"/><stop offset="0.037" stop-color="#0060ff"/><stop offset="0.074" stop-color="#0068ff"/><stop offset="0.111" stop-color="#0070ff"/><stop offset="0.148" stop-color="#0078ff"/><stop offset="0.185" stop-color="#0080ff"/><stop offset="0.222" stop-color="#0088ff"/><stop offset="0.259" stop-color="#0090ff"/><stop offset="0.296" stop-color="#0094ff"/><stop offset="0.333" stop-color="#009cff"/><stop offset="0.370" stop-color="#00a0ff"/><stop offset="0.407" stop-color="#00a8ff"/><stop offset="0.444" stop-color="#00b0ff"/><stop offset="0.481" stop-color="#00bcff"/><stop offset="0.519" stop-color="#00c8ff"/><stop offset="0.556" stop-color="#00d0ff"/><stop offset="0.593" stop-color="#00dcfe"/><stop offset="0.630" stop-color="#02e8f4"/><stop offset="0.667" stop-color="#0ff8e7"/><stop offset="0.704" stop-color="#19ffde"/><stop offset="0.741" stop-color="#29ffce"/><stop offset="0.778" stop-color="#33ffc4"/><stop offset="0.815" stop-color="#3cffba"/><stop offset="0.852" stop-color="#46ffb1"/><stop offset="0.889" stop-color="#50ffa7"/><stop offset="0.926" stop-color="#5aff9d"/><stop offset="0.963" stop-color="#60ff97"/><stop offset="1.000" stop-color="#6dff8a"/></linearGradient><linearGradient id="cbg" x1="0" y1="0" x2="0" y2="1"><stop offset="0.0000" stop-color="#800000"/><stop offset="0.0250" stop-color="#9b0000"/><stop offset="0.0500" stop-color="#b60000"/><stop offset="0.0750" stop-color="#d60000"/><stop offset="0.1000" stop-color="#f10800"/><stop offset="0.1250" stop-color="#ff1e00"/><stop offset="0.1500" stop-color="#ff3800"/><stop offset="0.1750" stop-color="#ff4e00"/><stop offset="0.2000" stop-color="#ff6800"/><stop offset="0.2250" stop-color="#ff7e00"/><stop offset="0.2500" stop-color="#ff9400"/><stop offset="0.2750" stop-color="#ffae00"/><stop offset="0.3000" stop-color="#ffc400"/><stop offset="0.3250" stop-color="#ffde00"/><stop offset="0.3500" stop-color="#f8f500"/><stop offset="0.3750" stop-color="#e4ff13"/><stop offset="0.4000" stop-color="#ceff29"/><stop offset="0.4250" stop-color="#baff3c"/><stop offset="0.4500" stop-color="#a4ff53"/><stop offset="0.4750" stop-color="#90ff66"/><stop offset="0.5000" stop-color="#7dff7a"/><stop offset="0.5250" stop-color="#66ff90"/><stop offset="0.5500" stop-color="#53ffa4"/><stop offset="0.5750" stop-color="#3cffba"/><stop offset="0.6000" stop-color="#29ffce"/><stop offset="0.6250" stop-color="#16ffe1"/><stop offset="0.6500" stop-color="#00e4f8"/><stop offset="0.6750" stop-color="#00ccff"/><stop offset="0.7000" stop-color="#00b0ff"/><stop offset="0.7250" stop-color="#0098ff"/><stop offset="0.7500" stop-color="#0080ff"/><stop offset="0.7750" stop-color="#0064ff"/><stop offset="0.8000" stop-color="#004cff"/><stop offset="0.8250" stop-color="#0030ff"/><stop offset="0.8500" stop-color="#0018ff"/><stop offset="0.8750" stop-color="#0000ff"/><stop offset="0.9000" stop-color="#0000f1"/><stop offset="0.9250" stop-color="#0000d6"/><stop offset="0.9500" stop-color="#0000b6"/><stop offset="0.9750" stop-color="#00009b"/><stop offset="1.0000" stop-color="#000080"/></linearGradient></defs>
<rect width="2000" height="1100" fill="#fff"/>
<rect x="200" y="110" width="714" height="58" fill="#d3d3d3"/>
<rect x="200" y="168" width="360.5" height="287" fill="url(#hg0)"/>
<rect x="560" y="168" width="30.5" height="287" fill="url(#hg1)"/>
<rect x="590" y="168" width="30.5" height="287" fill="url(#hg2)"/>
<rect x="620" y="168" width="30.5" height="287" fill="url(#hg3)"/>
<rect x="650" y="168" width="30.5" height="287" fill="url(#hg4)"/>
<rect x="680" y="168" width="234" height="287" fill="url(#hg5)"/>
<g><rect x="227" y="168" width="3.6" height="108" fill="url(#s1)"/><rect x="230" y="168" width="3.6" height="108" fill="url(#s2)"/><rect x="233" y="168" width="3.6" height="108" fill="url(#s3)"/><rect x="236" y="168" width="3.6" height="108" fill="url(#s4)"/><rect x="239" y="168" width="3.6" height="108" fill="url(#s5)"/><rect x="242" y="168" width="3.6" height="108" fill="url(#s6)"/><rect x="245" y="168" width="3.6" height="108" fill="url(#s7)"/><rect x="248" y="168" width="3.6" height="108" fill="url(#s8)"/><rect x="251" y="168" width="3.6" height="108" fill="url(#s9)"/><rect x="338" y="168" width="3.6" height="108" fill="url(#s10)"/><rect x="341" y="168" width="3.6" height="108" fill="url(#s11)"/><rect x="344" y="168" width="3.6" height="108" fill="url(#s12)"/><rect x="347" y="168" width="3.6" height="108" fill="url(#s13)"/><rect x="350" y="168" width="3.6" height="108" fill="url(#s14)"/><rect x="353" y="168" width="3.6" height="108" fill="url(#s15)"/><rect x="356" y="168" width="3.6" height="108" fill="url(#s16)"/><rect x="359" y="168" width="3.6" height="108" fill="url(#s17)"/><rect x="362" y="168" width="3.6" height="108" fill="url(#s18)"/><rect x="461" y="168" width="3.6" height="108" fill="url(#s19)"/><rect x="464" y="168" width="3.6" height="108" fill="url(#s20)"/><rect x="467" y="168" width="3.6" height="108" fill="url(#s21)"/><rect x="470" y="168" width="3.6" height="108" fill="url(#s22)"/><rect x="473" y="168" width="3.6" height="108" fill="url(#s23)"/><rect x="476" y="168" width="3.6" height="108" fill="url(#s24)"/><rect x="479" y="168" width="3.6" height="108" fill="url(#s25)"/><rect x="482" y="168" width="3.6" height="108" fill="url(#s26)"/><rect x="485" y="168" width="3.6" height="108" fill="url(#s27)"/><rect x="512" y="168" width="3.6" height="108" fill="url(#s28)"/><rect x="515" y="168" width="3.6" height="108" fill="url(#s29)"/><rect x="518" y="168" width="3.6" height="108" fill="url(#s30)"/><rect x="521" y="168" width="3.6" height="108" fill="url(#s31)"/><rect x="524" y="168" width="3.6" height="108" fill="url(#s32)"/><rect x="527" y="168" width="3.6" height="108" fill="url(#s33)"/><rect x="530" y="168" width="3.6" height="108" fill="url(#s34)"/><rect x="533" y="168" width="3.6" height="108" fill="url(#s35)"/><rect x="536" y="168" width="3.6" height="108" fill="url(#s36)"/><rect x="539" y="168" width="3.6" height="108" fill="url(#s37)"/><rect x="542" y="168" width="3.6" height="108" fill="url(#s38)"/><rect x="545" y="168" width="3.6" height="108" fill="url(#s39)"/><rect x="548" y="168" width="3.6" height="108" fill="url(#s40)"/><rect x="551" y="168" width="3.6" height="108" fill="url(#s41)"/><rect x="554" y="168" width="3.6" height="108" fill="url(#s42)"/><rect x="557" y="168" width="3.6" height="108" fill="url(#s43)"/><rect x="560" y="168" width="3.6" height="108" fill="url(#s44)"/><rect x="563" y="168" width="3.6" height="108" fill="url(#s45)"/><rect x="566" y="168" width="3.6" height="108" fill="url(#s46)"/><rect x="569" y="168" width="3.6" height="108" fill="url(#s47)"/><rect x="572" y="168" width="3.6" height="108" fill="url(#s48)"/><rect x="575" y="168" width="3.6" height="108" fill="url(#s49)"/><rect x="578" y="168" width="3.6" height="108" fill="url(#s50)"/><rect x="581" y="168" width="3.6" height="108" fill="url(#s51)"/><rect x="584" y="168" width="3.6" height="108" fill="url(#s52)"/><rect x="587" y="168" width="3.6" height="108" fill="url(#s53)"/><rect x="590" y="168" width="3.6" height="108" fill="url(#s54)"/><rect x="593" y="168" width="3.6" height="108" fill="url(#s55)"/><rect x="596" y="168" width="3.6" height="108" fill="url(#s56)"/><rect x="599" y="168" width="3.6" height="108" fill="url(#s57)"/><rect x="602" y="168" width="3.6" height="108" fill="url(#s57)"/><rect x="605" y="168" width="3.6" height="108" fill="url(#s58)"/><rect x="608" y="168" width="3.6" height="108" fill="url(#s58)"/><rect x="611" y="168" width="3.6" height="108" fill="url(#s58)"/><rect x="614" y="168" width="3.6" height="108" fill="url(#s58)"/><rect x="617" y="168" width="3.6" height="108" fill="url(#s58)"/><rect x="620" y="168" width="3.6" height="108" fill="url(#s58)"/><rect x="623" y="168" width="3.6" height="108" fill="url(#s58)"/><rect x="626" y="168" width="3.6" height="108" fill="url(#s58)"/><rect x="629" y="168" width="3.6" height="108" fill="url(#s58)"/><rect x="632" y="168" width="3.6" height="108" fill="url(#s58)"/><rect x="635" y="168" width="3.6" height="108" fill="url(#s59)"/><rect x="638" y="168" width="3.6" height="108" fill="url(#s60)"/><rect x="641" y="168" width="3.6" height="108" fill="url(#s61)"/><rect x="644" y="168" width="3.6" height="108" fill="url(#s62)"/><rect x="647" y="168" width="3.6" height="108" fill="url(#s63)"/><rect x="650" y="168" width="3.6" height="108" fill="url(#s63)"/><rect x="653" y="168" width="3.6" height="108" fill="url(#s63)"/><rect x="656" y="168" width="3.6" height="108" fill="url(#s63)"/><rect x="659" y="168" width="3.6" height="108" fill="url(#s63)"/><rect x="662" y="168" width="3.6" height="108" fill="url(#s64)"/><rect x="665" y="168" width="3.6" height="108" fill="url(#s65)"/><rect x="668" y="168" width="3.6" height="108" fill="url(#s66)"/><rect x="671" y="168" width="3.6" height="108" fill="url(#s67)"/><rect x="674" y="168" width="3.6" height="108" fill="url(#s68)"/><rect x="677" y="168" width="3.6" height="108" fill="url(#s69)"/><rect x="680" y="168" width="3.6" height="108" fill="url(#s70)"/><rect x="683" y="168" width="3.6" height="108" fill="url(#s71)"/><rect x="686" y="168" width="3.6" height="108" fill="url(#s72)"/><rect x="689" y="168" width="3.6" height="108" fill="url(#s73)"/><rect x="692" y="168" width="3.6" height="108" fill="url(#s74)"/><rect x="695" y="168" width="3.6" height="108" fill="url(#s75)"/><rect x="698" y="168" width="3.6" height="108" fill="url(#s76)"/><rect x="701" y="168" width="3.6" height="108" fill="url(#s77)"/><rect x="704" y="168" width="3.6" height="108" fill="url(#s78)"/><rect x="707" y="168" width="3.6" height="108" fill="url(#s79)"/><rect x="710" y="168" width="3.6" height="108" fill="url(#s80)"/><rect x="713" y="168" width="3.6" height="108" fill="url(#s81)"/><rect x="716" y="168" width="3.6" height="108" fill="url(#s82)"/><rect x="719" y="168" width="3.6" height="108" fill="url(#s83)"/><rect x="722" y="168" width="3.6" height="108" fill="url(#s84)"/><rect x="725" y="168" width="3.6" height="108" fill="url(#s85)"/><rect x="728" y="168" width="3.6" height="108" fill="url(#s86)"/><rect x="731" y="168" width="3.6" height="108" fill="url(#s87)"/><rect x="734" y="168" width="3.6" height="108" fill="url(#s88)"/><rect x="737" y="168" width="3.6" height="108" fill="url(#s89)"/><rect x="740" y="168" width="3.6" height="108" fill="url(#s89)"/><rect x="743" y="168" width="3.6" height="108" fill="url(#s89)"/><rect x="746" y="168" width="3.6" height="108" fill="url(#s89)"/><rect x="749" y="168" width="3.6" height="108" fill="url(#s89)"/><rect x="752" y="168" width="3.6" height="108" fill="url(#s89)"/><rect x="755" y="168" width="3.6" height="108" fill="url(#s89)"/><rect x="758" y="168" width="3.6" height="108" fill="url(#s89)"/><rect x="761" y="168" width="3.6" height="108" fill="url(#s89)"/><rect x="764" y="168" width="3.6" height="108" fill="url(#s89)"/><rect x="767" y="168" width="3.6" height="108" fill="url(#s89)"/><rect x="770" y="168" width="3.6" height="108" fill="url(#s89)"/><rect x="773" y="168" width="3.6" height="108" fill="url(#s89)"/><rect x="776" y="168" width="3.6" height="108" fill="url(#s89)"/><rect x="779" y="168" width="3.6" height="108" fill="url(#s89)"/><rect x="782" y="168" width="3.6" height="108" fill="url(#s89)"/><rect x="785" y="168" width="3.6" height="108" fill="url(#s89)"/><rect x="788" y="168" width="3.6" height="108" fill="url(#s89)"/><rect x="791" y="168" width="3.6" height="108" fill="url(#s89)"/><rect x="794" y="168" width="3.6" height="108" fill="url(#s89)"/><rect x="797" y="168" width="3.6" height="108" fill="url(#s89)"/><rect x="800" y="168" width="3.6" height="108" fill="url(#s89)"/><rect x="803" y="168" width="3.6" height="108" fill="url(#s89)"/><rect x="806" y="168" width="3.6" height="108" fill="url(#s89)"/><rect x="809" y="168" width="3.6" height="108" fill="url(#s89)"/><rect x="812" y="168" width="3.6" height="108" fill="url(#s89)"/><rect x="815" y="168" width="3.6" height="108" fill="url(#s89)"/><rect x="818" y="168" width="3.6" height="108" fill="url(#s89)"/><rect x="821" y="168" width="3.6" height="108" fill="url(#s89)"/><rect x="824" y="168" width="3.6" height="108" fill="url(#s89)"/><rect x="827" y="168" width="3.6" height="108" fill="url(#s89)"/><rect x="830" y="168" width="3.6" height="108" fill="url(#s89)"/><rect x="833" y="168" width="3.6" height="108" fill="url(#s89)"/><rect x="836" y="168" width="3.6" height="108" fill="url(#s89)"/><rect x="839" y="168" width="3.6" height="108" fill="url(#s89)"/><rect x="842" y="168" width="3.6" height="108" fill="url(#s89)"/><rect x="845" y="168" width="3.6" height="108" fill="url(#s89)"/><rect x="848" y="168" width="3.6" height="108" fill="url(#s89)"/><rect x="851" y="168" width="3.6" height="108" fill="url(#s89)"/><rect x="854" y="168" width="3.6" height="108" fill="url(#s89)"/><rect x="857" y="168" width="3.6" height="108" fill="url(#s89)"/><rect x="860" y="168" width="3.6" height="108" fill="url(#s89)"/><rect x="863" y="168" width="3.6" height="108" fill="url(#s89)"/><rect x="866" y="168" width="3.6" height="108" fill="url(#s89)"/><rect x="869" y="168" width="3.6" height="108" fill="url(#s89)"/><rect x="872" y="168" width="3.6" height="108" fill="url(#s89)"/><rect x="875" y="168" width="3.6" height="108" fill="url(#s89)"/><rect x="878" y="168" width="3.6" height="108" fill="url(#s89)"/><rect x="881" y="168" width="3.6" height="108" fill="url(#s89)"/><rect x="884" y="168" width="3.6" height="108" fill="url(#s89)"/><rect x="887" y="168" width="3.6" height="108" fill="url(#s89)"/><rect x="890" y="168" width="3.6" height="108" fill="url(#s89)"/><rect x="893" y="168" width="3.6" height="108" fill="url(#s89)"/><rect x="896" y="168" width="3.6" height="108" fill="url(#s89)"/><rect x="899" y="168" width="3.6" height="108" fill="url(#s89)"/><rect x="902" y="168" width="3.6" height="108" fill="url(#s89)"/><rect x="905" y="168" width="3.6" height="108" fill="url(#s89)"/><rect x="908" y="168" width="3.6" height="108" fill="url(#s89)"/><rect x="911" y="168" width="3" height="108" fill="url(#s89)"/></g>
<path d="M604.4 110V165" stroke="#fff" stroke-width="2.4" fill="none"/>
<path d="M245 110v9.8" stroke="#000" stroke-width="4.1" fill="none"/>
<path d="M288 110v9.8" stroke="#f00" stroke-width="4.1" fill="none"/>
<text x="245" y="138.8" font-size="13.3" text-anchor="middle">M</text>
<text x="288" y="138.8" font-size="13.3" text-anchor="middle" fill="#f00">N</text>
<path d="M334.25 110v9.8" stroke="#000" stroke-width="4.1" fill="none"/>
<path d="M377.25 110v9.8" stroke="#f00" stroke-width="4.1" fill="none"/>
<text x="334.25" y="138.8" font-size="13.3" text-anchor="middle">M</text>
<text x="377.25" y="138.8" font-size="13.3" text-anchor="middle" fill="#f00">N</text>
<path d="M423.5 110v9.8" stroke="#000" stroke-width="4.1" fill="none"/>
<path d="M466.5 110v9.8" stroke="#f00" stroke-width="4.1" fill="none"/>
<text x="423.5" y="138.8" font-size="13.3" text-anchor="middle">M</text>
<text x="466.5" y="138.8" font-size="13.3" text-anchor="middle" fill="#f00">N</text>
<path d="M512.75 110v9.8" stroke="#000" stroke-width="4.1" fill="none"/>
<path d="M555.75 110v9.8" stroke="#f00" stroke-width="4.1" fill="none"/>
<text x="512.75" y="138.8" font-size="13.3" text-anchor="middle">M</text>
<text x="555.75" y="138.8" font-size="13.3" text-anchor="middle" fill="#f00">N</text>
<path d="M602 110v9.8" stroke="#000" stroke-width="4.1" fill="none"/>
<path d="M645 110v9.8" stroke="#f00" stroke-width="4.1" fill="none"/>
<text x="602" y="138.8" font-size="13.3" text-anchor="middle">M</text>
<text x="645" y="138.8" font-size="13.3" text-anchor="middle" fill="#f00">N</text>
<path d="M691.25 110v9.8" stroke="#000" stroke-width="4.1" fill="none"/>
<path d="M734.25 110v9.8" stroke="#f00" stroke-width="4.1" fill="none"/>
<text x="691.25" y="138.8" font-size="13.3" text-anchor="middle">M</text>
<text x="734.25" y="138.8" font-size="13.3" text-anchor="middle" fill="#f00">N</text>
<path d="M780.5 110v9.8" stroke="#000" stroke-width="4.1" fill="none"/>
<path d="M823.5 110v9.8" stroke="#f00" stroke-width="4.1" fill="none"/>
<text x="780.5" y="138.8" font-size="13.3" text-anchor="middle">M</text>
<text x="823.5" y="138.8" font-size="13.3" text-anchor="middle" fill="#f00">N</text>
<path d="M200 220.94L201.5 220.86L203 220.85L204.5 220.65L206 220.02L207.5 218.94L209 217.54L210.5 215.95L212 214.3L213.5 212.73L215 211.42L216.5 210.56L218 210.3L219.5 210.52L221 210.92L222.5 211.19L224 211.02L225.5 210.12L227 208.2L228.5 205.42L230 202.19L231.5 198.94L233 196L234.5 193.6L236 191.96L237.5 191.3L239 191.57L240.5 192.32L242 193.11L243.5 193.68L245 193.9L246.5 193.7L248 193.14L249.5 192.3L251 191.48L252.5 191.24L254 192.15L255.5 194.18L257 196.95L258.5 200.05L260 203.12L261.5 205.85L263 207.91L264.5 209.04L266 209.34L267.5 209.21L269 209.03L270.5 209.2L272 210.07L273.5 211.57L275 213.38L276.5 215.18L278 216.76L279.5 218.18L281 219.48L282.5 220.68L284 221.37L285.5 221.52L287 221.34L288.5 221.06L290 220.88L291.5 220.86L293 220.79L294.5 220.4L296 219.53L297.5 218.27L299 216.76L300.5 215.12L302 213.5L303.5 212.03L305 210.92L306.5 210.35L308 210.36L309.5 210.71L311 211.09L312.5 211.18L314 210.68L315.5 209.29L317 206.9L318.5 203.84L320 200.54L321.5 197.41L323 194.72L324.5 192.67L326 191.5L327.5 191.34L329 191.91L330.5 192.73L332 193.43L333.5 193.84L335 193.85L336.5 193.46L338 192.74L339.5 191.85L341 191.25L342.5 191.53L344 193.05L345.5 195.5L347 198.48L348.5 201.61L350 204.55L351.5 206.98L353 208.6L354.5 209.27L356 209.3L357.5 209.1L359 209.05L360.5 209.53L362 210.76L363.5 212.46L365 214.3L366.5 215.99L368 217.49L369.5 218.84L371 220.1L372.5 221.11L374 221.5L375.5 221.46L377 221.2L378.5 220.94L380 220.86L381.5 220.85L383 220.65L384.5 220.02L386 218.94L387.5 217.54L389 215.95L390.5 214.3L392 212.73L393.5 211.42L395 210.56L396.5 210.3L398 210.52L399.5 210.92L401 211.19L402.5 211.02L404 210.12L405.5 208.2L407 205.42L408.5 202.19L410 198.94L411.5 196L413 193.6L414.5 191.96L416 191.3L417.5 191.57L419 192.32L420.5 193.11L422 193.68L423.5 193.9L425 193.7L426.5 193.14L428 192.3L429.5 191.48L431 191.24L432.5 192.15L434 194.18L435.5 196.95L437 200.05L438.5 203.12L440 205.85L441.5 207.91L443 209.04L444.5 209.34L446 209.21L447.5 209.03L449 209.2L450.5 210.07L452 211.57L453.5 213.38L455 215.18L456.5 216.76L458 218.18L459.5 219.48L461 220.68L462.5 221.37L464 221.52L465.5 221.34L467 221.06L468.5 220.88L470 220.86L471.5 220.79L473 220.4L474.5 219.53L476 218.27L477.5 216.76L479 215.12L480.5 213.5L482 212.03L483.5 210.92L485 210.35L486.5 210.36L488 210.71L489.5 211.09L491 211.18L492.5 210.68L494 209.29L495.5 206.9L497 203.84L498.5 200.54L500 197.41L501.5 194.72L503 192.67L504.5 191.5L506 191.34L507.5 191.91L509 192.73L510.5 193.43L512 193.84L513.5 193.85L515 193.46L516.5 192.74L518 191.85L519.5 191.25L521 191.53L522.5 193.05L524 195.5L525.5 198.48L527 201.61L528.5 204.55L530 206.98L531.5 208.6L533 209.27L534.5 209.3L536 209.1L537.5 209.05L539 209.53L540.5 210.76L542 212.46L543.5 214.3L545 215.99L546.5 217.49L548 218.84L549.5 220.1L551 221.11L552.5 221.5L554 221.46L555.5 221.2L557 220.94L558.5 220.86L560 220.85L561.5 220.65L563 220.02L564.5 218.94L566 217.54L567.5 215.95L569 214.3L570.5 212.73L572 211.42L573.5 210.56L575 210.3L576.5 210.52L578 210.92L579.5 211.19L581 211.02L582.5 210.12L584 208.2L585.5 205.42L587 202.19L588.5 198.94L590 196L591.5 193.6L593 191.96L594.5 191.3L596 191.57L597.5 192.32L599 193.11L600.5 193.68L602 193.9L603.5 193.7L605 193.14L606.5 192.3L608 191.48L609.5 191.24L611 192.15L612.5 194.18L614 196.95L615.5 200.05L617 203.12L618.5 205.85L620 207.91L621.5 209.04L623 209.34L624.5 209.21L626 209.03L627.5 209.2L629 210.07L630.5 211.57L632 213.38L633.5 215.18L635 216.76L636.5 218.18L638 219.48L639.5 220.68L641 221.37L642.5 221.52L644 221.34L645.5 221.06L647 220.88L648.5 220.86L650 220.79L651.5 220.4L653 219.53L654.5 218.27L656 216.76L657.5 215.12L659 213.5L660.5 212.03L662 210.92L663.5 210.35L665 210.36L666.5 210.71L668 211.09L669.5 211.18L671 210.68L672.5 209.29L674 206.9L675.5 203.84L677 200.54L678.5 197.41L680 194.72L681.5 192.67L683 191.5L684.5 191.34L686 191.91L687.5 192.73L689 193.43L690.5 193.84L692 193.85L693.5 193.46L695 192.74L696.5 191.85L698 191.25L699.5 191.53L701 193.05L702.5 195.5L704 198.48L705.5 201.61L707 204.55L708.5 206.98L710 208.6L711.5 209.27L713 209.3L714.5 209.1L716 209.05L717.5 209.53L719 210.76L720.5 212.46L722 214.3L723.5 215.99L725 217.49L726.5 218.84L728 220.1L729.5 221.11L731 221.5L732.5 221.46L734 221.2L735.5 220.94L737 220.86L738.5 220.85L740 220.65L741.5 220.02L743 218.94L744.5 217.54L746 215.95L747.5 214.3L749 212.73L750.5 211.42L752 210.56L753.5 210.3L755 210.52L756.5 210.92L758 211.19L759.5 211.02L761 210.12L762.5 208.2L764 205.42L765.5 202.19L767 198.94L768.5 196L770 193.6L771.5 191.96L773 191.3L774.5 191.57L776 192.32L777.5 193.11L779 193.68L780.5 193.9L782 193.7L783.5 193.14L785 192.3L786.5 191.48L788 191.24L789.5 192.15L791 194.18L792.5 196.95L794 200.05L795.5 203.12L797 205.85L798.5 207.91L800 209.04L801.5 209.34L803 209.21L804.5 209.03L806 209.2L807.5 210.07L809 211.57L810.5 213.38L812 215.18L813.5 216.76L815 218.18L816.5 219.48L818 220.68L819.5 221.37L821 221.52L822.5 221.34L824 221.06L825.5 220.88L827 220.86L828.5 220.79L830 220.4L831.5 219.53L833 218.27L834.5 216.76L836 215.12L837.5 213.5L839 212.03L840.5 210.92L842 210.35L843.5 210.36L845 210.71L846.5 211.09L848 211.18L849.5 210.68L851 209.29L852.5 206.9L854 203.84L855.5 200.54L857 197.41L858.5 194.72L860 192.67L861.5 191.5L863 191.34L864.5 191.91L866 192.73L867.5 193.43L869 193.84L870.5 193.85L872 193.46L873.5 192.74L875 191.85L876.5 191.25L878 191.53L879.5 193.05L881 195.5L882.5 198.48L884 201.61L885.5 204.55L887 206.98L888.5 208.6L890 209.27L891.5 209.3L893 209.1L894.5 209.05L896 209.53L897.5 210.76L899 212.46L900.5 214.3L902 215.99L903.5 217.49L905 218.84L906.5 220.1L908 221.11L909.5 221.5L911 221.46L912.5 221.2L914 220.94" fill="none" stroke="#000" stroke-width="2.6" stroke-linejoin="round" clip-path="url(#c1)" stroke-dasharray="7.4 3.4"/>
<path d="M825.1 455V110" stroke="#1f77b4" stroke-width="2.08" stroke-dasharray="2.08 3.43" fill="none"/>
<text transform="translate(888.9,422.9) rotate(-90)" font-size="62.5" fill-opacity="0.27" fill="#808080">Forecast</text>
<path d="M200 455.5h5.1M200 397.5h5.1M200 340.5h5.1M200 282.5h5.1M200 225.5h5.1M200 167.5h5.1M200 110.5h5.1" stroke="#000" stroke-width="1" fill="none"/>
<path d="M914 455.5h-5.1M914 397.5h-5.1M914 340.5h-5.1M914 282.5h-5.1M914 225.5h-5.1M914 167.5h-5.1M914 110.5h-5.1" stroke="#000" stroke-width="1" fill="none"/>
<path d="M263.5 455v-5.1M352.5 455v-5.1M441.5 455v-5.1M531.5 455v-5.1M620.5 455v-5.1M709.5 455v-5.1M799.5 455v-5.1M888.5 455v-5.1" stroke="#000" stroke-width="1" fill="none"/>
<rect x="200" y="110" width="714" height="345" fill="none" stroke="#000" stroke-width="2"/>
<text x="196.3" y="462.6" font-size="19.44" text-anchor="end">2</text>
<text x="196.3" y="405.1" font-size="19.44" text-anchor="end">3</text>
<text x="196.3" y="347.6" font-size="19.44" text-anchor="end">4</text>
<text x="196.3" y="290.1" font-size="19.44" text-anchor="end">5</text>
<text x="196.3" y="232.6" font-size="19.44" text-anchor="end">6</text>
<text x="196.3" y="175.1" font-size="19.44" text-anchor="end">7</text>
<text x="196.3" y="117.6" font-size="19.44" text-anchor="end">8</text>
<text transform="translate(172.7,297.92) rotate(-90)" font-size="23.61">L*</text>
<text><tspan x="174.47" y="92.7" font-size="23.61" textLength="331.89" lengthAdjust="spacing">2.0 MeV Electron Flux at 88</tspan><tspan x="509.8" y="83.6" font-size="16.53">∘</tspan><tspan x="524.35" y="92.7" font-size="23.61" textLength="165.05" lengthAdjust="spacing"> pitch angle ( </tspan><tspan x="689.45" y="92.7" font-size="23.61" textLength="37.6" lengthAdjust="spacing">cm</tspan><tspan x="727.55" y="82.95" font-size="16.53">−2</tspan><tspan x="756.52" y="92.7" font-size="23.61">s</tspan><tspan x="769.25" y="82.95" font-size="16.53">−1</tspan><tspan x="798.22" y="92.7" font-size="23.61">sr</tspan><tspan x="820.95" y="82.95" font-size="16.53">−1</tspan><tspan x="850.38" y="92.7" font-size="23.61">KeV</tspan><tspan x="897.95" y="82.95" font-size="16.53">−1</tspan><tspan x="931.11" y="92.7" font-size="23.61">)</tspan></text>
<rect x="959" y="110" width="17" height="345" fill="url(#cbg)" stroke="#000" stroke-width="2"/>
<text x="987.3" y="462.9" font-size="19.44">10<tspan dy="-7.1" font-size="13.61">−3</tspan></text>
<text x="987.3" y="405.4" font-size="19.44">10<tspan dy="-7.1" font-size="13.61">−2</tspan></text>
<text x="987.3" y="347.9" font-size="19.44">10<tspan dy="-7.1" font-size="13.61">−1</tspan></text>
<text x="987.3" y="290.4" font-size="19.44">10<tspan dy="-7.1" font-size="13.61">0</tspan></text>
<text x="987.3" y="232.9" font-size="19.44">10<tspan dy="-7.1" font-size="13.61">1</tspan></text>
<text x="987.3" y="175.4" font-size="19.44">10<tspan dy="-7.1" font-size="13.61">2</tspan></text>
<text x="987.3" y="117.9" font-size="19.44">10<tspan dy="-7.1" font-size="13.61">3</tspan></text>
<path d="M976 455.5h5.4M976 437.5h5.4M976 427.5h5.4M976 420.5h5.4M976 414.5h5.4M976 410.5h5.4M976 406.5h5.4M976 403.5h5.4M976 400.5h5.4M976 397.5h5.4M976 380.5h5.4M976 370.5h5.4M976 362.5h5.4M976 357.5h5.4M976 352.5h5.4M976 348.5h5.4M976 345.5h5.4M976 342.5h5.4M976 340.5h5.4M976 322.5h5.4M976 312.5h5.4M976 305.5h5.4M976 299.5h5.4M976 295.5h5.4M976 291.5h5.4M976 288.5h5.4M976 285.5h5.4M976 282.5h5.4M976 265.5h5.4M976 255.5h5.4M976 247.5h5.4M976 242.5h5.4M976 237.5h5.4M976 233.5h5.4M976 230.5h5.4M976 227.5h5.4M976 225.5h5.4M976 207.5h5.4M976 197.5h5.4M976 190.5h5.4M976 184.5h5.4M976 180.5h5.4M976 176.5h5.4M976 173.5h5.4M976 170.5h5.4M976 167.5h5.4M976 150.5h5.4M976 140.5h5.4M976 132.5h5.4M976 127.5h5.4M976 122.5h5.4M976 118.5h5.4M976 115.5h5.4M976 112.5h5.4M976 110.5h5.4" stroke="#000" stroke-width="1" fill="none"/>
<rect x="825.1" y="478" width="88.9" height="344" fill="#d3d3d3"/>
<text transform="translate(888.9,790.1) rotate(-90)" font-size="62.5" fill-opacity="0.27" fill="#808080">Forecast</text>
<path d="M825.1 822V478" stroke="#1f77b4" stroke-width="2.08" stroke-dasharray="2.08 3.43" fill="none"/>
<g clip-path="url(#c2)">
<path d="M200.5 717.9L201.7 717.96L202.9 718.11L204.1 718.35L205.3 718.66L206.5 719.07L207.7 720.02L208.9 721.38L210.1 722.84L211.3 724.16L212.5 725.65L213.7 727.09L214.9 728.21L216.1 728.82L217.3 729.29L218.5 729.57L219.7 729.6L220.9 729.6L222.1 729.6L223.3 729.71L224.5 730.74L225.7 732.44L226.9 734.42L228.1 737.46L229.3 741.23L230.5 744.98L231.7 748.18L232.9 751.49L234.1 754.11L235.3 755.19L236.5 755.71L237.7 755.9L238.9 755.44L240.1 754.49L241.3 753.43L242.5 752.66L243.7 752.45L244.9 752.38L246.1 752.34L247.3 752.29L248.5 752.22L249.7 752.09L250.9 751.89L252.1 751.6L253.3 751.2L254.5 750.09L255.7 748.11L256.9 745.88L258.1 743.37L259.3 740.47L260.5 738.01L261.7 736.26L262.9 734.75L264.1 733.8L265.3 733.53L266.5 733.39L267.7 733.28L268.9 733.12L270.1 732.85L271.3 732.5L272.5 732.03L273.7 731.44L274.9 730.65L276.1 728.92L277.3 726.74L278.5 725.09L279.7 723.8L280.9 722.66L282.1 721.86L283.3 721.54L284.5 721.39L285.7 721.27L286.9 721.18L288.1 721.12L289.3 721.1L290.5 721.12L291.7 721.17L292.9 721.26L294.1 721.38L295.3 721.53L296.5 721.81L297.7 722.59L298.9 723.69L300.1 724.91L301.3 726.2L302.5 727.88L303.7 729.54L304.9 730.77L306.1 731.44L307.3 731.97L308.5 732.39L309.7 732.7L310.9 732.89L312.1 733.04L313.3 733.27L314.5 734.26L315.7 736.34L316.9 738.8L318.1 741.58L319.3 745.1L320.5 748.57L321.7 751.2L322.9 753.11L324.1 754.43L325.3 754.74L326.5 754.87L327.7 754.86L328.9 754.38L330.1 753.59L331.3 752.78L332.5 752.25L333.7 752.12L334.9 752.05L336.1 752L337.3 751.95L338.5 751.88L339.7 751.74L340.9 751.34L342.1 750.69L343.3 749.86L344.5 748.82L345.7 747.15L346.9 745.05L348.1 742.86L349.3 740.69L350.5 738.18L351.7 736.1L352.9 735.13L354.1 734.51L355.3 734.12L356.5 733.96L357.7 733.89L358.9 733.85L360.1 733.81L361.3 733.72L362.5 733.34L363.7 732.4L364.9 731.21L366.1 729.67L367.3 727.52L368.5 725.68L369.7 724.73L370.9 724L372.1 723.45L373.3 723.13L374.5 722.99L375.7 722.88L376.9 722.78L378.1 722.71L379.3 722.65L380.5 722.61L381.7 722.6L382.9 722.73L384.1 723.19L385.3 723.88L386.5 724.68L387.7 725.52L388.9 726.72L390.1 728.22L391.3 729.74L392.5 731.01L393.7 731.86L394.9 732.58L396.1 733.18L397.3 733.62L398.5 733.88L399.7 734.04L400.9 734.16L402.1 734.35L403.3 734.69L404.5 736.18L405.7 738.67L406.9 741.31L408.1 744.34L409.3 747.81L410.5 751.05L411.7 753.43L412.9 755.36L414.1 756.39L415.3 756.4L416.5 756.4L417.7 756.3L418.9 755.76L420.1 755.01L421.3 754.33L422.5 754L423.7 754.02L424.9 754.09L426.1 754.18L427.3 754.28L428.5 754.36L429.7 754.4L430.9 754.23L432.1 753.55L433.3 752.51L434.5 751.3L435.7 749.56L436.9 746.99L438.1 744.21L439.3 741.83L440.5 739.55L441.7 737.47L442.9 736.4L444.1 736.17L445.3 736.03L446.5 735.95L447.7 735.87L448.9 735.75L450.1 735.55L451.3 734.92L452.5 733.62L453.7 732.14L454.9 730.69L456.1 729L457.3 727.42L458.5 726.35L459.7 725.79L460.9 725.33L462.1 724.99L463.3 724.8L464.5 724.69L465.7 724.59L466.9 724.52L468.1 724.46L469.3 724.42L470.5 724.4L471.7 724.49L472.9 724.79L474.1 725.26L475.3 725.83L476.5 726.48L477.7 727.63L478.9 729.18L480.1 730.83L481.3 732.25L482.5 733.24L483.7 734.08L484.9 734.8L486.1 735.38L487.3 735.79L488.5 736.05L489.7 736.28L490.9 736.59L492.1 737.12L493.3 738.73L494.5 741.28L495.7 744.02L496.9 747.35L498.1 751.22L499.3 754.76L500.5 757.09L501.7 758.77L502.9 760.04L504.1 760.5L505.3 760.5L506.5 760.5L507.7 760.26L508.9 759.54L510.1 758.66L511.3 757.94L512.5 757.7L513.7 757.75L514.9 757.84L516.1 757.95L517.3 758.05L518.5 758.1L519.7 757.99L520.9 757.55L522.1 756.85L523.3 755.98L524.5 754.44L525.7 751.88L526.9 748.98L528.1 746.41L529.3 743.86L530.5 741.45L531.7 740.1L532.9 739.69L534.1 739.44L535.3 739.25L536.5 739.02L537.7 738.66L538.9 738.17L540.1 737.56L541.3 736.82L542.5 735.87L543.7 734.39L544.9 732.72L546.1 731.26L547.3 730.25L548.5 729.3L549.7 728.55L550.9 728.13L552.1 728.01L553.3 727.92L554.5 727.84L555.7 727.78L556.9 727.74L558.1 727.71L559.3 727.7L560.5 727.7L561.7 727.7L562.9 727.95L564.1 728.9L565.3 730.23L566.5 731.59L567.7 732.94L568.9 734.56L570.1 736.26L571.3 737.85L572.5 739.14L573.7 739.96L574.9 740.49L576.1 740.9L577.3 741.3L578.5 741.82L579.7 742.58L580.9 743.92L582.1 745.95L583.3 748.5L584.5 752.28L585.7 757.42L586.9 762.86L588.1 768.69L589.3 775L590.5 780.17L591.7 783.82L592.9 786.99L594.1 788.72L595.3 788.61L596.5 787.97L597.7 787.27L598.9 786.9L600.1 787.16L601.3 787.93L602.5 789.09L603.4 789.4L603.9 826" fill="none" stroke="#f00" stroke-width="2.08" stroke-linejoin="round"/>
<path d="M612.3 826L613.5 813.64L614.7 802.91L615.9 793.76L617.1 785.89L618.3 779.12L619.5 773.57L620.7 771.03L621.9 769.52L623.1 769.08L624.3 768.92L625.5 768.83L626.7 768.77L627.9 768.68L629.1 768.51L630.3 767.75L631.5 765.22L632.7 762.32L633.9 758.66L635.1 755.01L636.3 752.66L637.5 751L638.7 749.63L639.9 748.74L641.1 748.47L642.3 748.38L643.5 748.3L644.7 748.24L645.9 748.19L647.1 748.15L648.3 748.12L649.5 748.11L650.7 748.1L651.9 748.35L653.1 749.08L654.3 750.09L655.5 751.2L656.7 752.88L657.9 755.25L659.1 757.61L660.3 759.25L661.5 759.64L662.7 759.7L663.9 759.73L665.1 759.76L666.3 759.79L667.5 759.84L668.7 759.94L669.9 760.45L671.1 761.36L672.3 762.55L673.5 764.1L674.7 766.94L675.9 768.4L677.1 768.4L678.3 768.4L679.5 768.18L680.7 765.61L681.9 762.25L683.1 760.02L684.3 758.12L685.5 756.49L686.7 755.14L687.9 753.93L689.1 752.81L690.3 751.77L691.5 750.81L692.7 749.91L693.9 749.05L695.1 748.23L696.3 747.43L697.5 746.65L698.7 745.9L699.9 745.21L701.1 744.64L702.3 744.2L703.5 743.88L704.7 743.61L705.9 743.33L707.1 742.97L708.3 742.47L709.5 741.82L710.7 741.07L711.9 740.24L713.1 739.38L714.3 738.44L715.5 737.4L716.7 736.3L717.9 735.13L719.1 733.93L720.3 732.72L721.5 731.5L722.7 730.28L723.9 728.95L725.1 727.53L726.3 726.09L727.5 724.68L728.7 723.36L729.9 722.2L731.1 721.24L732.3 720.44L733.5 719.75L734.7 719.27L735.9 719.04L737.1 718.85L738.3 718.69L739.5 718.58L740.7 718.51L741.9 718.51L743.1 718.71L744.3 719.08L745.5 719.54L746.7 720.01L747.9 720.41L749.1 720.66L750.3 720.69L751.5 720.63L752.7 720.52L753.9 720.38L755.1 720.22L756.3 720.07L757.5 719.94L758.7 719.84L759.9 719.8L761.1 719.92L762.3 720.25L763.5 720.7L764.7 721.13L765.9 721.67L767.1 722.35L768.3 723.06L769.5 723.71L770.7 724.19L771.9 724.4L773.1 724.32L774.3 724.1L775.5 723.8L776.7 723.49L777.9 723.24L779.1 723.11L780.3 723.25L781.5 723.8L782.7 724.54L783.9 725.25L785.1 725.95L786.3 726.76L787.5 727.42L788.7 727.7L789.9 727.16L791.1 725.91L792.3 724.51L793.5 722.98L794.7 721.06L795.9 719.15L797.1 717.62L798.3 716.8L799.5 716.23L800.7 715.79L801.9 715.53L803.1 715.57L804.3 715.99L805.5 716.55L806.7 716.95L807.9 716.9L809.1 716.34L810.3 715.48L811.5 714.53L812.7 713.7L813.9 712.93L815.1 712.1L816.3 711.34L817.5 710.74L818.7 710.42L819.9 710.19L821.1 709.99L822.3 709.82L823.5 709.7L824.7 709.62L825.9 709.6L827.1 709.68L828.3 709.84L829.5 710.08L830.7 710.37L831.9 710.75L833.1 711.44L834.3 712.32L835.5 713.27L836.7 714.14L837.9 714.96L839.1 715.83L840.3 716.57L841.5 717.02L842.7 717.23L843.9 717.36L845.1 717.47L846.3 717.6L847.5 717.8L848.7 718.33L849.9 719.64L851.1 721.4L852.3 723.22L853.5 725.07L854.7 727.23L855.9 729.31L857.1 730.9L858.3 732.15L859.5 733.21L860.7 733.7L861.9 733.61L863.1 733.34L864.3 732.97L865.5 732.56L866.7 732.18L867.9 731.91L869.1 731.8L870.3 731.93L871.5 732.28L872.7 732.74L873.9 733.26L875.1 733.72L876.3 734.07L877.5 734.2L878.7 733.5L879.9 731.8L881.1 729.7L882.3 727.81L883.5 725.79L884.7 723.57L885.9 721.55L887.1 720.12L888.3 719.49L889.5 719.02L890.7 718.68L891.9 718.51L893.1 718.52L894.3 718.62L895.5 718.75L896.7 718.86L897.9 718.9L899.1 718.27L900.3 716.9L901.5 715.27L902.7 713.85L903.9 713.02L905.1 712.38L906.3 711.83L907.5 711.4L908.7 711.13L909.9 710.98L911.1 710.86L912.3 710.77L913.5 710.72" fill="none" stroke="#f00" stroke-width="2.08" stroke-linejoin="round"/>
</g>
<path d="M200 822.5h5.1M200 764.5h5.1M200 707.5h5.1M200 650.5h5.1M200 592.5h5.1M200 535.5h5.1M200 478.5h5.1" stroke="#000" stroke-width="1" fill="none"/>
<path d="M200 804.5h3.3M200 794.5h3.3M200 787.5h3.3M200 781.5h3.3M200 777.5h3.3M200 773.5h3.3M200 770.5h3.3M200 767.5h3.3M200 747.5h3.3M200 737.5h3.3M200 730.5h3.3M200 724.5h3.3M200 720.5h3.3M200 716.5h3.3M200 712.5h3.3M200 709.5h3.3M200 690.5h3.3M200 679.5h3.3M200 672.5h3.3M200 667.5h3.3M200 662.5h3.3M200 658.5h3.3M200 655.5h3.3M200 652.5h3.3M200 632.5h3.3M200 622.5h3.3M200 615.5h3.3M200 609.5h3.3M200 605.5h3.3M200 601.5h3.3M200 598.5h3.3M200 595.5h3.3M200 575.5h3.3M200 565.5h3.3M200 558.5h3.3M200 552.5h3.3M200 548.5h3.3M200 544.5h3.3M200 540.5h3.3M200 537.5h3.3M200 518.5h3.3M200 507.5h3.3M200 500.5h3.3M200 495.5h3.3M200 490.5h3.3M200 486.5h3.3M200 483.5h3.3M200 480.5h3.3" stroke="#000" stroke-width="1" fill="none"/>
<path d="M914 822.5h-5.1M914 764.5h-5.1M914 707.5h-5.1M914 650.5h-5.1M914 592.5h-5.1M914 535.5h-5.1M914 478.5h-5.1" stroke="#000" stroke-width="1" fill="none"/>
<path d="M914 804.5h-3.3M914 794.5h-3.3M914 787.5h-3.3M914 781.5h-3.3M914 777.5h-3.3M914 773.5h-3.3M914 770.5h-3.3M914 767.5h-3.3M914 747.5h-3.3M914 737.5h-3.3M914 730.5h-3.3M914 724.5h-3.3M914 720.5h-3.3M914 716.5h-3.3M914 712.5h-3.3M914 709.5h-3.3M914 690.5h-3.3M914 679.5h-3.3M914 672.5h-3.3M914 667.5h-3.3M914 662.5h-3.3M914 658.5h-3.3M914 655.5h-3.3M914 652.5h-3.3M914 632.5h-3.3M914 622.5h-3.3M914 615.5h-3.3M914 609.5h-3.3M914 605.5h-3.3M914 601.5h-3.3M914 598.5h-3.3M914 595.5h-3.3M914 575.5h-3.3M914 565.5h-3.3M914 558.5h-3.3M914 552.5h-3.3M914 548.5h-3.3M914 544.5h-3.3M914 540.5h-3.3M914 537.5h-3.3M914 518.5h-3.3M914 507.5h-3.3M914 500.5h-3.3M914 495.5h-3.3M914 490.5h-3.3M914 486.5h-3.3M914 483.5h-3.3M914 480.5h-3.3" stroke="#000" stroke-width="1" fill="none"/>
<path d="M263.5 822v-5.1M352.5 822v-5.1M441.5 822v-5.1M531.5 822v-5.1M620.5 822v-5.1M709.5 822v-5.1M799.5 822v-5.1M888.5 822v-5.1" stroke="#000" stroke-width="1" fill="none"/>
<rect x="200" y="478" width="714" height="344" fill="none" stroke="#000" stroke-width="2"/>
<text x="149.89" y="829.9" font-size="19.44">10<tspan dy="-7.1" font-size="13.61">−3</tspan></text>
<text x="149.89" y="772.57" font-size="19.44">10<tspan dy="-7.1" font-size="13.61">−2</tspan></text>
<text x="149.89" y="715.23" font-size="19.44">10<tspan dy="-7.1" font-size="13.61">−1</tspan></text>
<text x="161.3" y="657.9" font-size="19.44">10<tspan dy="-7.1" font-size="13.61">0</tspan></text>
<text x="161.3" y="600.57" font-size="19.44">10<tspan dy="-7.1" font-size="13.61">1</tspan></text>
<text x="161.3" y="543.23" font-size="19.44">10<tspan dy="-7.1" font-size="13.61">2</tspan></text>
<text x="161.3" y="485.9" font-size="19.44">10<tspan dy="-7.1" font-size="13.61">3</tspan></text>
<text x="235.27" y="511.6" font-size="23.61" textLength="243.08" lengthAdjust="spacing">Geostationary orbit:</text>
<text x="498.68" y="511.6" font-size="23.61" textLength="73.93" lengthAdjust="spacing" fill="#f00">Model</text>
<text x="-1.73" y="0" font-size="23.61" textLength="262.4" lengthAdjust="spacing" transform="translate(100.8,779.9) rotate(-90)">2.0 MeV Electron Flux</text>
<text transform="translate(134.7,780.4) rotate(-90)"><tspan x="-2.03" y="0" font-size="23.61">(</tspan><tspan x="14.45" y="0" font-size="23.61" textLength="37.6" lengthAdjust="spacing">cm</tspan><tspan x="52.55" y="-9.6" font-size="16.53">−2</tspan><tspan x="81.52" y="0" font-size="23.61">s</tspan><tspan x="94.25" y="-9.6" font-size="16.53">−1</tspan><tspan x="123.22" y="0" font-size="23.61">sr</tspan><tspan x="145.95" y="-9.6" font-size="16.53">−1</tspan><tspan x="175.38" y="0" font-size="23.61">KeV</tspan><tspan x="222.95" y="-9.6" font-size="16.53">−1</tspan><tspan x="256.11" y="0" font-size="23.61">)</tspan></text>
<g clip-path="url(#c3)">
<rect x="202.06" y="991.67" width="8.93" height="25.33" fill="#008000"/>
<rect x="213.21" y="991.67" width="8.93" height="25.33" fill="#008000"/>
<rect x="224.37" y="998" width="8.93" height="19" fill="#008000"/>
<rect x="246.68" y="1010.67" width="8.93" height="6.33" fill="#008000"/>
<rect x="257.84" y="998" width="8.93" height="19" fill="#008000"/>
<rect x="268.99" y="1004.33" width="8.93" height="12.67" fill="#008000"/>
<rect x="280.15" y="998" width="8.93" height="19" fill="#008000"/>
<rect x="291.31" y="1004.33" width="8.93" height="12.67" fill="#008000"/>
<rect x="302.46" y="979" width="8.93" height="38" fill="#008000"/>
<rect x="313.62" y="998" width="8.93" height="19" fill="#008000"/>
<rect x="324.78" y="1010.67" width="8.93" height="6.33" fill="#008000"/>
<rect x="335.93" y="1010.67" width="8.93" height="6.33" fill="#008000"/>
<rect x="347.09" y="1004.33" width="8.93" height="12.67" fill="#008000"/>
<rect x="358.24" y="1004.33" width="8.93" height="12.67" fill="#008000"/>
<rect x="369.4" y="998" width="8.93" height="19" fill="#008000"/>
<rect x="380.56" y="1004.33" width="8.93" height="12.67" fill="#008000"/>
<rect x="391.71" y="1010.67" width="8.93" height="6.33" fill="#008000"/>
<rect x="402.87" y="1010.67" width="8.93" height="6.33" fill="#008000"/>
<rect x="414.03" y="1004.33" width="8.93" height="12.67" fill="#008000"/>
<rect x="425.18" y="1010.67" width="8.93" height="6.33" fill="#008000"/>
<rect x="436.34" y="1004.33" width="8.93" height="12.67" fill="#008000"/>
<rect x="447.49" y="1004.33" width="8.93" height="12.67" fill="#008000"/>
<rect x="458.65" y="1004.33" width="8.93" height="12.67" fill="#008000"/>
<rect x="469.81" y="998" width="8.93" height="19" fill="#008000"/>
<rect x="480.96" y="972.67" width="8.93" height="44.33" fill="#008000"/>
<rect x="492.12" y="1010.67" width="8.93" height="6.33" fill="#008000"/>
<rect x="503.28" y="1010.67" width="8.93" height="6.33" fill="#008000"/>
<rect x="514.43" y="1010.67" width="8.93" height="6.33" fill="#008000"/>
<rect x="525.59" y="991.67" width="8.93" height="25.33" fill="#008000"/>
<rect x="536.74" y="1004.33" width="8.93" height="12.67" fill="#008000"/>
<rect x="547.9" y="1010.67" width="8.93" height="6.33" fill="#008000"/>
<rect x="559.06" y="998" width="8.93" height="19" fill="#008000"/>
<rect x="570.21" y="972.67" width="8.93" height="44.33" fill="#008000"/>
<rect x="581.37" y="960" width="8.93" height="57" fill="#bfbf00"/>
<rect x="592.52" y="972.67" width="8.93" height="44.33" fill="#008000"/>
<rect x="603.68" y="985.33" width="8.93" height="31.67" fill="#008000"/>
<rect x="614.84" y="979" width="8.93" height="38" fill="#008000"/>
<rect x="625.99" y="998" width="8.93" height="19" fill="#008000"/>
<rect x="637.15" y="991.67" width="8.93" height="25.33" fill="#008000"/>
<rect x="648.31" y="985.33" width="8.93" height="31.67" fill="#008000"/>
<rect x="659.46" y="991.67" width="8.93" height="25.33" fill="#008000"/>
<rect x="670.62" y="1004.33" width="8.93" height="12.67" fill="#008000"/>
<rect x="681.77" y="1004.33" width="8.93" height="12.67" fill="#008000"/>
<rect x="692.93" y="998" width="8.93" height="19" fill="#008000"/>
<rect x="704.09" y="998" width="8.93" height="19" fill="#008000"/>
<rect x="715.24" y="985.33" width="8.93" height="31.67" fill="#008000"/>
<rect x="726.4" y="972.67" width="8.93" height="44.33" fill="#008000"/>
<rect x="737.56" y="1010.67" width="8.93" height="6.33" fill="#008000"/>
<rect x="771.02" y="998" width="8.93" height="19" fill="#008000"/>
<rect x="782.18" y="991.67" width="8.93" height="25.33" fill="#008000"/>
<rect x="793.34" y="991.67" width="8.93" height="25.33" fill="#008000"/>
<rect x="804.49" y="991.67" width="8.93" height="25.33" fill="#008000"/>
<rect x="815.65" y="1004.33" width="8.93" height="12.67" fill="#008000"/>
<rect x="826.81" y="1004.33" width="8.93" height="12.67" fill="#008000"/>
<rect x="837.96" y="1004.33" width="8.93" height="12.67" fill="#008000"/>
<rect x="849.12" y="1004.33" width="8.93" height="12.67" fill="#008000"/>
<rect x="860.27" y="1004.33" width="8.93" height="12.67" fill="#008000"/>
<rect x="871.43" y="1004.33" width="8.93" height="12.67" fill="#008000"/>
<rect x="882.59" y="1004.33" width="8.93" height="12.67" fill="#008000"/>
<rect x="893.74" y="1004.33" width="8.93" height="12.67" fill="#008000"/>
<rect x="904.9" y="1004.33" width="8.93" height="12.67" fill="#008000"/>
<rect x="916.06" y="1004.33" width="8.93" height="12.67" fill="#008000"/>
</g>
<path d="M825.1 1017V845" stroke="#1f77b4" stroke-width="2.08" stroke-dasharray="2.08 3.43" fill="none"/>
<text transform="translate(875.8,1002.3) rotate(-90)" font-size="31.39" fill-opacity="0.25" fill="#808080">Forecast</text>
<path d="M200 1017.5h5.1M200 979.5h5.1M200 941.5h5.1M200 903.5h5.1M200 865.5h5.1" stroke="#000" stroke-width="1" fill="none"/>
<path d="M914 1017.5h-5.1M914 979.5h-5.1M914 941.5h-5.1M914 903.5h-5.1M914 865.5h-5.1" stroke="#000" stroke-width="1" fill="none"/>
<path d="M263.5 1017v-5.1M352.5 1017v-5.1M441.5 1017v-5.1M531.5 1017v-5.1M620.5 1017v-5.1M709.5 1017v-5.1M799.5 1017v-5.1M888.5 1017v-5.1" stroke="#000" stroke-width="1" fill="none"/>
<rect x="200" y="845" width="714" height="172" fill="none" stroke="#000" stroke-width="2"/>
<text x="196" y="1024.6" font-size="19.44" text-anchor="end">0</text>
<text x="196" y="986.6" font-size="19.44" text-anchor="end">2</text>
<text x="196" y="948.6" font-size="19.44" text-anchor="end">4</text>
<text x="196" y="910.6" font-size="19.44" text-anchor="end">6</text>
<text x="196" y="872.6" font-size="19.44" text-anchor="end">8</text>
<text transform="translate(172.6,950.62) rotate(-90)" font-size="23.61">Kp</text>
<text x="262.15" y="1037.7" font-size="19.44" text-anchor="middle">27</text>
<text x="351.42" y="1037.7" font-size="19.44" text-anchor="middle">28</text>
<text x="440.69" y="1037.7" font-size="19.44" text-anchor="middle">29</text>
<text x="529.96" y="1037.7" font-size="19.44" text-anchor="middle">30</text>
<text x="619.23" y="1037.7" font-size="19.44" text-anchor="middle">01</text>
<text x="708.5" y="1037.7" font-size="19.44" text-anchor="middle">02</text>
<text x="797.77" y="1037.7" font-size="19.44" text-anchor="middle">03</text>
<text x="887.04" y="1037.7" font-size="19.44" text-anchor="middle">04</text>
<text x="503.92" y="1064.4" font-size="23.61" textLength="100.18" lengthAdjust="spacing">June/July</text>
<text x="496.57" y="1092.6" font-size="23.61" textLength="121.16" lengthAdjust="spacing">2019 (UT)</text>
<rect x="207.5" y="852.1" width="87.8" height="67" rx="3" ry="3" fill="#fff" fill-opacity="0.8" stroke="#ccc" stroke-width="1.2"/>
<rect x="212.9" y="859" width="28.2" height="10.9" fill="#008000"/>
<text x="251.54" y="868.9" font-size="13.89">K<tspan x="260.32">p&lt;3</tspan></text>
<rect x="212.9" y="879.95" width="28.2" height="10.9" fill="#bfbf00"/>
<text x="251.54" y="889.85" font-size="13.89">K<tspan x="260.42">p&lt;5</tspan></text>
<rect x="212.9" y="900.9" width="28.2" height="10.9" fill="#f00"/>
<text x="251.54" y="910.8" font-size="13.89">K<tspan x="260.42">p&gt;5</tspan></text>
<path d="M1205 282.5H1800" stroke="#000" stroke-width="2.08" stroke-dasharray="2.08 3.43" fill="none"/>
<g clip-path="url(#c4)">
<path d="M1205.7 269.7L1206.7 267.8L1207.7 264.1L1208.7 263.0L1209.7 269.6L1210.7 267.2L1211.7 269.5L1212.7 263.3L1213.7 254.9L1214.7 252.6L1215.7 261.0L1216.7 272.4L1217.7 267.4L1218.7 274.5L1219.7 274.8L1220.7 274.2L1221.7 272.4L1222.7 274.6L1223.7 275.0L1224.7 276.2L1225.7 275.3L1226.7 273.6L1227.7 273.6L1228.7 273.8L1229.7 272.0L1230.7 263.8L1231.7 270.2L1232.7 266.7L1233.7 265.5L1234.7 259.3L1235.7 269.4L1236.7 269.1L1237.7 260.0L1238.7 267.2L1239.7 264.0L1240.7 264.4L1241.7 268.2L1242.7 271.6L1243.7 267.0L1244.7 271.2L1245.7 281.1L1246.7 283.5L1247.7 281.2L1248.7 283.7L1249.7 284.1L1250.7 281.4L1251.7 278.4L1252.7 284.5L1253.7 278.3L1254.7 284.0L1255.7 281.2L1256.7 274.0L1257.7 263.5L1258.7 266.8L1259.7 281.6L1260.7 276.6L1261.7 271.6L1262.7 272.2L1263.7 265.3L1264.7 269.3L1265.7 274.0L1266.7 277.2L1267.7 283.8L1268.7 285.4L1269.7 284.4L1270.7 286.6L1271.7 280.1L1272.7 285.5L1273.7 285.6L1274.7 280.6L1275.7 277.8L1276.7 284.4L1277.7 285.4L1278.7 281.8L1279.7 283.2L1280.7 281.6L1281.7 278.6L1282.7 274.4L1283.7 269.3L1284.7 265.0L1285.7 267.6L1286.7 279.4L1287.7 281.0L1288.7 288.4L1289.7 288.2L1290.7 282.7L1291.7 284.5L1292.7 291.2L1293.7 289.7L1294.7 290.1L1295.7 288.5L1296.7 288.3L1297.7 280.3L1298.7 277.4L1299.7 275.7L1300.7 271.6L1301.7 265.0L1302.7 252.3L1303.7 254.3L1304.7 266.4L1305.7 267.2L1306.7 263.1L1307.7 263.4L1308.7 257.9L1309.7 251.2L1310.7 256.5L1311.7 264.6L1312.7 259.0L1313.7 262.9L1314.7 256.0L1315.7 257.2L1316.7 261.4L1317.7 259.8L1318.7 257.1L1319.7 263.0L1320.7 266.5L1321.7 264.5L1322.7 265.1L1323.7 261.7L1324.7 262.2L1325.7 265.4L1326.7 266.4L1327.7 261.6L1328.7 261.4L1329.7 265.7L1330.7 269.5L1331.7 268.8L1332.7 260.1L1333.7 257.0L1334.7 258.4L1335.7 266.5L1336.7 273.0L1337.7 271.1L1338.7 275.5L1339.7 280.3L1340.7 279.4L1341.7 279.1L1342.7 285.6L1343.7 290.2L1344.7 292.7L1345.7 291.9L1346.7 294.1L1347.7 292.9L1348.7 294.0L1349.7 291.0L1350.7 287.9L1351.7 283.4L1352.7 290.9L1353.7 290.1L1354.7 284.3L1355.7 267.6L1356.7 267.6L1357.7 274.5L1358.7 279.9L1359.7 276.1L1360.7 277.5L1361.7 275.3L1362.7 280.0L1363.7 278.6L1364.7 276.4L1365.7 271.7L1366.7 277.2L1367.7 276.3L1368.7 275.7L1369.7 266.7L1370.7 275.2L1371.7 270.3L1372.7 260.9L1373.7 258.7L1374.7 265.9L1375.7 261.8L1376.7 261.4L1377.7 263.0L1378.7 262.7L1379.7 262.1L1380.7 261.2L1381.7 261.2L1382.7 265.7L1383.7 269.3L1384.7 274.4L1385.7 276.6L1386.7 276.1L1387.7 279.8L1388.7 280.3L1389.7 282.4L1390.7 280.7L1391.7 280.4L1392.7 284.4L1393.7 278.0L1394.7 287.6L1395.7 284.4L1396.7 282.0L1397.7 280.7L1398.7 280.9L1399.7 274.2L1400.7 283.2L1401.7 283.6L1402.7 274.7L1403.7 271.1L1404.7 273.9L1405.7 272.8L1406.7 277.3L1407.7 270.3L1408.7 272.6L1409.7 265.2L1410.7 261.0L1411.7 262.2L1412.7 268.5L1413.7 268.4L1414.7 267.2L1415.7 267.2L1416.7 269.2L1417.7 269.8L1418.7 268.5L1419.7 266.6L1420.7 266.9L1421.7 261.0L1422.7 264.1L1423.7 269.2L1424.7 266.0L1425.7 261.5L1426.7 270.1L1427.7 259.3L1428.7 257.6L1429.7 272.9L1430.7 273.8L1431.7 280.3L1432.7 276.0L1433.7 272.5L1434.7 264.8L1435.7 275.6L1436.7 289.5L1437.7 281.8L1438.7 292.4L1439.7 281.8L1440.7 316.3L1441.7 312.2L1442.7 307.0L1443.7 301.8L1444.7 296.7L1445.7 291.5L1446.7 286.3L1447.7 281.1L1448.7 275.9L1449.7 270.7L1450.7 265.5L1451.7 260.4L1452.7 255.2L1453.7 253.9L1454.7 271.3L1455.7 264.2L1456.7 269.9L1457.7 270.7L1458.7 269.0L1459.7 270.3L1460.7 270.2L1461.7 268.7L1462.7 269.5L1463.7 263.5L1464.7 260.9L1465.7 266.5L1466.7 255.8L1467.7 252.8L1468.7 263.7L1469.7 260.1L1470.7 254.4L1471.7 252.8L1472.7 258.6L1473.7 262.1L1474.7 261.1L1475.7 265.6L1476.7 265.6L1477.7 264.1L1478.7 265.8L1479.7 267.3L1480.7 270.4L1481.7 269.7L1482.7 271.5L1483.7 276.7L1484.7 268.7L1485.7 264.2L1486.7 265.7L1487.7 274.9L1488.7 276.2L1489.7 270.5L1490.7 275.3L1491.7 279.1L1492.7 269.5L1493.7 269.5L1494.7 276.3L1495.7 275.3L1496.7 283.8L1497.7 283.7L1498.7 273.6L1499.7 277.2L1500.7 283.8L1501.7 283.2L1502.7 284.3L1503.7 284.2L1504.7 286.0L1505.7 281.7L1506.7 287.6L1507.7 283.5L1508.7 275.1L1509.7 277.2L1510.7 289.0L1511.7 289.2L1512.7 291.0L1513.7 295.0L1514.7 285.7L1515.7 294.0L1516.7 299.7L1517.7 297.2L1518.7 295.7L1519.7 265.6L1520.7 269.1L1521.7 294.6L1522.7 307.0L1523.7 313.7L1524.7 313.9L1525.7 314.8L1526.7 330.0L1527.7 334.2L1528.7 333.5L1529.7 332.9L1530.7 332.3L1531.7 331.6L1532.7 331.0L1533.7 330.4L1534.7 329.7L1535.7 329.1L1536.7 328.5L1537.7 327.8L1538.7 327.2L1539.7 326.6L1540.7 325.9L1541.7 325.3L1542.7 324.7L1543.7 324.0L1544.7 323.4L1545.7 322.7L1546.7 322.1L1547.7 320.2L1548.7 313.2L1549.7 306.2L1550.7 299.2L1551.7 292.2L1552.7 290.2L1553.7 290.6L1554.7 291.3L1555.7 292.1L1556.7 292.8L1557.7 293.5L1558.7 294.2L1559.7 295.0L1560.7 295.7L1561.7 296.4L1562.7 297.1L1563.7 297.9L1564.7 298.6L1565.7 299.3L1566.7 260.0L1567.7 265.3L1568.7 266.9L1569.7 249.4L1570.7 249.4L1571.7 278.4L1572.7 283.9L1573.7 273.7L1574.7 273.5L1575.7 280.7L1576.7 278.7L1577.7 282.8L1578.7 283.4L1579.7 287.1L1580.7 280.6L1581.7 289.2L1582.7 284.8L1583.7 282.5L1584.7 272.1L1585.7 285.2L1586.7 280.4L1587.7 283.9L1588.7 286.7L1589.7 284.3L1590.7 283.2L1591.7 288.4L1592.7 282.3L1593.7 287.1L1594.7 284.3L1595.7 288.8L1596.7 286.2L1597.7 287.0L1598.7 285.0L1599.7 281.9L1600.7 287.5L1601.7 285.5L1602.7 282.0L1603.7 288.4L1604.7 281.7L1605.7 282.7L1606.7 289.4L1607.7 279.4L1608.7 284.8L1609.7 280.8L1610.7 286.8L1611.7 290.5L1612.7 284.4L1613.7 290.5L1614.7 279.3L1615.7 290.0L1616.7 292.6L1617.7 290.5L1618.7 286.4L1619.7 293.3L1620.7 296.1L1621.7 291.5L1622.7 289.4L1623.7 293.5L1624.7 295.8L1625.7 300.6L1626.7 300.5L1627.7 302.6L1628.7 298.1L1629.7 299.8L1630.7 298.4L1631.7 301.8L1632.7 298.6L1633.7 292.7L1634.7 297.6L1635.7 290.4L1636.7 290.3L1637.7 289.2L1638.7 291.5L1639.7 289.8L1640.7 282.2L1641.7 283.7L1642.7 258.6L1643.7 247.9L1644.7 262.0L1645.7 279.8L1646.7 277.8L1647.7 276.1L1648.7 276.8L1649.7 264.9L1650.7 272.0L1651.7 263.6L1652.7 269.4L1653.7 264.4L1654.7 266.2L1655.7 258.6L1656.7 254.1L1657.7 258.0L1658.7 256.8L1659.7 254.5L1660.7 248.3L1661.7 248.5L1662.7 243.7L1663.7 243.0L1664.7 241.9L1665.7 251.8L1666.7 251.2L1667.7 253.1L1668.7 254.4L1669.7 255.2L1670.7 249.4L1671.7 257.9L1672.7 264.1L1673.7 264.9L1674.7 265.1L1675.7 268.7L1676.7 273.0L1677.7 280.2L1678.7 278.9L1679.7 287.2L1680.7 290.6L1681.7 286.2L1682.7 295.2L1683.7 299.2L1684.7 300.4L1685.7 297.8L1686.7 299.4L1687.7 301.5L1688.7 295.9L1689.7 295.6L1690.7 297.7L1691.7 295.3L1692.7 293.9L1693.7 292.6L1694.7 283.7L1695.7 278.5L1696.7 253.5L1697.7 256.9L1698.7 276.3L1699.7 279.5L1700.7 277.5L1701.7 279.1L1702.7 274.6L1703.7 267.0L1704.7 248.4L1705.7 245.4L1706.7 269.2L1707.7 279.1L1708.7 283.5L1709.7 278.5L1710.7 265.5L1711.7 270.3L1712.7 281.0L1713.7 282.2L1714.7 273.9L1715.7 287.4L1716.7 283.5L1717.7 284.1L1718.7 276.1L1719.7 267.1L1720.7 271.3L1721.7 286.5L1722.7 284.5L1723.7 276.2L1724.7 278.1L1725.7 278.6L1725.7 292.2L1724.7 307.1L1723.7 313.0L1722.7 302.8L1721.7 298.8L1720.7 297.9L1719.7 295.6L1718.7 299.9L1717.7 294.0L1716.7 295.2L1715.7 297.2L1714.7 311.3L1713.7 322.1L1712.7 308.0L1711.7 288.9L1710.7 293.4L1709.7 292.7L1708.7 304.4L1707.7 298.1L1706.7 287.1L1705.7 295.7L1704.7 281.7L1703.7 281.6L1702.7 289.9L1701.7 297.3L1700.7 298.8L1699.7 289.1L1698.7 289.7L1697.7 291.0L1696.7 296.4L1695.7 305.1L1694.7 308.7L1693.7 305.6L1692.7 310.3L1691.7 317.7L1690.7 310.0L1689.7 310.1L1688.7 312.0L1687.7 326.0L1686.7 319.3L1685.7 313.2L1684.7 315.4L1683.7 310.1L1682.7 314.8L1681.7 322.0L1680.7 322.5L1679.7 306.5L1678.7 294.8L1677.7 292.1L1676.7 292.9L1675.7 284.0L1674.7 280.8L1673.7 279.5L1672.7 276.8L1671.7 278.1L1670.7 267.0L1669.7 268.0L1668.7 268.8L1667.7 261.3L1666.7 259.4L1665.7 267.4L1664.7 265.3L1663.7 259.0L1662.7 261.6L1661.7 260.4L1660.7 265.9L1659.7 263.5L1658.7 272.7L1657.7 270.3L1656.7 272.3L1655.7 273.6L1654.7 279.2L1653.7 277.2L1652.7 277.4L1651.7 277.8L1650.7 281.6L1649.7 303.3L1648.7 319.7L1647.7 308.2L1646.7 291.9L1645.7 289.8L1644.7 298.8L1643.7 293.8L1642.7 295.2L1641.7 297.7L1640.7 306.5L1639.7 297.6L1638.7 298.5L1637.7 299.8L1636.7 311.7L1635.7 314.7L1634.7 312.1L1633.7 310.6L1632.7 308.7L1631.7 311.1L1630.7 314.4L1629.7 310.5L1628.7 312.1L1627.7 311.8L1626.7 313.2L1625.7 313.6L1624.7 312.0L1623.7 309.7L1622.7 316.8L1621.7 310.8L1620.7 317.6L1619.7 306.3L1618.7 305.8L1617.7 312.0L1616.7 312.4L1615.7 306.8L1614.7 316.4L1613.7 307.0L1612.7 306.5L1611.7 313.2L1610.7 307.6L1609.7 306.3L1608.7 302.5L1607.7 309.5L1606.7 306.4L1605.7 306.5L1604.7 310.0L1603.7 302.9L1602.7 304.0L1601.7 304.5L1600.7 313.1L1599.7 317.8L1598.7 303.9L1597.7 318.9L1596.7 312.6L1595.7 313.9L1594.7 311.0L1593.7 315.7L1592.7 304.9L1591.7 304.3L1590.7 318.8L1589.7 306.3L1588.7 308.1L1587.7 318.6L1586.7 302.7L1585.7 308.4L1584.7 300.1L1583.7 311.1L1582.7 304.0L1581.7 314.8L1580.7 302.8L1579.7 308.7L1578.7 300.7L1577.7 304.6L1576.7 294.7L1575.7 302.0L1574.7 322.8L1573.7 326.3L1572.7 304.8L1571.7 290.6L1570.7 301.3L1569.7 298.0L1568.7 302.8L1567.7 295.8L1566.7 300.9L1565.7 300.9L1564.7 300.1L1563.7 299.4L1562.7 298.7L1561.7 297.9L1560.7 297.2L1559.7 296.5L1558.7 295.8L1557.7 295.0L1556.7 294.3L1555.7 293.6L1554.7 292.9L1553.7 292.1L1552.7 293.0L1551.7 300.0L1550.7 307.0L1549.7 314.0L1548.7 321.0L1547.7 322.9L1546.7 323.5L1545.7 324.2L1544.7 324.8L1543.7 325.5L1542.7 326.1L1541.7 326.7L1540.7 327.4L1539.7 328.0L1538.7 328.6L1537.7 329.3L1536.7 329.9L1535.7 330.5L1534.7 331.2L1533.7 331.8L1532.7 332.4L1531.7 333.1L1530.7 333.7L1529.7 334.3L1528.7 335.0L1527.7 335.6L1526.7 335.9L1525.7 331.6L1524.7 321.6L1523.7 319.5L1522.7 330.6L1521.7 325.1L1520.7 317.0L1519.7 315.2L1518.7 321.1L1517.7 319.3L1516.7 324.9L1515.7 332.8L1514.7 323.2L1513.7 312.2L1512.7 303.8L1511.7 302.9L1510.7 305.5L1509.7 303.6L1508.7 299.4L1507.7 301.1L1506.7 296.2L1505.7 293.6L1504.7 297.1L1503.7 294.3L1502.7 299.4L1501.7 292.4L1500.7 289.7L1499.7 291.2L1498.7 295.5L1497.7 296.9L1496.7 290.1L1495.7 288.4L1494.7 290.1L1493.7 289.7L1492.7 288.5L1491.7 300.2L1490.7 299.8L1489.7 289.8L1488.7 283.2L1487.7 285.9L1486.7 286.6L1485.7 293.7L1484.7 282.5L1483.7 292.7L1482.7 286.1L1481.7 279.7L1480.7 279.4L1479.7 297.5L1478.7 301.7L1477.7 288.8L1476.7 276.9L1475.7 273.1L1474.7 277.7L1473.7 280.6L1472.7 276.0L1471.7 275.5L1470.7 272.7L1469.7 274.8L1468.7 277.6L1467.7 271.7L1466.7 271.8L1465.7 278.2L1464.7 275.1L1463.7 279.4L1462.7 276.2L1461.7 283.0L1460.7 283.9L1459.7 276.8L1458.7 279.2L1457.7 278.3L1456.7 283.8L1455.7 291.9L1454.7 291.1L1453.7 272.1L1452.7 261.2L1451.7 266.3L1450.7 271.5L1449.7 276.7L1448.7 281.9L1447.7 287.1L1446.7 292.3L1445.7 297.5L1444.7 302.6L1443.7 307.8L1442.7 313.0L1441.7 318.2L1440.7 318.3L1439.7 317.9L1438.7 316.7L1437.7 309.4L1436.7 305.7L1435.7 301.2L1434.7 295.2L1433.7 295.7L1432.7 292.2L1431.7 291.5L1430.7 292.7L1429.7 283.7L1428.7 287.3L1427.7 282.1L1426.7 279.1L1425.7 290.1L1424.7 286.3L1423.7 283.7L1422.7 279.8L1421.7 283.8L1420.7 276.6L1419.7 277.4L1418.7 280.0L1417.7 283.7L1416.7 287.1L1415.7 280.5L1414.7 276.2L1413.7 279.2L1412.7 285.8L1411.7 279.7L1410.7 281.4L1409.7 288.5L1408.7 284.4L1407.7 290.0L1406.7 285.4L1405.7 285.0L1404.7 289.0L1403.7 290.7L1402.7 298.4L1401.7 299.1L1400.7 296.3L1399.7 293.5L1398.7 294.4L1397.7 298.1L1396.7 297.9L1395.7 295.8L1394.7 300.4L1393.7 301.2L1392.7 299.5L1391.7 297.7L1390.7 295.7L1389.7 299.0L1388.7 288.7L1387.7 291.8L1386.7 306.5L1385.7 311.6L1384.7 296.5L1383.7 281.8L1382.7 279.7L1381.7 278.1L1380.7 279.4L1379.7 277.4L1378.7 276.5L1377.7 276.4L1376.7 276.4L1375.7 273.7L1374.7 278.4L1373.7 275.4L1372.7 279.3L1371.7 287.1L1370.7 281.0L1369.7 283.5L1368.7 283.1L1367.7 286.4L1366.7 291.0L1365.7 295.1L1364.7 294.2L1363.7 290.6L1362.7 287.8L1361.7 288.7L1360.7 290.3L1359.7 290.1L1358.7 292.4L1357.7 301.0L1356.7 295.8L1355.7 294.1L1354.7 300.3L1353.7 304.7L1352.7 297.3L1351.7 300.5L1350.7 299.1L1349.7 307.2L1348.7 309.2L1347.7 307.6L1346.7 308.8L1345.7 304.7L1344.7 305.2L1343.7 305.2L1342.7 300.8L1341.7 298.3L1340.7 300.1L1339.7 291.3L1338.7 295.3L1337.7 285.2L1336.7 284.7L1335.7 285.7L1334.7 285.3L1333.7 286.7L1332.7 279.3L1331.7 280.1L1330.7 275.3L1329.7 282.0L1328.7 277.3L1327.7 283.7L1326.7 282.0L1325.7 292.0L1324.7 279.5L1323.7 277.8L1322.7 281.9L1321.7 277.3L1320.7 278.9L1319.7 278.8L1318.7 281.8L1317.7 280.1L1316.7 281.2L1315.7 272.3L1314.7 273.7L1313.7 272.4L1312.7 289.0L1311.7 292.1L1310.7 271.6L1309.7 271.6L1308.7 269.3L1307.7 273.6L1306.7 276.2L1305.7 281.1L1304.7 279.5L1303.7 283.2L1302.7 289.0L1301.7 289.0L1300.7 290.2L1299.7 291.7L1298.7 304.0L1297.7 319.1L1296.7 317.2L1295.7 304.8L1294.7 304.4L1293.7 305.6L1292.7 309.7L1291.7 315.5L1290.7 311.8L1289.7 302.1L1288.7 295.5L1287.7 292.9L1286.7 293.3L1285.7 292.0L1284.7 290.5L1283.7 299.5L1282.7 290.5L1281.7 294.8L1280.7 300.8L1279.7 295.1L1278.7 298.6L1277.7 291.5L1276.7 294.4L1275.7 299.5L1274.7 306.2L1273.7 308.8L1272.7 305.5L1271.7 299.8L1270.7 295.2L1269.7 293.6L1268.7 293.7L1267.7 291.2L1266.7 290.9L1265.7 288.4L1264.7 289.8L1263.7 288.9L1262.7 288.4L1261.7 296.0L1260.7 292.7L1259.7 290.6L1258.7 289.2L1257.7 291.4L1256.7 293.9L1255.7 300.2L1254.7 301.1L1253.7 303.7L1252.7 303.7L1251.7 304.2L1250.7 304.2L1249.7 299.6L1248.7 294.0L1247.7 293.3L1246.7 288.4L1245.7 288.3L1244.7 285.9L1243.7 285.5L1242.7 282.2L1241.7 290.0L1240.7 281.1L1239.7 278.0L1238.7 278.8L1237.7 278.0L1236.7 280.6L1235.7 277.3L1234.7 275.4L1233.7 276.8L1232.7 278.0L1231.7 278.8L1230.7 279.5L1229.7 280.0L1228.7 284.8L1227.7 285.6L1226.7 286.1L1225.7 292.4L1224.7 286.2L1223.7 283.9L1222.7 292.8L1221.7 308.2L1220.7 312.7L1219.7 301.2L1218.7 292.0L1217.7 281.8L1216.7 282.8L1215.7 280.6L1214.7 286.5L1213.7 286.3L1212.7 283.4L1211.7 280.5L1210.7 277.3L1209.7 282.0L1208.7 276.2L1207.7 283.1L1206.7 278.8L1205.7 278.3Z" fill="#000" stroke="#000" stroke-width="1.5" stroke-linejoin="round"/>
</g>
<path d="M1726 455V110" stroke="#1f77b4" stroke-width="2.08" stroke-dasharray="2.08 3.43" fill="none"/>
<g clip-path="url(#c4)">
<path d="M1205.7 314.1L1206.2 321.1L1206.7 312.7L1207.2 319.8L1207.7 313.3L1208.2 319.3L1208.7 313.5L1209.2 318.4L1209.7 311.5L1210.2 316.6L1210.7 306.3L1211.2 313.7L1211.7 305.9L1212.2 311.5L1212.7 306.6L1213.2 314.8L1213.7 307.2L1214.2 315.2L1214.7 310.6L1215.2 316.0L1215.7 312.4L1216.2 317.6L1216.7 309.9L1217.2 319.0L1217.7 313.1L1218.2 323.3L1218.7 313.1L1219.2 321.4L1219.7 317.2L1220.2 322.7L1220.7 315.5L1221.2 322.2L1221.7 317.5L1222.2 322.0L1222.7 313.5L1223.2 323.6L1223.7 315.8L1224.2 322.8L1224.7 316.0L1225.2 323.9L1225.7 314.9L1226.2 322.6L1226.7 315.9L1227.2 323.0L1227.7 314.1L1228.2 323.1L1228.7 312.2L1229.2 322.3L1229.7 312.3L1230.2 320.8L1230.7 317.0L1231.2 321.6L1231.7 316.4L1232.2 323.7L1232.7 312.6L1233.2 324.1L1233.7 314.4L1234.2 323.0L1234.7 312.7L1235.2 323.3L1235.7 314.5L1236.2 324.0L1236.7 314.6L1237.2 321.2L1237.7 316.7L1238.2 322.2L1238.7 316.6L1239.2 322.6L1239.7 317.0L1240.2 322.1L1240.7 317.7L1241.2 324.4L1241.7 317.6L1242.2 325.0L1242.7 319.0L1243.2 326.7L1243.7 319.5L1244.2 327.8L1244.7 321.3L1245.2 327.8L1245.7 322.6L1246.2 328.7L1246.7 324.6L1247.2 331.5L1247.7 324.2L1248.2 333.6L1248.7 324.3L1249.2 330.0L1249.7 323.6L1250.2 331.2L1250.7 323.0L1251.2 331.5L1251.7 322.1L1252.2 329.4L1252.7 323.9L1253.2 328.7L1253.7 320.4L1254.2 331.4L1254.7 321.1L1255.2 327.8L1255.7 318.9L1256.2 328.5L1256.7 322.5L1257.2 328.3L1257.7 321.1L1258.2 329.4L1258.7 321.0L1259.2 329.2L1259.7 319.3L1260.2 329.2L1260.7 322.8L1261.2 328.6L1261.7 322.7L1262.2 332.1L1262.7 322.6L1263.2 331.7L1263.7 323.5L1264.2 334.2L1264.7 325.3L1265.2 335.1L1265.7 326.4L1266.2 334.7L1266.7 329.5L1267.2 334.6L1267.7 330.8L1268.2 336.6L1268.7 330.5L1269.2 336.0L1269.7 326.1L1270.2 336.8L1270.7 328.4L1271.2 335.3L1271.7 331.0L1272.2 336.4L1272.7 331.0L1273.2 336.4L1273.7 330.4L1274.2 337.9L1274.7 327.6L1275.2 337.4L1275.7 329.2L1276.2 336.9L1276.7 330.1L1277.2 338.3L1277.7 328.8L1278.2 337.0L1278.7 327.9L1279.2 337.1L1279.7 329.8L1280.2 338.7L1280.7 329.9L1281.2 336.7L1281.7 330.8L1282.2 335.7L1282.7 328.9L1283.2 337.4L1283.7 330.7L1284.2 337.8L1284.7 330.3L1285.2 337.8L1285.7 329.1L1286.2 339.2L1286.7 329.1L1287.2 337.8L1287.7 330.9L1288.2 337.4L1288.7 329.4L1289.2 339.2L1289.7 329.9L1290.2 337.1L1290.7 328.5L1291.2 337.5L1291.7 332.2L1292.2 336.8L1292.7 331.6L1293.2 337.1L1293.7 332.1L1294.2 337.2L1294.7 332.9L1295.2 337.6L1295.7 332.0L1296.2 339.3L1296.7 330.4L1297.2 341.0L1297.7 330.5L1298.2 341.8L1298.7 331.7L1299.2 341.0L1299.7 329.8L1300.2 340.0L1300.7 331.0L1301.2 339.5L1301.7 333.0L1302.2 340.6L1302.7 333.8L1303.2 339.5L1303.7 335.4L1304.2 339.6L1304.7 335.6L1305.2 339.6L1305.7 332.8L1306.2 340.3L1306.7 335.3L1307.2 344.6L1307.7 333.8L1308.2 342.7L1308.7 335.2L1309.2 343.6L1309.7 334.3L1310.2 342.7L1310.7 336.1L1311.2 342.5L1311.7 335.7L1312.2 343.5L1312.7 334.3L1313.2 342.3L1313.7 336.7L1314.2 342.0L1314.7 333.9L1315.2 343.7L1315.7 333.0L1316.2 342.5L1316.7 334.6L1317.2 343.4L1317.7 334.3L1318.2 339.2L1318.7 334.4L1319.2 339.5L1319.7 332.9L1320.2 338.7L1320.7 331.9L1321.2 338.5L1321.7 331.2L1322.2 340.0L1322.7 330.3L1323.2 341.2L1323.7 331.8L1324.2 338.4L1324.7 332.5L1325.2 340.4L1325.7 332.2L1326.2 337.0L1326.7 332.4L1327.2 336.4L1327.7 332.9L1328.2 337.5L1328.7 330.2L1329.2 337.5L1329.7 329.1L1330.2 338.6L1330.7 331.1L1331.2 340.1L1331.7 329.9L1332.2 339.0L1332.7 331.7L1333.2 336.9L1333.7 331.7L1334.2 338.3L1334.7 330.7L1335.2 338.6L1335.7 331.5L1336.2 339.1L1336.7 331.0L1337.2 336.3L1337.7 331.1L1338.2 339.1L1338.7 329.2L1339.2 338.3L1339.7 330.3L1340.2 339.5L1340.7 330.2L1341.2 337.2L1341.7 331.3L1342.2 336.4L1342.7 330.2L1343.2 335.4L1343.7 330.6L1344.2 335.2L1344.7 329.7L1345.2 335.0L1345.7 330.1L1346.2 334.1L1346.7 328.1L1347.2 338.6L1347.7 327.2L1348.2 334.0L1348.7 327.4L1349.2 335.6L1349.7 331.8L1350.2 339.1L1350.7 331.6L1351.2 340.3L1351.7 331.2L1352.2 339.6L1352.7 333.4L1353.2 341.7L1353.7 332.2L1354.2 341.8L1354.7 332.5L1355.2 340.8L1355.7 335.1L1356.2 342.9L1356.7 335.1L1357.2 339.9L1357.7 335.4L1358.2 340.0L1358.7 335.4L1359.2 342.1L1359.7 333.0L1360.2 340.9L1360.7 334.0L1361.2 340.5L1361.7 334.7L1362.2 339.0L1362.7 334.9L1363.2 338.9L1363.7 334.4L1364.2 338.8L1364.7 332.4L1365.2 339.7L1365.7 331.9L1366.2 339.5L1366.7 332.0L1367.2 339.8L1367.7 332.8L1368.2 340.0L1368.7 333.5L1369.2 342.1L1369.7 333.7L1370.2 343.2L1370.7 334.1L1371.2 342.9L1371.7 335.5L1372.2 341.9L1372.7 336.7L1373.2 342.8L1373.7 337.6L1374.2 343.8L1374.7 337.1L1375.2 348.0L1375.7 337.6L1376.2 345.7L1376.7 337.8L1377.2 346.5L1377.7 337.4L1378.2 345.5L1378.7 335.3L1379.2 342.5L1379.7 335.6L1380.2 343.1L1380.7 333.7L1381.2 343.0L1381.7 332.2L1382.2 339.9L1382.7 331.6L1383.2 337.4L1383.7 330.0L1384.2 336.8L1384.7 326.1L1385.2 336.2L1385.7 329.2L1386.2 335.9L1386.7 332.0L1387.2 336.4L1387.7 331.1L1388.2 337.2L1388.7 333.5L1389.2 337.6L1389.7 333.7L1390.2 340.0L1390.7 331.4L1391.2 340.9L1391.7 331.3L1392.2 341.1L1392.7 332.8L1393.2 341.7L1393.7 333.6L1394.2 343.2L1394.7 331.8L1395.2 341.8L1395.7 333.9L1396.2 341.9L1396.7 332.0L1397.2 341.2L1397.7 334.9L1398.2 340.4L1398.7 331.9L1399.2 341.5L1399.7 335.9L1400.2 344.4L1400.7 336.7L1401.2 345.6L1401.7 336.3L1402.2 345.3L1402.7 338.3L1403.2 346.2L1403.7 338.3L1404.2 345.5L1404.7 335.6L1405.2 345.1L1405.7 334.7L1406.2 342.3L1406.7 336.3L1407.2 341.3L1407.7 336.8L1408.2 339.7L1408.7 334.1L1409.2 342.6L1409.7 335.8L1410.2 342.5L1410.7 337.8L1411.2 346.7L1411.7 340.5L1412.2 349.6L1412.7 341.8L1413.2 349.6L1413.7 343.5L1414.2 349.3L1414.7 340.3L1415.2 348.8L1415.7 339.8L1416.2 347.1L1416.7 340.0L1417.2 347.0L1417.7 341.0L1418.2 345.6L1418.7 340.1L1419.2 346.0L1419.7 337.7L1420.2 344.6L1420.7 338.5L1421.2 345.2L1421.7 339.1L1422.2 344.3L1422.7 339.3L1423.2 345.6L1423.7 339.6L1424.2 345.9L1424.7 340.7L1425.2 347.7L1425.7 340.1L1426.2 346.3L1426.7 339.6L1427.2 349.0L1427.7 340.8L1428.2 346.2L1428.7 339.3L1429.2 348.9L1429.7 340.5L1430.2 348.1L1430.7 339.9L1431.2 348.5L1431.7 341.3L1432.2 346.5L1432.7 341.4L1433.2 346.1L1433.7 338.1L1434.2 344.8L1434.7 340.7L1435.2 346.2L1435.7 339.3L1436.2 346.6L1436.7 338.4L1437.2 345.1L1437.7 338.4L1438.2 348.1L1438.7 338.7L1439.2 343.7L1439.7 338.0L1440.2 341.9L1440.7 340.2L1441.2 340.9L1441.7 341.6L1442.2 342.2L1442.7 342.8L1443.2 343.4L1443.7 344.0L1444.2 344.6L1444.7 345.2L1445.2 345.9L1445.7 346.5L1446.2 347.1L1446.7 347.7L1447.2 348.3L1447.7 348.9L1448.2 349.5L1448.7 350.1L1449.2 350.8L1449.7 349.6L1450.2 349.3L1450.7 344.5L1451.2 347.2L1451.7 340.6L1452.2 345.2L1452.7 335.0L1453.2 344.8L1453.7 337.6L1454.2 346.4L1454.7 338.2L1455.2 349.1L1455.7 339.8L1456.2 347.6L1456.7 341.9L1457.2 347.5L1457.7 340.4L1458.2 347.9L1458.7 341.8L1459.2 346.9L1459.7 341.2L1460.2 348.2L1460.7 340.9L1461.2 347.7L1461.7 340.4L1462.2 351.2L1462.7 339.8L1463.2 349.7L1463.7 341.4L1464.2 348.8L1464.7 341.7L1465.2 349.0L1465.7 341.6L1466.2 347.8L1466.7 342.4L1467.2 347.9L1467.7 339.7L1468.2 347.9L1468.7 342.3L1469.2 346.4L1469.7 342.6L1470.2 347.7L1470.7 341.3L1471.2 349.4L1471.7 341.1L1472.2 348.6L1472.7 342.5L1473.2 346.8L1473.7 342.5L1474.2 346.6L1474.7 338.6L1475.2 347.5L1475.7 341.0L1476.2 349.6L1476.7 342.0L1477.2 348.3L1477.7 339.6L1478.2 348.9L1478.7 339.9L1479.2 348.6L1479.7 340.6L1480.2 347.8L1480.7 340.8L1481.2 346.6L1481.7 342.3L1482.2 346.7L1482.7 342.9L1483.2 348.4L1483.7 343.0L1484.2 350.3L1484.7 342.2L1485.2 350.3L1485.7 343.5L1486.2 348.4L1486.7 343.1L1487.2 347.7L1487.7 341.3L1488.2 349.0L1488.7 339.1L1489.2 347.7L1489.7 339.4L1490.2 348.7L1490.7 339.0L1491.2 346.1L1491.7 340.6L1492.2 346.1L1492.7 339.6L1493.2 343.8L1493.7 337.6L1494.2 343.9L1494.7 336.0L1495.2 345.7L1495.7 336.4L1496.2 345.7L1496.7 336.2L1497.2 345.0L1497.7 336.9L1498.2 345.8L1498.7 337.2L1499.2 344.4L1499.7 337.9L1500.2 343.7L1500.7 338.8L1501.2 343.2L1501.7 339.2L1502.2 343.4L1502.7 339.0L1503.2 343.8L1503.7 339.5L1504.2 345.7L1504.7 338.0L1505.2 346.5L1505.7 339.0L1506.2 347.6L1506.7 338.7L1507.2 346.1L1507.7 338.3L1508.2 346.6L1508.7 334.3L1509.2 344.2L1509.7 336.5L1510.2 345.9L1510.7 335.4L1511.2 343.2L1511.7 334.8L1512.2 345.6L1512.7 336.8L1513.2 340.6L1513.7 335.9L1514.2 344.7L1514.7 334.5L1515.2 343.2L1515.7 333.1L1516.2 341.4L1516.7 337.2L1517.2 342.7L1517.7 335.1L1518.2 344.7L1518.7 337.0L1519.2 342.1L1519.7 339.0L1520.2 342.5L1520.7 336.8L1521.2 345.7L1521.7 337.1L1522.2 342.1L1522.7 333.3L1523.2 342.2L1523.7 335.7L1524.2 341.4L1524.7 334.1L1525.2 339.3L1525.7 329.7L1526.2 339.0L1526.7 333.0L1527.2 337.7L1527.7 332.5L1528.2 338.5L1528.7 330.3L1529.2 338.3L1529.7 329.9L1530.2 339.6L1530.7 329.2L1531.2 336.5L1531.7 329.5L1532.2 336.4L1532.7 328.9L1533.2 334.4L1533.7 327.1L1534.2 335.6L1534.7 326.9L1535.2 334.1L1535.7 328.7L1536.2 333.5L1536.7 328.3L1537.2 334.5L1537.7 326.9L1538.2 332.8L1538.7 324.7L1539.2 333.1L1539.7 325.3L1540.2 332.3L1540.7 326.2L1541.2 330.8L1541.7 325.5L1542.2 331.1L1542.7 323.0L1543.2 330.6L1543.7 322.1L1544.2 328.2L1544.7 322.7L1545.2 329.9L1545.7 320.3L1546.2 328.5L1546.7 322.3L1547.2 327.1L1547.7 321.7L1548.2 329.0L1548.7 319.6L1549.2 329.0L1549.7 318.5L1550.2 327.6L1550.7 323.1L1551.2 330.1L1551.7 321.3L1552.2 331.5L1552.7 323.8L1553.2 330.7L1553.7 324.2L1554.2 332.6L1554.7 326.3L1555.2 331.9L1555.7 327.8L1556.2 334.8L1556.7 329.4L1557.2 338.2L1557.7 332.5L1558.2 340.2L1558.7 330.8L1559.2 338.1L1559.7 329.3L1560.2 337.7L1560.7 333.2L1561.2 339.6L1561.7 329.9L1562.2 338.5L1562.7 331.9L1563.2 336.6L1563.7 332.3L1564.2 337.5L1564.7 329.5L1565.2 340.9L1565.7 329.1L1566.2 338.5L1566.7 330.8L1567.2 335.8L1567.7 331.1L1568.2 337.2L1568.7 330.2L1569.2 339.7L1569.7 328.6L1570.2 337.5L1570.7 329.5L1571.2 336.2L1571.7 328.7L1572.2 336.6L1572.7 326.8L1573.2 338.0L1573.7 328.9L1574.2 336.2L1574.7 327.2L1575.2 335.9L1575.7 328.4L1576.2 335.6L1576.7 326.5L1577.2 334.1L1577.7 328.6L1578.2 334.8L1578.7 329.1L1579.2 336.4L1579.7 328.9L1580.2 333.4L1580.7 328.6L1581.2 336.8L1581.7 327.9L1582.2 333.6L1582.7 327.9L1583.2 332.9L1583.7 328.7L1584.2 332.2L1584.7 326.5L1585.2 332.8L1585.7 327.5L1586.2 331.4L1586.7 326.3L1587.2 330.7L1587.7 323.4L1588.2 330.5L1588.7 325.7L1589.2 330.4L1589.7 323.6L1590.2 331.5L1590.7 324.1L1591.2 330.7L1591.7 324.2L1592.2 331.0L1592.7 325.2L1593.2 333.4L1593.7 324.9L1594.2 333.6L1594.7 324.6L1595.2 335.6L1595.7 326.7L1596.2 333.8L1596.7 327.7L1597.2 333.3L1597.7 329.0L1598.2 334.8L1598.7 328.9L1599.2 337.9L1599.7 326.0L1600.2 336.6L1600.7 328.6L1601.2 334.9L1601.7 329.2L1602.2 334.9L1602.7 326.6L1603.2 336.3L1603.7 327.9L1604.2 337.1L1604.7 328.3L1605.2 334.5L1605.7 327.2L1606.2 334.9L1606.7 325.2L1607.2 334.3L1607.7 326.3L1608.2 334.9L1608.7 325.1L1609.2 334.4L1609.7 328.8L1610.2 336.5L1610.7 331.7L1611.2 338.4L1611.7 335.8L1612.2 340.8L1612.7 338.2L1613.2 342.9L1613.7 339.2L1614.2 344.0L1614.7 339.5L1615.2 345.1L1615.7 339.2L1616.2 346.8L1616.7 340.7L1617.2 346.3L1617.7 341.8L1618.2 350.8L1618.7 341.5L1619.2 347.9L1619.7 341.9L1620.2 350.6L1620.7 340.3L1621.2 349.5L1621.7 342.4L1622.2 348.5L1622.7 340.8L1623.2 350.6L1623.7 343.1L1624.2 352.1L1624.7 343.4L1625.2 352.0L1625.7 343.7L1626.2 352.3L1626.7 344.5L1627.2 350.9L1627.7 345.6L1628.2 350.4L1628.7 345.8L1629.2 353.4L1629.7 343.9L1630.2 353.1L1630.7 345.6L1631.2 352.3L1631.7 346.7L1632.2 351.0L1632.7 346.5L1633.2 351.0L1633.7 344.9L1634.2 351.9L1634.7 345.0L1635.2 352.5L1635.7 346.1L1636.2 354.5L1636.7 345.1L1637.2 352.4L1637.7 345.1L1638.2 352.9L1638.7 345.9L1639.2 352.8L1639.7 346.0L1640.2 352.9L1640.7 345.5L1641.2 352.2L1641.7 343.5L1642.2 351.2L1642.7 346.6L1643.2 350.9L1643.7 345.9L1644.2 352.8L1644.7 345.9L1645.2 354.0L1645.7 343.1L1646.2 350.9L1646.7 344.8L1647.2 351.4L1647.7 343.8L1648.2 352.3L1648.7 344.1L1649.2 350.6L1649.7 345.8L1650.2 350.5L1650.7 345.4L1651.2 352.1L1651.7 345.6L1652.2 350.3L1652.7 345.8L1653.2 349.9L1653.7 345.4L1654.2 354.2L1654.7 344.6L1655.2 352.8L1655.7 341.5L1656.2 351.0L1656.7 342.9L1657.2 350.3L1657.7 342.9L1658.2 352.5L1658.7 343.3L1659.2 351.2L1659.7 342.3L1660.2 350.6L1660.7 344.2L1661.2 349.7L1661.7 341.8L1662.2 353.0L1662.7 344.2L1663.2 351.0L1663.7 344.4L1664.2 350.7L1664.7 345.5L1665.2 349.2L1665.7 346.1L1666.2 350.0L1666.7 345.0L1667.2 350.5L1667.7 345.6L1668.2 351.1L1668.7 344.1L1669.2 353.0L1669.7 343.7L1670.2 354.8L1670.7 345.2L1671.2 352.0L1671.7 344.5L1672.2 352.8L1672.7 346.4L1673.2 351.9L1673.7 345.5L1674.2 352.2L1674.7 346.4L1675.2 354.5L1675.7 344.5L1676.2 355.0L1676.7 345.7L1677.2 353.4L1677.7 347.1L1678.2 353.0L1678.7 347.0L1679.2 353.2L1679.7 346.4L1680.2 353.8L1680.7 348.4L1681.2 352.6L1681.7 348.3L1682.2 353.6L1682.7 347.6L1683.2 353.7L1683.7 346.0L1684.2 352.7L1684.7 343.4L1685.2 353.9L1685.7 344.3L1686.2 354.5L1686.7 345.2L1687.2 354.4L1687.7 344.0L1688.2 351.8L1688.7 346.7L1689.2 350.5L1689.7 345.7L1690.2 349.8L1690.7 345.1L1691.2 349.9L1691.7 344.2L1692.2 348.6L1692.7 344.9L1693.2 348.1L1693.7 344.6L1694.2 349.5L1694.7 343.1L1695.2 350.6L1695.7 340.7L1696.2 345.2L1696.7 338.0L1697.2 342.7L1697.7 335.5L1698.2 342.9L1698.7 330.1L1699.2 338.3L1699.7 324.0L1700.2 333.0L1700.7 322.6L1701.2 326.9L1701.7 320.2L1702.2 328.1L1702.7 321.0L1703.2 331.3L1703.7 323.6L1704.2 334.0L1704.7 327.4L1705.2 333.7L1705.7 329.6L1706.2 336.9L1706.7 329.8L1707.2 336.6L1707.7 330.0L1708.2 337.3L1708.7 330.4L1709.2 338.4L1709.7 331.2L1710.2 338.3L1710.7 330.1L1711.2 339.0L1711.7 331.7L1712.2 339.4L1712.7 331.6L1713.2 336.0L1713.7 329.4L1714.2 334.0L1714.7 326.9L1715.2 330.6L1715.7 321.6L1716.2 328.7L1716.7 321.2L1717.2 327.3L1717.7 317.8L1718.2 325.1L1718.7 318.0L1719.2 326.0L1719.7 319.2L1720.2 327.5L1720.7 320.6L1721.2 328.7L1721.7 322.4L1722.2 330.6L1722.7 325.3L1723.2 330.9L1723.7 326.4L1724.2 330.3L1724.7 326.8L1725.2 331.7L1725.7 326.7L1726.2 334.1" fill="none" stroke="#f00" stroke-width="2.08" stroke-linejoin="round"/>
<path d="M1300.5 309.3V334.59" stroke="#f00" stroke-width="2.3" stroke-linecap="round" fill="none"/>
<path d="M1356 297.8V339.76" stroke="#f00" stroke-width="2.3" stroke-linecap="round" fill="none"/>
<path d="M1524.5 301.6V337.03" stroke="#f00" stroke-width="2.3" stroke-linecap="round" fill="none"/>
<path d="M1538.5 313.7V327.91" stroke="#f00" stroke-width="2.3" stroke-linecap="round" fill="none"/>
<path d="M1543 304V327.59" stroke="#f00" stroke-width="2.3" stroke-linecap="round" fill="none"/>
</g>
<path d="M1205 455.5h5.1M1205 411.5h5.1M1205 368.5h5.1M1205 325.5h5.1M1205 282.5h5.1M1205 239.5h5.1M1205 196.5h5.1M1205 153.5h5.1M1205 110.5h5.1" stroke="#000" stroke-width="1" fill="none"/>
<path d="M1800 455.5h-5.1M1800 386.5h-5.1M1800 317.5h-5.1M1800 248.5h-5.1M1800 179.5h-5.1M1800 110.5h-5.1" stroke="#f00" stroke-width="1" fill="none"/>
<path d="M1257.5 455v-5.1M1331.5 455v-5.1M1406.5 455v-5.1M1480.5 455v-5.1M1554.5 455v-5.1M1629.5 455v-5.1M1703.5 455v-5.1M1777.5 455v-5.1" stroke="#000" stroke-width="1" fill="none"/>
<path d="M1800 110H1205V455H1800" fill="none" stroke="#000" stroke-width="2" stroke-linecap="square"/>
<path d="M1800 110V455" fill="none" stroke="#f00" stroke-width="2" stroke-linecap="square"/>
<text x="1199" y="463" font-size="19.44" text-anchor="end">−20</text>
<text x="1199" y="419.88" font-size="19.44" text-anchor="end">−15</text>
<text x="1199" y="376.75" font-size="19.44" text-anchor="end">−10</text>
<text x="1199" y="333.62" font-size="19.44" text-anchor="end">−5</text>
<text x="1199" y="290.5" font-size="19.44" text-anchor="end">0</text>
<text x="1199" y="247.38" font-size="19.44" text-anchor="end">5</text>
<text x="1199" y="204.25" font-size="19.44" text-anchor="end">10</text>
<text x="1199" y="161.12" font-size="19.44" text-anchor="end">15</text>
<text x="1199" y="118" font-size="19.44" text-anchor="end">20</text>
<text x="1806.02" y="463.3" font-size="19.44" fill="#f00">0</text>
<text x="1805.88" y="394.3" font-size="19.44" fill="#f00">200</text>
<text x="1806.35" y="325.3" font-size="19.44" fill="#f00">400</text>
<text x="1805.94" y="256.3" font-size="19.44" fill="#f00">600</text>
<text x="1805.98" y="187.3" font-size="19.44" fill="#f00">800</text>
<text x="1805.16" y="118.3" font-size="19.44" fill="#f00">1000</text>
<text x="-2.32" y="0" font-size="23.61" textLength="78.73" lengthAdjust="spacing" transform="translate(1116.1,319.8) rotate(-90)">IMF Bz</text>
<text x="-2.03" y="0" font-size="23.61" textLength="63.36" lengthAdjust="spacing" transform="translate(1145.7,311.8) rotate(-90)">( nT )</text>
<text x="-1.56" y="0" font-size="23.61" textLength="142.16" lengthAdjust="spacing" fill="#f00" transform="translate(1878.9,353) rotate(-90)">SW Velocity</text>
<text fill="#f00" transform="translate(1912.1,339.9) rotate(-90)"><tspan x="-2.03" y="0" font-size="23.61">(</tspan><tspan x="15.16" y="0" font-size="23.61" textLength="38.32" lengthAdjust="spacing">km</tspan><tspan x="69.35" y="-10" font-size="16.53">−1</tspan><tspan x="103.21" y="0" font-size="23.61">)</tspan><tspan x="56.42" y="0" font-size="23.61">s</tspan></text>
<path d="M1205 512.4H1800" stroke="#000" stroke-width="2.08" stroke-dasharray="2.08 3.43" fill="none"/>
<path d="M1205.3 509.7L1212 507.5L1222.5 501.5L1233 506.7L1245 512L1252.5 510.5L1263 512.7L1270.5 510.2L1275 506.7L1284 502L1296 505.7L1305 508.2L1311 510.8L1317 511.2L1330.5 508.7L1338 513.2L1347 514.5L1354.5 517L1359 516.5L1366.5 512.7L1372.5 507L1378.5 507.8L1384.5 512L1390.5 512.4L1395 510.8L1410 511.7L1419 508.2L1428 505L1434 506.7L1441.5 508.7L1447.5 506L1455 504.2L1462.5 507.8L1470 506.7L1479.7 504.2L1488 507.8L1494 511.7L1498.8 511.9L1502.8 509.2L1512.4 507.9L1519.6 511.9L1526.8 509.7L1531.6 512.4L1535.9 520.1L1542.8 518.5L1550.8 515.9L1558.8 516.9L1566 518L1571.6 516.4L1576.1 514.8L1581.2 521.2L1585.2 523.6L1592.4 520.1L1598.8 512.9L1602.8 512.9L1609.2 516.7L1613.2 517.2L1616.9 519.3L1625.2 513.2L1630.8 515.3L1638 517.2L1644.4 521.2L1651.6 514.8L1657.2 513.7L1663.6 506.8L1669.2 502L1678 504.9L1686 511.6L1691.3 517.5L1694 516.4L1697.2 509.7L1700.4 508.4L1706 504.1L1715.6 503.6L1718.8 508.9L1722.8 509.7" fill="none" stroke="#000" stroke-width="2.08" stroke-linejoin="round" clip-path="url(#c5)"/>
<path d="M1726 822V478" stroke="#1f77b4" stroke-width="2.08" stroke-dasharray="2.08 3.43" fill="none"/>
<g clip-path="url(#c5)">
<path d="M1205.6 652.5L1206.6 651.8L1207.6 656.8L1208.6 659.5L1209.6 650.7L1210.6 654.5L1211.6 645.9L1212.6 649.8L1213.6 653.9L1214.6 650.5L1215.6 636.2L1216.6 639.1L1217.6 651.7L1218.6 652.4L1219.6 644.9L1220.6 652.2L1221.6 646.6L1222.6 649.0L1223.6 657.8L1224.6 661.6L1225.6 676.0L1226.6 683.4L1227.6 676.3L1228.6 683.1L1229.6 678.6L1230.6 677.3L1231.6 686.4L1232.6 683.6L1233.6 674.2L1234.6 682.3L1235.6 683.4L1236.6 692.6L1237.6 693.0L1238.6 693.5L1239.6 695.0L1240.6 688.6L1241.6 705.4L1242.6 694.6L1243.6 692.9L1244.6 701.9L1245.6 690.0L1246.6 694.8L1247.6 689.5L1248.6 692.3L1249.6 685.5L1250.6 685.9L1251.6 679.3L1252.6 689.5L1253.6 686.1L1254.6 681.1L1255.6 680.1L1256.6 674.6L1257.6 670.0L1258.6 666.2L1259.6 672.8L1260.6 657.8L1261.6 652.1L1262.6 658.3L1263.6 646.1L1264.6 637.0L1265.6 645.2L1266.6 646.6L1267.6 635.9L1268.6 633.1L1269.6 639.1L1270.6 636.5L1271.6 632.6L1272.6 618.4L1273.6 629.8L1274.6 636.0L1275.6 624.2L1276.6 631.9L1277.6 635.9L1278.6 624.9L1279.6 630.0L1280.6 625.9L1281.6 620.5L1282.6 621.0L1283.6 619.7L1284.6 632.6L1285.6 626.9L1286.6 630.0L1287.6 632.1L1288.6 625.8L1289.6 617.6L1290.6 622.1L1291.6 636.3L1292.6 638.9L1293.6 639.3L1294.6 643.3L1295.6 642.2L1296.6 637.3L1297.6 640.7L1298.6 650.4L1299.6 645.1L1300.6 648.5L1301.6 640.3L1302.6 651.9L1303.6 653.2L1304.6 650.2L1305.6 642.1L1306.6 632.2L1307.6 656.4L1308.6 642.0L1309.6 646.9L1310.6 639.3L1311.6 645.9L1312.6 642.2L1313.6 649.4L1314.6 658.3L1315.6 645.7L1316.6 659.5L1317.6 654.7L1318.6 664.0L1319.6 665.3L1320.6 670.8L1321.6 667.6L1322.6 675.9L1323.6 663.3L1324.6 668.4L1325.6 672.6L1326.6 680.6L1327.6 677.4L1328.6 673.1L1329.6 673.5L1330.6 677.3L1331.6 672.9L1332.6 663.4L1333.6 692.7L1334.6 697.2L1335.6 700.1L1336.6 685.2L1337.6 702.6L1338.6 702.0L1339.6 694.5L1340.6 700.0L1341.6 713.3L1342.6 691.0L1343.6 691.9L1344.6 679.4L1345.6 694.3L1346.6 709.1L1347.6 705.7L1348.6 703.0L1349.6 700.7L1350.6 717.2L1351.6 717.6L1352.6 706.6L1353.6 703.2L1354.6 728.7L1355.6 720.5L1356.6 711.8L1357.6 685.7L1358.6 668.5L1359.6 679.7L1360.6 684.6L1361.6 682.9L1362.6 670.5L1363.6 675.3L1364.6 685.2L1365.6 673.5L1366.6 688.1L1367.6 690.4L1368.6 678.2L1369.6 675.3L1370.6 689.9L1371.6 675.4L1372.6 683.8L1373.6 686.7L1374.6 700.6L1375.6 677.9L1376.6 678.6L1377.6 696.3L1378.6 674.6L1379.6 697.6L1380.6 706.1L1381.6 685.1L1382.6 680.8L1383.6 674.0L1384.6 672.8L1385.6 677.5L1386.6 705.7L1387.6 700.5L1388.6 707.8L1389.6 707.0L1390.6 693.8L1391.6 692.4L1392.6 712.6L1393.6 699.3L1394.6 707.8L1395.6 698.5L1396.6 697.6L1397.6 704.4L1398.6 698.1L1399.6 703.1L1400.6 703.7L1401.6 695.1L1402.6 689.8L1403.6 688.9L1404.6 695.5L1405.6 688.3L1406.6 686.8L1407.6 700.1L1408.6 694.0L1409.6 691.2L1410.6 679.0L1411.6 689.3L1412.6 682.6L1413.6 684.8L1414.6 677.3L1415.6 673.7L1416.6 671.7L1417.6 677.1L1418.6 670.9L1419.6 675.5L1420.6 676.3L1421.6 671.4L1422.6 664.2L1423.6 671.6L1424.6 668.5L1425.6 675.2L1426.6 666.5L1427.6 666.7L1428.6 669.8L1429.6 670.0L1430.6 664.2L1431.6 664.4L1432.6 662.6L1433.6 652.8L1434.6 636.3L1435.6 642.9L1436.6 643.9L1437.6 645.4L1438.6 637.9L1439.6 643.9L1440.6 640.5L1441.6 680.0L1442.6 679.5L1443.6 679.0L1444.6 678.4L1445.6 677.9L1446.6 677.4L1447.6 676.9L1448.6 676.4L1449.6 672.3L1450.6 659.2L1451.6 642.0L1452.6 647.8L1453.6 637.7L1454.6 636.7L1455.6 634.6L1456.6 631.6L1457.6 622.1L1458.6 637.8L1459.6 628.7L1460.6 651.0L1461.6 648.9L1462.6 660.6L1463.6 656.8L1464.6 646.6L1465.6 670.6L1466.6 648.4L1467.6 649.7L1468.6 639.3L1469.6 665.5L1470.6 645.1L1471.6 652.7L1472.6 658.3L1473.6 661.9L1474.6 652.5L1475.6 662.1L1476.6 657.0L1477.6 654.4L1478.6 642.3L1479.6 648.8L1480.6 663.3L1481.6 667.6L1482.6 646.7L1483.6 654.4L1484.6 668.8L1485.6 674.8L1486.6 679.7L1487.6 673.1L1488.6 675.5L1489.6 676.4L1490.6 684.6L1491.6 688.1L1492.6 693.5L1493.6 680.4L1494.6 681.9L1495.6 690.6L1496.6 682.3L1497.6 680.1L1498.6 673.5L1499.6 666.1L1500.6 672.7L1501.6 659.3L1502.6 652.5L1503.6 657.9L1504.6 634.5L1505.6 647.3L1506.6 634.1L1507.6 632.7L1508.6 647.2L1509.6 648.8L1510.6 639.8L1511.6 637.4L1512.6 642.7L1513.6 627.7L1514.6 633.3L1515.6 645.9L1516.6 647.2L1517.6 633.3L1518.6 634.3L1519.6 646.4L1520.6 637.9L1521.6 646.0L1522.6 641.5L1523.6 634.4L1524.6 619.6L1525.6 633.8L1526.6 619.4L1527.6 630.6L1528.6 639.1L1529.6 623.3L1530.6 625.8L1531.6 616.2L1532.6 588.5L1533.6 594.4L1534.6 598.9L1535.6 594.2L1536.6 610.7L1537.6 603.4L1538.6 602.3L1539.6 606.4L1540.6 603.7L1541.6 610.2L1542.6 625.1L1543.6 633.8L1544.6 628.7L1545.6 642.1L1546.6 633.4L1547.6 641.9L1548.6 650.3L1549.6 648.4L1550.6 647.1L1551.6 640.9L1552.6 653.0L1553.6 648.4L1554.6 665.1L1555.6 678.2L1556.6 693.8L1557.6 709.2L1558.6 707.0L1559.6 700.6L1560.6 712.0L1561.6 698.2L1562.6 709.7L1563.6 700.4L1564.6 699.2L1565.6 707.0L1566.6 706.5L1567.6 702.3L1568.6 692.8L1569.6 692.4L1570.6 700.0L1571.6 693.8L1572.6 685.2L1573.6 688.4L1574.6 675.2L1575.6 669.9L1576.6 683.8L1577.6 673.0L1578.6 676.5L1579.6 679.0L1580.6 682.7L1581.6 678.0L1582.6 679.9L1583.6 681.9L1584.6 674.6L1585.6 682.5L1586.6 676.4L1587.6 674.2L1588.6 665.7L1589.6 668.5L1590.6 683.3L1591.6 668.8L1592.6 678.0L1593.6 687.3L1594.6 668.3L1595.6 681.4L1596.6 686.2L1597.6 685.7L1598.6 671.1L1599.6 676.0L1600.6 681.8L1601.6 661.8L1602.6 682.0L1603.6 680.0L1604.6 666.1L1605.6 667.0L1606.6 687.6L1607.6 676.8L1608.6 675.3L1609.6 672.0L1610.6 668.6L1611.6 677.8L1612.6 665.5L1613.6 682.0L1614.6 670.6L1615.6 685.2L1616.6 676.3L1617.6 687.9L1618.6 685.4L1619.6 683.2L1620.6 686.1L1621.6 681.4L1622.6 687.5L1623.6 682.7L1624.6 676.8L1625.6 678.7L1626.6 673.3L1627.6 670.2L1628.6 673.1L1629.6 671.0L1630.6 663.3L1631.6 661.7L1632.6 662.3L1633.6 660.7L1634.6 662.7L1635.6 649.6L1636.6 660.6L1637.6 656.2L1638.6 655.2L1639.6 658.6L1640.6 655.5L1641.6 664.1L1642.6 672.0L1643.6 679.1L1644.6 661.7L1645.6 678.6L1646.6 679.9L1647.6 679.1L1648.6 684.0L1649.6 678.4L1650.6 672.3L1651.6 679.7L1652.6 674.1L1653.6 675.2L1654.6 682.8L1655.6 677.8L1656.6 679.8L1657.6 683.0L1658.6 687.0L1659.6 685.7L1660.6 684.4L1661.6 688.9L1662.6 681.3L1663.6 690.4L1664.6 688.4L1665.6 686.1L1666.6 688.8L1667.6 683.5L1668.6 686.8L1669.6 685.1L1670.6 683.5L1671.6 683.7L1672.6 681.6L1673.6 673.9L1674.6 669.5L1675.6 667.8L1676.6 670.4L1677.6 669.1L1678.6 672.6L1679.6 682.2L1680.6 668.1L1681.6 672.5L1682.6 684.6L1683.6 666.2L1684.6 662.8L1685.6 682.3L1686.6 692.1L1687.6 698.0L1688.6 683.3L1689.6 679.7L1690.6 688.3L1691.6 673.2L1692.6 666.8L1693.6 664.2L1694.6 652.0L1695.6 650.1L1696.6 651.1L1697.6 665.1L1698.6 641.5L1699.6 639.9L1700.6 629.3L1701.6 624.3L1702.6 643.8L1703.6 635.1L1704.6 648.2L1705.6 646.9L1706.6 650.4L1707.6 658.5L1708.6 667.0L1709.6 686.0L1710.6 675.0L1711.6 659.3L1712.6 643.1L1713.6 657.0L1714.6 688.4L1715.6 673.7L1716.6 666.7L1717.6 658.9L1718.6 619.3L1719.6 637.0L1720.6 659.5L1721.6 671.1L1722.6 666.9L1723.6 681.2L1724.6 665.6L1725.6 674.1L1726.6 668.5L1726.6 771.5L1725.6 736.1L1724.6 769.6L1723.6 734.1L1722.6 754.1L1721.6 733.4L1720.6 764.8L1719.6 756.7L1718.6 783.6L1717.6 772.8L1716.6 746.6L1715.6 769.3L1714.6 721.3L1713.6 709.7L1712.6 702.2L1711.6 712.8L1710.6 756.1L1709.6 738.6L1708.6 716.7L1707.6 693.2L1706.6 690.3L1705.6 677.1L1704.6 678.0L1703.6 681.4L1702.6 670.3L1701.6 677.7L1700.6 671.5L1699.6 682.1L1698.6 726.5L1697.6 694.8L1696.6 686.8L1695.6 685.2L1694.6 690.3L1693.6 690.1L1692.6 709.7L1691.6 716.6L1690.6 727.8L1689.6 759.3L1688.6 724.7L1687.6 753.1L1686.6 738.8L1685.6 736.1L1684.6 746.6L1683.6 737.0L1682.6 715.5L1681.6 723.1L1680.6 717.5L1679.6 714.2L1678.6 703.1L1677.6 699.4L1676.6 686.9L1675.6 694.9L1674.6 694.4L1673.6 688.0L1672.6 693.9L1671.6 695.0L1670.6 701.5L1669.6 694.2L1668.6 702.3L1667.6 706.5L1666.6 702.4L1665.6 700.9L1664.6 707.9L1663.6 698.5L1662.6 703.9L1661.6 710.4L1660.6 708.0L1659.6 709.9L1658.6 707.0L1657.6 707.6L1656.6 709.5L1655.6 714.6L1654.6 698.6L1653.6 699.9L1652.6 701.6L1651.6 705.9L1650.6 705.9L1649.6 698.8L1648.6 711.1L1647.6 703.6L1646.6 718.2L1645.6 721.2L1644.6 727.6L1643.6 709.0L1642.6 698.7L1641.6 705.1L1640.6 694.7L1639.6 688.3L1638.6 681.1L1637.6 677.8L1636.6 674.0L1635.6 685.9L1634.6 675.1L1633.6 686.6L1632.6 684.8L1631.6 683.2L1630.6 681.3L1629.6 683.6L1628.6 683.6L1627.6 694.9L1626.6 695.0L1625.6 690.4L1624.6 695.0L1623.6 700.2L1622.6 697.5L1621.6 703.6L1620.6 700.0L1619.6 711.0L1618.6 705.7L1617.6 708.2L1616.6 703.3L1615.6 709.7L1614.6 700.1L1613.6 702.8L1612.6 713.8L1611.6 712.7L1610.6 715.6L1609.6 706.4L1608.6 708.6L1607.6 712.2L1606.6 723.4L1605.6 735.0L1604.6 727.2L1603.6 707.1L1602.6 703.9L1601.6 720.2L1600.6 712.7L1599.6 712.8L1598.6 715.8L1597.6 713.5L1596.6 717.3L1595.6 705.7L1594.6 724.9L1593.6 721.3L1592.6 712.8L1591.6 705.2L1590.6 705.9L1589.6 710.9L1588.6 716.4L1587.6 697.7L1586.6 711.9L1585.6 706.9L1584.6 709.0L1583.6 702.9L1582.6 699.3L1581.6 711.4L1580.6 714.1L1579.6 714.5L1578.6 714.0L1577.6 716.4L1576.6 724.3L1575.6 734.6L1574.6 712.6L1573.6 711.8L1572.6 730.9L1571.6 716.8L1570.6 719.3L1569.6 721.0L1568.6 728.3L1567.6 716.5L1566.6 716.0L1565.6 725.2L1564.6 730.2L1563.6 730.4L1562.6 728.8L1561.6 735.0L1560.6 733.0L1559.6 734.2L1558.6 745.7L1557.6 750.0L1556.6 747.8L1555.6 724.6L1554.6 720.3L1553.6 714.4L1552.6 690.7L1551.6 687.1L1550.6 667.4L1549.6 669.3L1548.6 661.6L1547.6 666.9L1546.6 669.2L1545.6 660.5L1544.6 652.6L1543.6 655.0L1542.6 645.9L1541.6 650.7L1540.6 663.5L1539.6 655.6L1538.6 638.5L1537.6 648.9L1536.6 627.4L1535.6 642.3L1534.6 640.8L1533.6 639.8L1532.6 674.1L1531.6 660.9L1530.6 654.3L1529.6 671.5L1528.6 659.4L1527.6 663.1L1526.6 666.1L1525.6 683.5L1524.6 692.2L1523.6 671.4L1522.6 674.2L1521.6 669.5L1520.6 672.1L1519.6 664.9L1518.6 674.1L1517.6 662.5L1516.6 674.3L1515.6 660.4L1514.6 677.9L1513.6 682.8L1512.6 670.9L1511.6 682.6L1510.6 682.8L1509.6 685.9L1508.6 686.2L1507.6 675.5L1506.6 696.1L1505.6 686.9L1504.6 712.7L1503.6 691.3L1502.6 709.2L1501.6 695.9L1500.6 712.9L1499.6 706.7L1498.6 715.1L1497.6 707.5L1496.6 719.9L1495.6 721.2L1494.6 714.9L1493.6 714.2L1492.6 707.6L1491.6 710.1L1490.6 714.3L1489.6 725.7L1488.6 707.3L1487.6 721.6L1486.6 709.8L1485.6 703.9L1484.6 710.8L1483.6 694.5L1482.6 711.2L1481.6 707.0L1480.6 687.5L1479.6 682.4L1478.6 699.1L1477.6 683.3L1476.6 678.5L1475.6 688.7L1474.6 694.1L1473.6 699.6L1472.6 688.3L1471.6 699.5L1470.6 694.2L1469.6 697.4L1468.6 726.8L1467.6 701.5L1466.6 698.7L1465.6 705.9L1464.6 728.3L1463.6 707.9L1462.6 687.0L1461.6 695.6L1460.6 703.9L1459.6 689.9L1458.6 675.7L1457.6 685.7L1456.6 663.6L1455.6 676.6L1454.6 667.0L1453.6 686.2L1452.6 683.8L1451.6 691.4L1450.6 674.3L1449.6 677.8L1448.6 677.0L1447.6 677.5L1446.6 678.0L1445.6 678.5L1444.6 679.0L1443.6 679.6L1442.6 680.1L1441.6 680.6L1440.6 689.5L1439.6 677.3L1438.6 688.9L1437.6 692.3L1436.6 684.5L1435.6 680.9L1434.6 697.2L1433.6 696.0L1432.6 683.2L1431.6 692.7L1430.6 698.5L1429.6 689.2L1428.6 690.8L1427.6 687.7L1426.6 687.2L1425.6 688.6L1424.6 686.1L1423.6 689.3L1422.6 698.5L1421.6 693.5L1420.6 685.9L1419.6 685.9L1418.6 685.7L1417.6 685.1L1416.6 695.6L1415.6 694.7L1414.6 695.7L1413.6 695.3L1412.6 705.6L1411.6 709.5L1410.6 720.0L1409.6 717.3L1408.6 718.9L1407.6 725.6L1406.6 749.3L1405.6 724.1L1404.6 737.6L1403.6 720.7L1402.6 728.0L1401.6 721.5L1400.6 725.6L1399.6 716.9L1398.6 720.2L1397.6 722.3L1396.6 729.9L1395.6 726.4L1394.6 725.0L1393.6 726.1L1392.6 734.3L1391.6 754.0L1390.6 745.3L1389.6 730.2L1388.6 752.7L1387.6 736.6L1386.6 737.1L1385.6 754.0L1384.6 760.2L1383.6 746.6L1382.6 728.4L1381.6 754.8L1380.6 763.0L1379.6 748.3L1378.6 771.9L1377.6 750.8L1376.6 744.4L1375.6 759.9L1374.6 729.1L1373.6 724.8L1372.6 723.0L1371.6 716.7L1370.6 715.8L1369.6 703.8L1368.6 718.2L1367.6 717.8L1366.6 715.6L1365.6 721.8L1364.6 715.5L1363.6 709.1L1362.6 721.0L1361.6 725.9L1360.6 717.1L1359.6 734.2L1358.6 741.2L1357.6 727.2L1356.6 762.7L1355.6 769.6L1354.6 787.7L1353.6 794.5L1352.6 759.1L1351.6 789.4L1350.6 759.3L1349.6 785.0L1348.6 767.8L1347.6 739.9L1346.6 739.2L1345.6 733.4L1344.6 739.6L1343.6 747.8L1342.6 754.5L1341.6 756.9L1340.6 767.8L1339.6 778.5L1338.6 748.2L1337.6 740.3L1336.6 732.4L1335.6 744.6L1334.6 741.5L1333.6 733.6L1332.6 731.9L1331.6 724.9L1330.6 710.7L1329.6 702.4L1328.6 704.7L1327.6 717.4L1326.6 707.1L1325.6 702.3L1324.6 705.3L1323.6 707.8L1322.6 690.7L1321.6 702.5L1320.6 698.9L1319.6 694.1L1318.6 694.5L1317.6 684.4L1316.6 690.8L1315.6 699.6L1314.6 686.0L1313.6 695.4L1312.6 696.2L1311.6 705.3L1310.6 684.8L1309.6 697.9L1308.6 701.0L1307.6 710.3L1306.6 711.8L1305.6 703.8L1304.6 694.7L1303.6 679.4L1302.6 683.1L1301.6 702.7L1300.6 674.9L1299.6 671.3L1298.6 667.7L1297.6 659.6L1296.6 668.8L1295.6 659.9L1294.6 655.3L1293.6 668.0L1292.6 666.6L1291.6 670.8L1290.6 652.7L1289.6 672.7L1288.6 659.8L1287.6 653.2L1286.6 661.9L1285.6 651.2L1284.6 668.6L1283.6 665.0L1282.6 651.8L1281.6 666.1L1280.6 657.3L1279.6 666.8L1278.6 664.8L1277.6 659.3L1276.6 653.9L1275.6 668.1L1274.6 662.2L1273.6 656.1L1272.6 671.8L1271.6 669.0L1270.6 655.9L1269.6 658.4L1268.6 670.5L1267.6 658.6L1266.6 671.1L1265.6 660.0L1264.6 678.2L1263.6 673.4L1262.6 683.8L1261.6 687.3L1260.6 686.0L1259.6 688.4L1258.6 706.1L1257.6 704.3L1256.6 700.1L1255.6 705.9L1254.6 700.8L1253.6 706.6L1252.6 710.1L1251.6 718.1L1250.6 720.3L1249.6 713.5L1248.6 713.3L1247.6 732.4L1246.6 724.0L1245.6 717.9L1244.6 725.4L1243.6 716.4L1242.6 720.2L1241.6 727.7L1240.6 733.8L1239.6 717.5L1238.6 721.3L1237.6 723.1L1236.6 708.7L1235.6 718.3L1234.6 713.1L1233.6 713.9L1232.6 706.9L1231.6 712.0L1230.6 718.1L1229.6 706.9L1228.6 708.6L1227.6 722.9L1226.6 711.2L1225.6 701.5L1224.6 689.9L1223.6 681.6L1222.6 678.4L1221.6 673.4L1220.6 674.4L1219.6 673.6L1218.6 672.7L1217.6 671.4L1216.6 675.0L1215.6 677.5L1214.6 666.4L1213.6 670.0L1212.6 676.7L1211.6 668.8L1210.6 680.5L1209.6 683.7L1208.6 671.1L1207.6 679.3L1206.6 673.7L1205.6 685.5Z" fill="#f00" stroke="#f00" stroke-width="1.5" stroke-linejoin="round"/>
<path d="M1300.6 609.7V672.9" stroke="#f00" stroke-width="2.2" stroke-linecap="round" fill="none"/>
<path d="M1355.8 619.6V766.24" stroke="#f00" stroke-width="2.2" stroke-linecap="round" fill="none"/>
<path d="M1400 532.3V718.34" stroke="#f00" stroke-width="2.2" stroke-linecap="round" fill="none"/>
<path d="M1440.8 571.7V685.72" stroke="#f00" stroke-width="2.2" stroke-linecap="round" fill="none"/>
<path d="M1498 632V708.55" stroke="#f00" stroke-width="2.2" stroke-linecap="round" fill="none"/>
<path d="M1538.3 545V639.65" stroke="#f00" stroke-width="2.2" stroke-linecap="round" fill="none"/>
<path d="M1542.5 570.3V644.41" stroke="#f00" stroke-width="2.2" stroke-linecap="round" fill="none"/>
<path d="M1726 740V826" stroke="#f00" stroke-width="3.2" fill="none"/>
</g>
<path d="M1205 512.5h5.1M1205 581.5h5.1M1205 650.5h5.1M1205 718.5h5.1M1205 787.5h5.1" stroke="#000" stroke-width="1" fill="none"/>
<path d="M1800 822.5h-5.1M1800 736.5h-5.1M1800 650.5h-5.1M1800 564.5h-5.1M1800 478.5h-5.1" stroke="#f00" stroke-width="1" fill="none"/>
<path d="M1800 796.5h-3.3M1800 780.5h-3.3M1800 770.5h-3.3M1800 761.5h-3.3M1800 755.5h-3.3M1800 749.5h-3.3M1800 744.5h-3.3M1800 739.5h-3.3M1800 710.5h-3.3M1800 694.5h-3.3M1800 684.5h-3.3M1800 675.5h-3.3M1800 669.5h-3.3M1800 663.5h-3.3M1800 658.5h-3.3M1800 653.5h-3.3M1800 624.5h-3.3M1800 608.5h-3.3M1800 598.5h-3.3M1800 589.5h-3.3M1800 583.5h-3.3M1800 577.5h-3.3M1800 572.5h-3.3M1800 567.5h-3.3M1800 538.5h-3.3M1800 522.5h-3.3M1800 512.5h-3.3M1800 503.5h-3.3M1800 497.5h-3.3M1800 491.5h-3.3M1800 486.5h-3.3M1800 481.5h-3.3" stroke="#f00" stroke-width="1" fill="none"/>
<path d="M1257.5 822v-5.1M1331.5 822v-5.1M1406.5 822v-5.1M1480.5 822v-5.1M1554.5 822v-5.1M1629.5 822v-5.1M1703.5 822v-5.1M1777.5 822v-5.1" stroke="#000" stroke-width="1" fill="none"/>
<path d="M1800 478H1205V822H1800" fill="none" stroke="#000" stroke-width="2" stroke-linecap="square"/>
<path d="M1800 478V822" fill="none" stroke="#f00" stroke-width="2" stroke-linecap="square"/>
<text x="1199" y="520.4" font-size="19.44" text-anchor="end">0</text>
<text x="1199" y="589.2" font-size="19.44" text-anchor="end">−100</text>
<text x="1199" y="658" font-size="19.44" text-anchor="end">−200</text>
<text x="1199" y="726.8" font-size="19.44" text-anchor="end">−300</text>
<text x="1199" y="795.6" font-size="19.44" text-anchor="end">−400</text>
<text x="1805.9" y="829.9" font-size="19.44" fill="#f00">10<tspan dy="-7.1" font-size="13.61">−2</tspan></text>
<text x="1805.9" y="743.9" font-size="19.44" fill="#f00">10<tspan dy="-7.1" font-size="13.61">−1</tspan></text>
<text x="1805.9" y="657.9" font-size="19.44" fill="#f00">10<tspan dy="-7.1" font-size="13.61">0</tspan></text>
<text x="1805.9" y="571.9" font-size="19.44" fill="#f00">10<tspan dy="-7.1" font-size="13.61">1</tspan></text>
<text x="1805.9" y="485.9" font-size="19.44" fill="#f00">10<tspan dy="-7.1" font-size="13.61">2</tspan></text>
<text x="-2.32" y="0" font-size="23.61" textLength="39.48" lengthAdjust="spacing" transform="translate(1104.8,670.5) rotate(-90)">Dst</text>
<text x="-2.03" y="0" font-size="23.61" textLength="62.86" lengthAdjust="spacing" transform="translate(1132.7,679.5) rotate(-90)">( nT )</text>
<text x="-1.56" y="0" font-size="23.61" textLength="149.31" lengthAdjust="spacing" fill="#f00" transform="translate(1875.1,723.7) rotate(-90)">SW Pressure</text>
<text x="-2.03" y="0" font-size="23.61" textLength="78.66" lengthAdjust="spacing" fill="#f00" transform="translate(1905.4,688.2) rotate(-90)">( nPa )</text>
<path d="M1205 931H1800" stroke="#000" stroke-width="2.08" stroke-dasharray="2.08 3.43" fill="none"/>
<path d="M1205.0 986.6L1206.0 993.6L1207.0 986.6L1208.0 993.6L1209.0 993.6L1210.0 990.1L1211.0 990.1L1212.0 990.1L1213.0 990.1L1214.0 990.1L1215.0 993.6L1216.0 993.6L1217.0 991.8L1218.0 988.4L1219.0 988.4L1220.0 988.4L1221.0 991.8L1222.0 995.4L1223.0 990.1L1224.0 990.1L1225.0 990.1L1226.0 993.6L1227.0 993.6L1228.0 993.6L1229.0 990.1L1230.0 993.6L1231.0 993.6L1232.0 997.2L1233.0 997.2L1234.0 997.2L1235.0 997.2L1236.0 990.1L1237.0 988.4L1238.0 988.4L1239.0 988.4L1240.0 990.1L1241.0 993.6L1242.0 993.6L1243.0 991.8L1244.0 991.8L1245.0 995.4L1246.0 995.4L1247.0 995.4L1248.0 993.6L1249.0 991.8L1250.0 993.6L1251.0 988.4L1252.0 988.4L1253.0 988.4L1254.0 991.8L1255.0 991.8L1256.0 993.6L1257.0 993.6L1258.0 993.6L1259.0 990.1L1260.0 990.1L1261.0 995.4L1262.0 995.4L1263.0 995.4L1264.0 995.4L1265.0 986.6L1266.0 993.6L1267.0 993.6L1268.0 993.6L1269.0 995.4L1270.0 995.4L1271.0 993.6L1272.0 993.6L1273.0 993.6L1274.0 995.4L1275.0 993.6L1276.0 993.6L1277.0 995.4L1278.0 995.4L1279.0 997.2L1280.0 997.2L1281.0 993.6L1282.0 993.6L1283.0 993.6L1284.0 988.4L1285.0 988.4L1286.0 995.4L1287.0 995.4L1288.0 995.4L1289.0 997.2L1290.0 997.2L1291.0 988.4L1292.0 988.4L1293.0 997.2L1294.0 997.2L1295.0 993.6L1296.0 993.6L1297.0 991.8L1298.0 991.8L1299.0 997.2L1300.0 997.2L1301.0 988.4L1302.0 988.4L1303.0 988.4L1304.0 988.4L1305.0 990.1L1306.0 993.6L1307.0 993.6L1308.0 995.4L1309.0 995.4L1310.0 991.8L1311.0 990.1L1312.0 990.1L1313.0 990.1L1314.0 990.1L1315.0 990.1L1316.0 990.1L1317.0 990.1L1318.0 986.6L1319.0 986.6L1320.0 991.8L1321.0 991.8L1322.0 991.8L1323.0 991.8L1324.0 991.8L1325.0 991.8L1326.0 991.8L1327.0 995.4L1328.0 991.8L1329.0 991.8L1330.0 991.8L1331.0 993.6L1332.0 993.6L1333.0 997.2L1334.0 997.2L1335.0 997.2L1336.0 990.1L1337.0 991.8L1338.0 991.8L1339.0 991.8L1340.0 988.4L1341.0 993.6L1342.0 993.6L1343.0 993.6L1344.0 993.6L1345.0 993.6L1346.0 993.6L1347.0 993.6L1348.0 993.6L1349.0 993.6L1350.0 991.8L1351.0 993.6L1352.0 993.6L1353.0 993.6L1354.0 990.1L1355.0 990.1L1356.0 990.1L1357.0 991.8L1358.0 991.8L1359.0 991.8L1360.0 995.4L1361.0 995.4L1362.0 995.4L1363.0 991.8L1364.0 995.4L1365.0 990.1L1366.0 990.1L1367.0 990.1L1368.0 990.1L1369.0 990.1L1370.0 990.1L1371.0 990.1L1372.0 990.1L1373.0 997.2L1374.0 988.4L1375.0 986.6L1376.0 986.6L1377.0 986.6L1378.0 988.4L1379.0 988.4L1380.0 988.4L1381.0 990.1L1382.0 990.1L1383.0 988.4L1384.0 988.4L1385.0 990.1L1386.0 990.1L1387.0 990.1L1388.0 990.1L1389.0 991.8L1390.0 991.8L1391.0 988.4L1392.0 988.4L1393.0 988.4L1394.0 991.8L1395.0 991.8L1396.0 991.8L1397.0 990.1L1398.0 990.1L1399.0 995.4L1400.0 991.8L1401.0 991.8L1402.0 990.1L1403.0 990.1L1404.0 990.1L1405.0 990.1L1406.0 990.1L1407.0 988.4L1408.0 988.4L1409.0 988.4L1410.0 990.1L1411.0 990.1L1412.0 988.4L1413.0 988.4L1414.0 991.8L1415.0 991.8L1416.0 993.6L1417.0 993.6L1418.0 993.6L1419.0 990.1L1420.0 991.8L1421.0 991.8L1422.0 991.8L1423.0 997.2L1424.0 997.2L1425.0 993.6L1426.0 993.6L1427.0 993.6L1428.0 991.8L1429.0 986.6L1430.0 986.6L1431.0 986.6L1432.0 997.2L1433.0 995.4L1434.0 995.4L1435.0 999.6L1436.0 999.6L1437.0 999.6L1438.0 997.2L1439.0 997.2L1440.0 997.2L1441.0 997.2L1442.0 997.2L1443.0 997.2L1444.0 991.8L1445.0 991.8L1446.0 993.6L1447.0 993.6L1448.0 993.6L1449.0 990.1L1450.0 990.1L1451.0 990.1L1452.0 990.1L1453.0 990.1L1454.0 990.1L1455.0 988.4L1456.0 988.4L1457.0 988.4L1458.0 988.4L1459.0 988.4L1460.0 988.4L1461.0 993.6L1462.0 993.6L1463.0 995.4L1464.0 995.4L1465.0 991.8L1466.0 991.8L1467.0 988.4L1468.0 993.6L1469.0 993.6L1470.0 988.4L1471.0 997.2L1472.0 997.2L1473.0 999.6L1474.0 986.6L1475.0 986.6L1476.0 986.6L1477.0 995.4L1478.0 990.1L1479.0 990.1L1480.0 995.4L1481.0 993.6L1482.0 993.6L1483.0 993.6L1484.0 991.8L1485.0 991.8L1486.0 991.8L1487.0 991.8L1488.0 988.4L1489.0 988.4L1490.0 988.4L1491.0 993.6L1492.0 993.6L1493.0 993.6L1494.0 991.8L1495.0 991.8L1496.0 991.8L1497.0 990.1L1498.0 990.1L1499.0 990.1L1500.0 991.8L1501.0 993.6L1502.0 993.6L1503.0 993.6L1504.0 999.6L1505.0 999.6L1506.0 999.6L1507.0 999.6L1508.0 999.6L1509.0 993.6L1510.0 993.6L1511.0 993.6L1512.0 986.6L1513.0 997.2L1514.0 997.2L1515.0 991.8L1516.0 991.8L1517.0 990.1L1518.0 990.1L1519.0 997.2L1520.0 997.2L1521.0 991.8L1522.0 991.8L1523.0 997.2L1524.0 997.2L1525.0 997.2L1526.0 991.8L1527.0 986.6L1528.0 986.6L1529.0 986.6L1530.0 993.6L1531.0 993.6L1532.0 993.6L1533.0 997.2L1534.0 997.2L1535.0 997.2L1536.0 990.1L1537.0 990.1L1538.0 986.6L1539.0 986.6L1540.0 986.6L1541.0 991.8L1542.0 991.8L1543.0 991.8L1544.0 997.2L1545.0 997.2L1546.0 997.2L1547.0 986.6L1548.0 986.6L1549.0 986.6L1550.0 990.1L1551.0 990.1L1552.0 993.6L1553.0 993.6L1554.0 993.6L1555.0 991.8L1556.0 993.6L1557.0 993.6L1558.0 993.6L1559.0 993.6L1560.0 993.6L1561.0 988.4L1562.0 991.8L1563.0 990.1L1564.0 993.6L1565.0 993.6L1566.0 993.6L1567.0 993.6L1568.0 993.6L1569.0 993.6L1570.0 993.6L1571.0 990.1L1572.0 993.6L1573.0 993.6L1574.0 986.6L1575.0 986.6L1576.0 995.4L1577.0 995.4L1578.0 995.4L1579.0 995.4L1580.0 995.4L1581.0 995.4L1582.0 991.8L1583.0 991.8L1584.0 995.4L1585.0 995.4L1586.0 995.4L1587.0 993.6L1588.0 993.6L1589.0 995.4L1590.0 995.4L1591.0 986.6L1592.0 986.6L1593.0 988.4L1594.0 990.1L1595.0 991.8L1596.0 991.8L1597.0 991.8L1598.0 991.8L1599.0 995.4L1600.0 995.4L1601.0 995.4L1602.0 995.4L1603.0 986.6L1604.0 986.6L1605.0 986.6L1606.0 990.1L1607.0 990.1L1608.0 993.6L1609.0 993.6L1610.0 993.6L1611.0 995.4L1612.0 993.6L1613.0 988.4L1614.0 988.4L1615.0 993.6L1616.0 993.6L1617.0 993.6L1618.0 993.6L1619.0 993.6L1620.0 991.8L1621.0 991.8L1622.0 997.2L1623.0 997.2L1624.0 997.2L1625.0 991.8L1626.0 988.4L1627.0 988.4L1628.0 990.1L1629.0 990.1L1630.0 990.1L1631.0 991.8L1632.0 991.8L1633.0 997.2L1634.0 997.2L1635.0 997.2L1636.0 997.2L1637.0 986.6L1638.0 990.1L1639.0 991.8L1640.0 991.8L1641.0 991.8L1642.0 986.6L1643.0 993.6L1644.0 990.1L1645.0 990.1L1646.0 990.1L1647.0 990.1L1648.0 990.1L1649.0 993.6L1650.0 993.6L1651.0 993.6L1652.0 988.4L1653.0 997.2L1654.0 997.2L1655.0 997.2L1656.0 990.1L1657.0 990.1L1658.0 999.6L1659.0 999.6L1660.0 997.2L1661.0 997.2L1662.0 991.8L1663.0 997.2L1664.0 997.2L1665.0 991.8L1666.0 988.4L1667.0 988.4L1668.0 988.4L1669.0 997.2L1670.0 997.2L1671.0 997.2L1672.0 997.2L1673.0 997.2L1674.0 993.6L1675.0 993.6L1676.0 991.8L1677.0 991.8L1678.0 993.6L1679.0 993.6L1680.0 990.1L1681.0 990.1L1682.0 990.1L1683.0 990.1L1684.0 991.8L1685.0 991.8L1686.0 991.8L1687.0 997.2L1688.0 997.2L1689.0 990.1L1690.0 991.8L1691.0 991.8L1692.0 991.8L1693.0 993.6L1694.0 993.6L1695.0 999.6L1696.0 999.6L1697.0 999.6L1698.0 993.6L1699.0 990.1L1700.0 990.1L1701.0 990.1L1702.0 988.4L1703.0 988.4L1704.0 995.4L1705.0 995.4L1706.0 990.1L1707.0 986.6L1708.0 986.6L1709.0 995.4L1710.0 995.4L1711.0 995.4L1712.0 999.6L1713.0 999.6L1714.0 990.1L1715.0 990.1L1716.0 990.1L1717.0 990.1L1718.0 990.1L1719.0 986.6L1720.0 995.4L1721.0 986.6L1722.0 993.6L1723.0 993.6L1724.0 999.6L1725.0 997.2L1725.0 1008.6L1724.0 1008.6L1723.0 1007.6L1722.0 1008.6L1721.0 1006.1L1720.0 1006.1L1719.0 1007.6L1718.0 1007.6L1717.0 1010.9L1716.0 1010.9L1715.0 1004.1L1714.0 1008.6L1713.0 1006.1L1712.0 1008.6L1711.0 1008.6L1710.0 1008.6L1709.0 1007.6L1708.0 1007.6L1707.0 1007.6L1706.0 1009.8L1705.0 1008.6L1704.0 1007.6L1703.0 1010.9L1702.0 1010.9L1701.0 1010.9L1700.0 1006.1L1699.0 1006.1L1698.0 1006.1L1697.0 1007.6L1696.0 1010.9L1695.0 1010.9L1694.0 1010.9L1693.0 1006.1L1692.0 1010.9L1691.0 1010.9L1690.0 1010.9L1689.0 1010.9L1688.0 1004.1L1687.0 1004.1L1686.0 1004.1L1685.0 1006.1L1684.0 1007.6L1683.0 1007.6L1682.0 1007.6L1681.0 1008.6L1680.0 1008.6L1679.0 1006.1L1678.0 1009.8L1677.0 1009.8L1676.0 1007.6L1675.0 1006.1L1674.0 1006.1L1673.0 1008.6L1672.0 1008.6L1671.0 1008.6L1670.0 1007.6L1669.0 1007.6L1668.0 1007.6L1667.0 1006.1L1666.0 1006.1L1665.0 1006.1L1664.0 1010.9L1663.0 1008.6L1662.0 1007.6L1661.0 1007.6L1660.0 1007.6L1659.0 1008.6L1658.0 1008.6L1657.0 1008.6L1656.0 1008.6L1655.0 1008.6L1654.0 1008.6L1653.0 1009.8L1652.0 1009.8L1651.0 1009.8L1650.0 1010.9L1649.0 1010.9L1648.0 1006.1L1647.0 1006.1L1646.0 1008.6L1645.0 1008.6L1644.0 1008.6L1643.0 1007.6L1642.0 1010.9L1641.0 1006.1L1640.0 1006.1L1639.0 1007.6L1638.0 1009.8L1637.0 1009.8L1636.0 1009.8L1635.0 1009.8L1634.0 1009.8L1633.0 1009.8L1632.0 1008.6L1631.0 1008.6L1630.0 1008.6L1629.0 1008.6L1628.0 1008.6L1627.0 1009.8L1626.0 1006.1L1625.0 1006.1L1624.0 1004.1L1623.0 1004.1L1622.0 1004.1L1621.0 1007.6L1620.0 1007.6L1619.0 1007.6L1618.0 1010.9L1617.0 1010.9L1616.0 1010.9L1615.0 1007.6L1614.0 1007.6L1613.0 1007.6L1612.0 1008.6L1611.0 1007.6L1610.0 1007.6L1609.0 1008.6L1608.0 1008.6L1607.0 1008.6L1606.0 1006.1L1605.0 1006.1L1604.0 1006.1L1603.0 1007.6L1602.0 1007.6L1601.0 1006.1L1600.0 1006.1L1599.0 1006.1L1598.0 1010.9L1597.0 1007.6L1596.0 1007.6L1595.0 1007.6L1594.0 1009.8L1593.0 1004.1L1592.0 1004.1L1591.0 1008.6L1590.0 1008.6L1589.0 1009.8L1588.0 1009.8L1587.0 1009.8L1586.0 1006.1L1585.0 1007.6L1584.0 1007.6L1583.0 1007.6L1582.0 1008.6L1581.0 1010.9L1580.0 1010.9L1579.0 1007.6L1578.0 1007.6L1577.0 1008.6L1576.0 1008.6L1575.0 1010.9L1574.0 1010.9L1573.0 1007.6L1572.0 1007.6L1571.0 1007.6L1570.0 1006.1L1569.0 1006.1L1568.0 1010.9L1567.0 1010.9L1566.0 1009.8L1565.0 1009.8L1564.0 1009.8L1563.0 1007.6L1562.0 1007.6L1561.0 1008.6L1560.0 1008.6L1559.0 1008.6L1558.0 1004.1L1557.0 1007.6L1556.0 1007.6L1555.0 1007.6L1554.0 1009.8L1553.0 1009.8L1552.0 1008.6L1551.0 1010.9L1550.0 1010.9L1549.0 1010.9L1548.0 1008.6L1547.0 1008.6L1546.0 1008.6L1545.0 1010.9L1544.0 1009.8L1543.0 1009.8L1542.0 1010.9L1541.0 1010.9L1540.0 1007.6L1539.0 1007.6L1538.0 1007.6L1537.0 1007.6L1536.0 1006.1L1535.0 1006.1L1534.0 1006.1L1533.0 1006.1L1532.0 1008.6L1531.0 1008.6L1530.0 1008.6L1529.0 1008.6L1528.0 1007.6L1527.0 1010.9L1526.0 1010.9L1525.0 1010.9L1524.0 1010.9L1523.0 1010.9L1522.0 1006.1L1521.0 1006.1L1520.0 1006.1L1519.0 1010.9L1518.0 1010.9L1517.0 1010.9L1516.0 1007.6L1515.0 1007.6L1514.0 1008.6L1513.0 1004.1L1512.0 1004.1L1511.0 1006.1L1510.0 1006.1L1509.0 1006.1L1508.0 1009.8L1507.0 1009.8L1506.0 1009.8L1505.0 1008.6L1504.0 1008.6L1503.0 1006.1L1502.0 1006.1L1501.0 1006.1L1500.0 1008.6L1499.0 1008.6L1498.0 1007.6L1497.0 1007.6L1496.0 1007.6L1495.0 1008.6L1494.0 1008.6L1493.0 1008.6L1492.0 1009.8L1491.0 1009.8L1490.0 1006.1L1489.0 1006.1L1488.0 1006.1L1487.0 1006.1L1486.0 1006.1L1485.0 1006.1L1484.0 1007.6L1483.0 1007.6L1482.0 1008.6L1481.0 1008.6L1480.0 1009.8L1479.0 1009.8L1478.0 1009.8L1477.0 1009.8L1476.0 1008.6L1475.0 1008.6L1474.0 1006.1L1473.0 1006.1L1472.0 1006.1L1471.0 1006.1L1470.0 1006.1L1469.0 1006.1L1468.0 1010.9L1467.0 1010.9L1466.0 1010.9L1465.0 1008.6L1464.0 1008.6L1463.0 1006.1L1462.0 1006.1L1461.0 1006.1L1460.0 1008.6L1459.0 1010.9L1458.0 1010.9L1457.0 1009.8L1456.0 1009.8L1455.0 1010.9L1454.0 1010.9L1453.0 1008.6L1452.0 1008.6L1451.0 1008.6L1450.0 1009.8L1449.0 1009.8L1448.0 1009.8L1447.0 1007.6L1446.0 1007.6L1445.0 1006.1L1444.0 1007.6L1443.0 1007.6L1442.0 1007.6L1441.0 1008.6L1440.0 1008.6L1439.0 1007.6L1438.0 1007.6L1437.0 1007.6L1436.0 1008.6L1435.0 1008.6L1434.0 1009.8L1433.0 1009.8L1432.0 1006.1L1431.0 1006.1L1430.0 1007.6L1429.0 1007.6L1428.0 1010.9L1427.0 1004.1L1426.0 1004.1L1425.0 1009.8L1424.0 1008.6L1423.0 1008.6L1422.0 1008.6L1421.0 1008.6L1420.0 1008.6L1419.0 1004.1L1418.0 1007.6L1417.0 1010.9L1416.0 1010.9L1415.0 1006.1L1414.0 1007.6L1413.0 1007.6L1412.0 1008.6L1411.0 1008.6L1410.0 1008.6L1409.0 1007.6L1408.0 1007.6L1407.0 1007.6L1406.0 1006.1L1405.0 1008.6L1404.0 1008.6L1403.0 1008.6L1402.0 1008.6L1401.0 1008.6L1400.0 1006.1L1399.0 1007.6L1398.0 1007.6L1397.0 1007.6L1396.0 1008.6L1395.0 1008.6L1394.0 1008.6L1393.0 1009.8L1392.0 1009.8L1391.0 1007.6L1390.0 1007.6L1389.0 1009.8L1388.0 1009.8L1387.0 1007.6L1386.0 1007.6L1385.0 1007.6L1384.0 1009.8L1383.0 1008.6L1382.0 1008.6L1381.0 1008.6L1380.0 1008.6L1379.0 1008.6L1378.0 1008.6L1377.0 1006.1L1376.0 1006.1L1375.0 1006.1L1374.0 1004.1L1373.0 1004.1L1372.0 1004.1L1371.0 1009.8L1370.0 1008.6L1369.0 1008.6L1368.0 1008.6L1367.0 1008.6L1366.0 1008.6L1365.0 1010.9L1364.0 1010.9L1363.0 1007.6L1362.0 1007.6L1361.0 1009.8L1360.0 1009.8L1359.0 1007.6L1358.0 1008.6L1357.0 1008.6L1356.0 1008.6L1355.0 1009.8L1354.0 1009.8L1353.0 1009.8L1352.0 1006.1L1351.0 1009.8L1350.0 1009.8L1349.0 1007.6L1348.0 1007.6L1347.0 1007.6L1346.0 1009.8L1345.0 1008.6L1344.0 1008.6L1343.0 1009.8L1342.0 1009.8L1341.0 1006.1L1340.0 1009.8L1339.0 1010.9L1338.0 1010.9L1337.0 1008.6L1336.0 1008.6L1335.0 1008.6L1334.0 1006.1L1333.0 1006.1L1332.0 1006.1L1331.0 1006.1L1330.0 1006.1L1329.0 1008.6L1328.0 1008.6L1327.0 1008.6L1326.0 1004.1L1325.0 1009.8L1324.0 1004.1L1323.0 1009.8L1322.0 1009.8L1321.0 1007.6L1320.0 1007.6L1319.0 1008.6L1318.0 1008.6L1317.0 1008.6L1316.0 1007.6L1315.0 1007.6L1314.0 1007.6L1313.0 1008.6L1312.0 1008.6L1311.0 1008.6L1310.0 1009.8L1309.0 1009.8L1308.0 1008.6L1307.0 1009.8L1306.0 1009.8L1305.0 1009.8L1304.0 1007.6L1303.0 1007.6L1302.0 1007.6L1301.0 1007.6L1300.0 1007.6L1299.0 1010.9L1298.0 1008.6L1297.0 1008.6L1296.0 1008.6L1295.0 1007.6L1294.0 1007.6L1293.0 1004.1L1292.0 1007.6L1291.0 1007.6L1290.0 1008.6L1289.0 1008.6L1288.0 1008.6L1287.0 1007.6L1286.0 1007.6L1285.0 1007.6L1284.0 1009.8L1283.0 1009.8L1282.0 1004.1L1281.0 1008.6L1280.0 1008.6L1279.0 1008.6L1278.0 1008.6L1277.0 1010.9L1276.0 1008.6L1275.0 1008.6L1274.0 1007.6L1273.0 1006.1L1272.0 1006.1L1271.0 1009.8L1270.0 1006.1L1269.0 1006.1L1268.0 1008.6L1267.0 1007.6L1266.0 1006.1L1265.0 1006.1L1264.0 1006.1L1263.0 1006.1L1262.0 1009.8L1261.0 1009.8L1260.0 1009.8L1259.0 1008.6L1258.0 1006.1L1257.0 1008.6L1256.0 1008.6L1255.0 1007.6L1254.0 1007.6L1253.0 1006.1L1252.0 1006.1L1251.0 1006.1L1250.0 1007.6L1249.0 1007.6L1248.0 1007.6L1247.0 1009.8L1246.0 1006.1L1245.0 1006.1L1244.0 1006.1L1243.0 1007.6L1242.0 1007.6L1241.0 1007.6L1240.0 1006.1L1239.0 1006.1L1238.0 1006.1L1237.0 1010.9L1236.0 1010.9L1235.0 1008.6L1234.0 1006.1L1233.0 1006.1L1232.0 1006.1L1231.0 1004.1L1230.0 1004.1L1229.0 1004.1L1228.0 1007.6L1227.0 1007.6L1226.0 1010.9L1225.0 1010.9L1224.0 1010.9L1223.0 1006.1L1222.0 1006.1L1221.0 1009.8L1220.0 1009.8L1219.0 1010.9L1218.0 1007.6L1217.0 1009.8L1216.0 1009.8L1215.0 1009.8L1214.0 1009.8L1213.0 1009.8L1212.0 1009.8L1211.0 1009.8L1210.0 1004.1L1209.0 1004.1L1208.0 1004.1L1207.0 1009.8L1206.0 1009.8L1205.0 1004.1Z" fill="#000" stroke="#000" stroke-width="1.2" stroke-linejoin="round" clip-path="url(#c6)"/>
<path d="M1726 1017V845" stroke="#1f77b4" stroke-width="2.08" stroke-dasharray="2.08 3.43" fill="none"/>
<path d="M1205 1017.5h5.1M1205 974.5h5.1M1205 931.5h5.1M1205 888.5h5.1M1205 845.5h5.1" stroke="#000" stroke-width="1" fill="none"/>
<path d="M1205 1004.5h3.3M1205 996.5h3.3M1205 991.5h3.3M1205 986.5h3.3M1205 983.5h3.3M1205 980.5h3.3M1205 978.5h3.3M1205 975.5h3.3M1205 961.5h3.3M1205 953.5h3.3M1205 948.5h3.3M1205 943.5h3.3M1205 940.5h3.3M1205 937.5h3.3M1205 935.5h3.3M1205 932.5h3.3M1205 918.5h3.3M1205 910.5h3.3M1205 905.5h3.3M1205 900.5h3.3M1205 897.5h3.3M1205 894.5h3.3M1205 892.5h3.3M1205 889.5h3.3M1205 875.5h3.3M1205 867.5h3.3M1205 862.5h3.3M1205 857.5h3.3M1205 854.5h3.3M1205 851.5h3.3M1205 849.5h3.3M1205 846.5h3.3" stroke="#000" stroke-width="1" fill="none"/>
<path d="M1800 1017.5h-5.1M1800 974.5h-5.1M1800 931.5h-5.1M1800 888.5h-5.1M1800 845.5h-5.1" stroke="#000" stroke-width="1" fill="none"/>
<path d="M1800 1004.5h-3.3M1800 996.5h-3.3M1800 991.5h-3.3M1800 986.5h-3.3M1800 983.5h-3.3M1800 980.5h-3.3M1800 978.5h-3.3M1800 975.5h-3.3M1800 961.5h-3.3M1800 953.5h-3.3M1800 948.5h-3.3M1800 943.5h-3.3M1800 940.5h-3.3M1800 937.5h-3.3M1800 935.5h-3.3M1800 932.5h-3.3M1800 918.5h-3.3M1800 910.5h-3.3M1800 905.5h-3.3M1800 900.5h-3.3M1800 897.5h-3.3M1800 894.5h-3.3M1800 892.5h-3.3M1800 889.5h-3.3M1800 875.5h-3.3M1800 867.5h-3.3M1800 862.5h-3.3M1800 857.5h-3.3M1800 854.5h-3.3M1800 851.5h-3.3M1800 849.5h-3.3M1800 846.5h-3.3" stroke="#000" stroke-width="1" fill="none"/>
<path d="M1257.5 1017v-5.1M1331.5 1017v-5.1M1406.5 1017v-5.1M1480.5 1017v-5.1M1554.5 1017v-5.1M1629.5 1017v-5.1M1703.5 1017v-5.1M1777.5 1017v-5.1" stroke="#000" stroke-width="1" fill="none"/>
<rect x="1205" y="845" width="595" height="172" fill="none" stroke="#000" stroke-width="2"/>
<text x="1154.19" y="1024.9" font-size="19.44">10<tspan dy="-7.1" font-size="13.61">−1</tspan></text>
<text x="1165.6" y="981.9" font-size="19.44">10<tspan dy="-7.1" font-size="13.61">0</tspan></text>
<text x="1165.6" y="938.9" font-size="19.44">10<tspan dy="-7.1" font-size="13.61">1</tspan></text>
<text x="1165.6" y="895.9" font-size="19.44">10<tspan dy="-7.1" font-size="13.61">2</tspan></text>
<text x="1165.6" y="852.9" font-size="19.44">10<tspan dy="-7.1" font-size="13.61">3</tspan></text>
<text x="1256.9" y="1037.7" font-size="19.44" text-anchor="middle">27</text>
<text x="1331.23" y="1037.7" font-size="19.44" text-anchor="middle">28</text>
<text x="1405.56" y="1037.7" font-size="19.44" text-anchor="middle">29</text>
<text x="1479.89" y="1037.7" font-size="19.44" text-anchor="middle">30</text>
<text x="1554.22" y="1037.7" font-size="19.44" text-anchor="middle">01</text>
<text x="1628.55" y="1037.7" font-size="19.44" text-anchor="middle">02</text>
<text x="1702.88" y="1037.7" font-size="19.44" text-anchor="middle">03</text>
<text x="1777.21" y="1037.7" font-size="19.44" text-anchor="middle">04</text>
<text x="1450.02" y="1064.4" font-size="23.61" textLength="100.18" lengthAdjust="spacing">June/July</text>
<text x="1441.47" y="1092.6" font-size="23.61" textLength="121.16" lengthAdjust="spacing">2019 (UT)</text>
<text x="-2.5" y="0" font-size="23.61" textLength="253.07" lengthAdjust="spacing" transform="translate(1104.5,1056.3) rotate(-90)">&gt;10 MeV Proton Flux</text>
<text transform="translate(1138.9,1016.5) rotate(-90)"><tspan x="-2.03" y="0" font-size="23.61">(</tspan><tspan x="14.45" y="0" font-size="23.61" textLength="37.6" lengthAdjust="spacing">cm</tspan><tspan x="53.09" y="-9.6" font-size="16.53">2</tspan><tspan x="68.72" y="0" font-size="23.61">s</tspan><tspan x="81.45" y="-9.6" font-size="16.53">−1</tspan><tspan x="110.42" y="0" font-size="23.61">sr</tspan><tspan x="133.15" y="-9.6" font-size="16.53">−1</tspan><tspan x="163.81" y="0" font-size="23.61">)</tspan></text>
<text x="562.43" y="40.75" font-size="23.61" textLength="875.48" lengthAdjust="spacing">BAS-RBM Relativistic Electron Forecast, issued at 19:10 UT, 03 July 2019</text>
</svg>
</body></html>
